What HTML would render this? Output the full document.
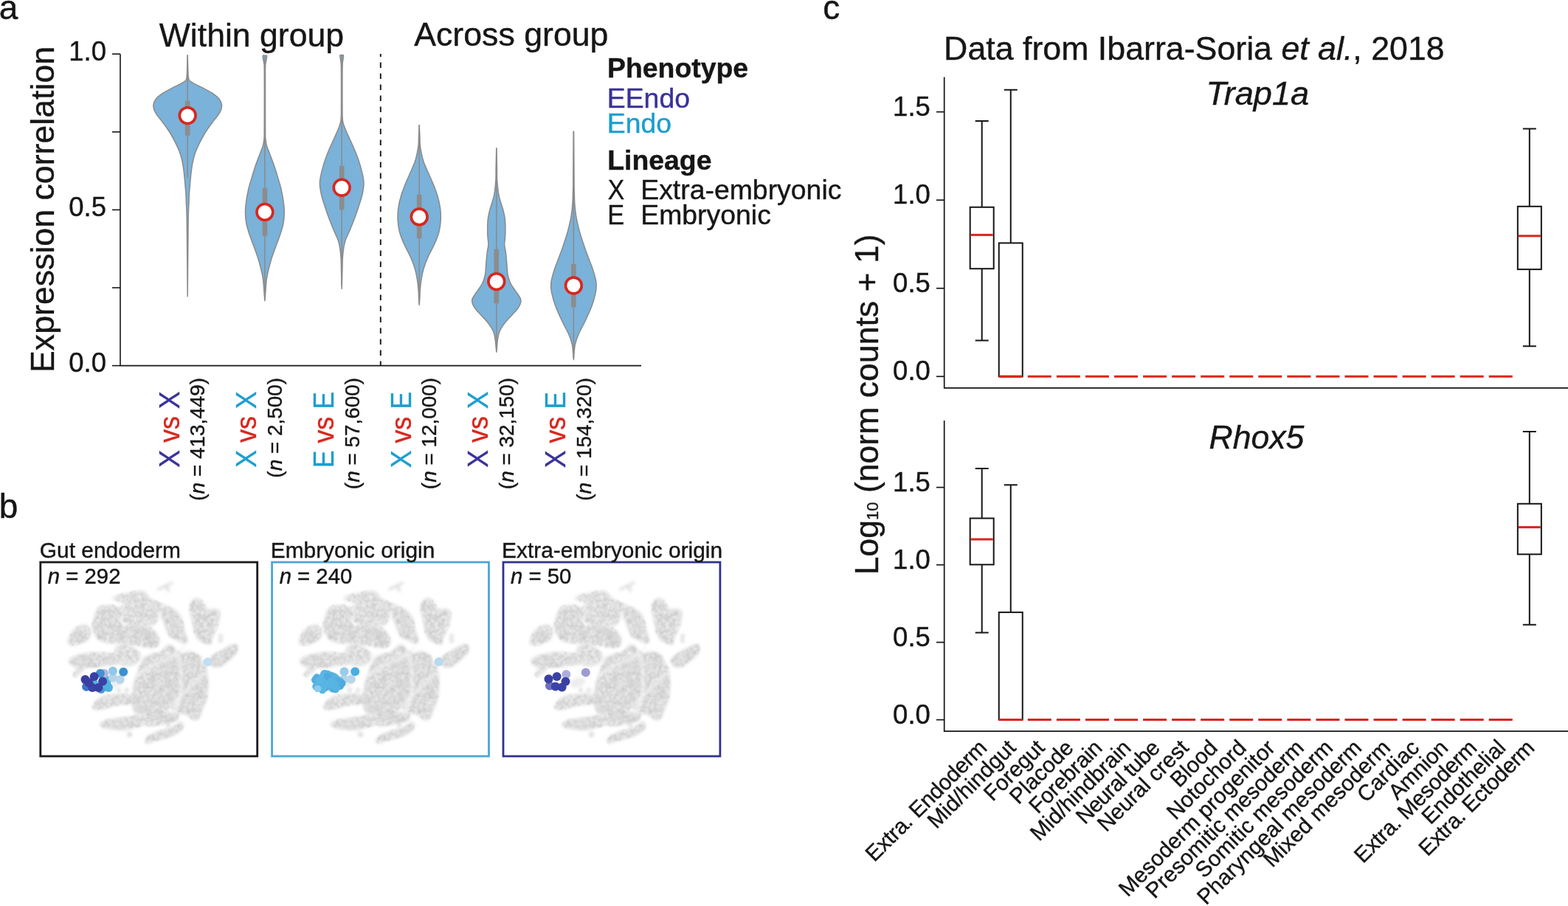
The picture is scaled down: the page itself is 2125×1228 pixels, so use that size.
<!DOCTYPE html><html><head><meta charset="utf-8"><title>Figure</title>
<style>html,body{margin:0;padding:0;background:#fff;overflow:hidden;}svg{display:block;}text{font-family:"Liberation Sans", Arial, Helvetica, sans-serif;}</style></head><body>
<svg width="2125" height="1228" viewBox="0 0 2125 1228">
<rect width="2125" height="1228" fill="#fff"/>
<text x="-1.17" y="25.6" font-size="46" fill="#161616" stroke="#161616" stroke-width="0.4">a</text>
<text x="215.78" y="62.5" font-size="44.6" fill="#161616" stroke="#161616" stroke-width="0.4">Within group</text>
<text x="561.18" y="62.4" font-size="44.7" fill="#161616" stroke="#161616" stroke-width="0.4">Across group</text>
<g stroke="#161616" stroke-width="1.6" fill="none">
<path d="M163,73.2 V495.6 H869"/>
<path d="M152,495.6 H163"/>
<path d="M152,390 H163"/>
<path d="M152,284.4 H163"/>
<path d="M152,178.8 H163"/>
<path d="M152,73.2 H163"/>
</g>
<text x="93.32" y="504" font-size="36.5" fill="#161616" stroke="#161616" stroke-width="0.4">0.0</text>
<text x="93.32" y="292.8" font-size="36.5" fill="#161616" stroke="#161616" stroke-width="0.4">0.5</text>
<text x="93.32" y="81.6" font-size="36.5" fill="#161616" stroke="#161616" stroke-width="0.4">1.0</text>
<text transform="translate(72.8,504.98) rotate(-90)" font-size="44.7" fill="#161616" stroke="#161616" stroke-width="0.4">Expression correlation</text>
<path d="M515.8,73 V495" stroke="#161616" stroke-width="1.9" stroke-dasharray="7.5 7.5" stroke-dashoffset="3.5"/>
<path d="M254.2,74.7C254.3,78.08 254.63,90.12 254.8,95C254.97,99.88 255,101.92 255.2,104C255.4,106.08 255.68,106.55 256,107.5C256.32,108.45 255.68,108.6 257.1,109.7C258.52,110.8 261.32,112.4 264.5,114.1C267.68,115.8 272.05,117.7 276.2,119.9C280.35,122.1 285.85,124.85 289.4,127.3C292.95,129.75 295.67,132.17 297.5,134.6C299.33,137.03 300.08,139.45 300.4,141.9C300.72,144.35 300.27,146.85 299.4,149.3C298.53,151.75 296.87,154.17 295.2,156.6C293.53,159.03 291.47,161.22 289.4,163.9C287.33,166.58 285,169.52 282.8,172.7C280.6,175.88 278.33,179.33 276.2,183C274.07,186.67 271.9,190.78 270,194.7C268.1,198.62 266.27,202.33 264.8,206.5C263.33,210.67 262.17,215.07 261.2,219.7C260.23,224.33 259.6,229.42 259,234.3C258.4,239.18 258.03,244.1 257.6,249C257.17,253.9 256.67,259.35 256.4,263.7C256.13,268.05 256.18,270.72 256,275.1C255.82,279.48 255.48,282.52 255.3,290C255.12,297.48 255.08,301.38 254.9,320C254.72,338.62 254.32,388.08 254.2,401.7L254.2,401.7C254.08,388.08 253.68,338.62 253.5,320C253.32,301.38 253.28,297.48 253.1,290C252.92,282.52 252.58,279.48 252.4,275.1C252.22,270.72 252.27,268.05 252,263.7C251.73,259.35 251.23,253.9 250.8,249C250.37,244.1 250,239.18 249.4,234.3C248.8,229.42 248.17,224.33 247.2,219.7C246.23,215.07 245.07,210.67 243.6,206.5C242.13,202.33 240.3,198.62 238.4,194.7C236.5,190.78 234.33,186.67 232.2,183C230.07,179.33 227.8,175.88 225.6,172.7C223.4,169.52 221.07,166.58 219,163.9C216.93,161.22 214.87,159.03 213.2,156.6C211.53,154.17 209.87,151.75 209,149.3C208.13,146.85 207.68,144.35 208,141.9C208.32,139.45 209.07,137.03 210.9,134.6C212.73,132.17 215.45,129.75 219,127.3C222.55,124.85 228.05,122.1 232.2,119.9C236.35,117.7 240.72,115.8 243.9,114.1C247.08,112.4 249.88,110.8 251.3,109.7C252.72,108.6 252.08,108.45 252.4,107.5C252.72,106.55 253,106.08 253.2,104C253.4,101.92 253.43,99.88 253.6,95C253.77,90.12 254.1,78.08 254.2,74.7Z" fill="#7ab2da" stroke="#8a8a8a" stroke-width="1.5" stroke-linejoin="round"/>
<path d="M254.2,74.7 V240.9" stroke="#8c8c8c" stroke-width="1.6"/>
<rect x="250.9" y="136.8" width="6.6" height="46.9" fill="#8c8c8c"/>
<circle cx="254.2" cy="156.6" r="10.9" fill="#fff" stroke="#d9261c" stroke-width="3.6"/>
<path d="M358.9,75.2C359.33,75.23 361.1,74.77 361.5,75.4C361.9,76.03 361.52,77.4 361.3,79C361.08,80.6 360.48,83 360.2,85C359.92,87 359.72,85.17 359.6,91C359.48,96.83 359.5,105.17 359.5,120C359.5,134.83 359.5,168.33 359.6,180C359.7,191.67 359.8,187.1 360.1,190C360.4,192.9 360.47,194.22 361.4,197.4C362.33,200.58 364,204.53 365.7,209.1C367.4,213.67 369.8,219.58 371.6,224.8C373.4,230.02 374.93,235.18 376.5,240.4C378.07,245.62 379.77,250.88 381,256.1C382.23,261.32 383.18,266.48 383.9,271.7C384.62,276.92 385.3,282.18 385.3,287.4C385.3,292.62 384.88,297.78 383.9,303C382.92,308.22 381.12,313.47 379.4,318.7C377.68,323.93 375.48,329.18 373.6,334.4C371.72,339.62 369.73,344.78 368.1,350C366.47,355.22 364.92,361.13 363.8,365.7C362.68,370.27 361.98,373.5 361.4,377.4C360.82,381.3 360.58,385.67 360.3,389.1C360.02,392.53 359.93,394.9 359.7,398C359.47,401.1 359.03,406.08 358.9,407.7L358.9,407.7C358.77,406.08 358.33,401.1 358.1,398C357.87,394.9 357.78,392.53 357.5,389.1C357.22,385.67 356.98,381.3 356.4,377.4C355.82,373.5 355.12,370.27 354,365.7C352.88,361.13 351.33,355.22 349.7,350C348.07,344.78 346.08,339.62 344.2,334.4C342.32,329.18 340.12,323.93 338.4,318.7C336.68,313.47 334.88,308.22 333.9,303C332.92,297.78 332.5,292.62 332.5,287.4C332.5,282.18 333.18,276.92 333.9,271.7C334.62,266.48 335.57,261.32 336.8,256.1C338.03,250.88 339.73,245.62 341.3,240.4C342.87,235.18 344.4,230.02 346.2,224.8C348,219.58 350.4,213.67 352.1,209.1C353.8,204.53 355.47,200.58 356.4,197.4C357.33,194.22 357.4,192.9 357.7,190C358,187.1 358.1,191.67 358.2,180C358.3,168.33 358.3,134.83 358.3,120C358.3,105.17 358.32,96.83 358.2,91C358.08,85.17 357.88,87 357.6,85C357.32,83 356.72,80.6 356.5,79C356.28,77.4 355.9,76.03 356.3,75.4C356.7,74.77 358.47,75.23 358.9,75.2Z" fill="#7ab2da" stroke="#8a8a8a" stroke-width="1.5" stroke-linejoin="round"/>
<path d="M358.9,75.2 V400" stroke="#8c8c8c" stroke-width="1.6"/>
<rect x="355.6" y="255.1" width="6.6" height="64.6" fill="#8c8c8c"/>
<circle cx="358.9" cy="287.4" r="10.9" fill="#fff" stroke="#d9261c" stroke-width="3.6"/>
<path d="M463.2,74.7C463.57,74.73 465.07,74.18 465.4,74.9C465.73,75.62 465.4,77.15 465.2,79C465,80.85 464.42,82.5 464.2,86C463.98,89.5 463.95,89.33 463.9,100C463.85,110.67 463.82,139.5 463.9,150C463.98,160.5 463.97,159.47 464.4,163C464.83,166.53 465.35,167.93 466.5,171.2C467.65,174.47 469.27,178 471.3,182.6C473.33,187.2 476.38,193.38 478.7,198.8C481.02,204.22 483.3,209.67 485.2,215.1C487.1,220.53 488.8,225.97 490.1,231.4C491.4,236.83 492.87,242.28 493,247.7C493.13,253.12 492.07,258.48 490.9,263.9C489.73,269.32 487.77,274.77 486,280.2C484.23,285.63 482.33,291.07 480.3,296.5C478.27,301.93 475.83,307.92 473.8,312.8C471.77,317.68 469.47,321.73 468.1,325.8C466.73,329.87 466.23,333.17 465.6,337.2C464.97,341.23 464.58,345.37 464.3,350C464.02,354.63 464.08,358.08 463.9,365C463.72,371.92 463.32,387.08 463.2,391.5L463.2,391.5C463.08,387.08 462.68,371.92 462.5,365C462.32,358.08 462.38,354.63 462.1,350C461.82,345.37 461.43,341.23 460.8,337.2C460.17,333.17 459.67,329.87 458.3,325.8C456.93,321.73 454.63,317.68 452.6,312.8C450.57,307.92 448.13,301.93 446.1,296.5C444.07,291.07 442.17,285.63 440.4,280.2C438.63,274.77 436.67,269.32 435.5,263.9C434.33,258.48 433.27,253.12 433.4,247.7C433.53,242.28 435,236.83 436.3,231.4C437.6,225.97 439.3,220.53 441.2,215.1C443.1,209.67 445.38,204.22 447.7,198.8C450.02,193.38 453.07,187.2 455.1,182.6C457.13,178 458.75,174.47 459.9,171.2C461.05,167.93 461.57,166.53 462,163C462.43,159.47 462.42,160.5 462.5,150C462.58,139.5 462.55,110.67 462.5,100C462.45,89.33 462.42,89.5 462.2,86C461.98,82.5 461.4,80.85 461.2,79C461,77.15 460.67,75.62 461,74.9C461.33,74.18 462.83,74.73 463.2,74.7Z" fill="#7ab2da" stroke="#8a8a8a" stroke-width="1.5" stroke-linejoin="round"/>
<path d="M463.2,74.7 V388" stroke="#8c8c8c" stroke-width="1.6"/>
<rect x="459.9" y="224.9" width="6.6" height="59.4" fill="#8c8c8c"/>
<circle cx="463.2" cy="254.2" r="10.9" fill="#fff" stroke="#d9261c" stroke-width="3.6"/>
<path d="M568.2,169.4C568.32,172 568.72,180.53 568.9,185C569.08,189.47 568.97,192.6 569.3,196.2C569.63,199.8 570.12,202.8 570.9,206.6C571.68,210.4 572.62,214.85 574,219C575.38,223.15 577.12,226.65 579.2,231.5C581.28,236.35 584.25,242.55 586.5,248.1C588.75,253.65 591.03,259.25 592.7,264.8C594.37,270.35 595.73,275.87 596.5,281.4C597.27,286.93 597.58,292.45 597.3,298C597.02,303.55 596.25,309.15 594.8,314.7C593.35,320.25 591.03,325.77 588.6,331.3C586.17,336.83 582.63,342.37 580.2,347.9C577.77,353.43 575.55,359.3 574,364.5C572.45,369.7 571.68,374.25 570.9,379.1C570.12,383.95 569.63,389.62 569.3,393.6C568.97,397.58 569.08,399.7 568.9,403C568.72,406.3 568.32,411.67 568.2,413.4L568.2,413.4C568.08,411.67 567.68,406.3 567.5,403C567.32,399.7 567.43,397.58 567.1,393.6C566.77,389.62 566.28,383.95 565.5,379.1C564.72,374.25 563.95,369.7 562.4,364.5C560.85,359.3 558.63,353.43 556.2,347.9C553.77,342.37 550.23,336.83 547.8,331.3C545.37,325.77 543.05,320.25 541.6,314.7C540.15,309.15 539.38,303.55 539.1,298C538.82,292.45 539.13,286.93 539.9,281.4C540.67,275.87 542.03,270.35 543.7,264.8C545.37,259.25 547.65,253.65 549.9,248.1C552.15,242.55 555.12,236.35 557.2,231.5C559.28,226.65 561.02,223.15 562.4,219C563.78,214.85 564.72,210.4 565.5,206.6C566.28,202.8 566.77,199.8 567.1,196.2C567.43,192.6 567.32,189.47 567.5,185C567.68,180.53 568.08,172 568.2,169.4Z" fill="#7ab2da" stroke="#8a8a8a" stroke-width="1.5" stroke-linejoin="round"/>
<path d="M568.2,169.4 V412" stroke="#8c8c8c" stroke-width="1.6"/>
<rect x="564.9" y="263.7" width="6.6" height="59.3" fill="#8c8c8c"/>
<circle cx="568.2" cy="293.9" r="10.9" fill="#fff" stroke="#d9261c" stroke-width="3.6"/>
<path d="M672.8,200.8C672.9,204.83 673.27,218.1 673.4,225C673.53,231.9 673.45,237.7 673.6,242.2C673.75,246.7 674,248.85 674.3,252C674.6,255.15 674.98,258.43 675.4,261.1C675.82,263.77 676.22,265.63 676.8,268C677.38,270.37 678.18,272.97 678.9,275.3C679.62,277.63 680.42,279.63 681.1,282C681.78,284.37 682.48,287.17 683,289.5C683.52,291.83 683.9,293.63 684.2,296C684.5,298.37 684.7,300.07 684.8,303.7C684.9,307.33 684.92,314.08 684.8,317.8C684.68,321.52 684.28,323.63 684.1,326C683.92,328.37 683.5,329.42 683.7,332C683.9,334.58 684.8,337.57 685.3,341.5C685.8,345.43 686.3,350.88 686.7,355.6C687.1,360.32 687.27,366.23 687.7,369.8C688.13,373.37 688.6,374.63 689.3,377C690,379.37 690.73,381.67 691.9,384C693.07,386.33 694.72,388.63 696.3,391C697.88,393.37 699.85,395.82 701.4,398.2C702.95,400.58 704.9,403.33 705.6,405.3C706.3,407.27 705.9,408.43 705.6,410C705.3,411.57 704.68,413.03 703.8,414.7C702.92,416.37 701.88,418.03 700.3,420C698.72,421.97 697.07,423.45 694.3,426.5C691.53,429.55 686.65,434.37 683.7,438.3C680.75,442.23 678.18,446.15 676.6,450.1C675.02,454.05 674.72,458.68 674.2,462C673.68,465.32 673.73,467.45 673.5,470C673.27,472.55 672.92,476.08 672.8,477.3L672.8,477.3C672.68,476.08 672.33,472.55 672.1,470C671.87,467.45 671.92,465.32 671.4,462C670.88,458.68 670.58,454.05 669,450.1C667.42,446.15 664.85,442.23 661.9,438.3C658.95,434.37 654.07,429.55 651.3,426.5C648.53,423.45 646.88,421.97 645.3,420C643.72,418.03 642.68,416.37 641.8,414.7C640.92,413.03 640.3,411.57 640,410C639.7,408.43 639.3,407.27 640,405.3C640.7,403.33 642.65,400.58 644.2,398.2C645.75,395.82 647.72,393.37 649.3,391C650.88,388.63 652.53,386.33 653.7,384C654.87,381.67 655.6,379.37 656.3,377C657,374.63 657.47,373.37 657.9,369.8C658.33,366.23 658.5,360.32 658.9,355.6C659.3,350.88 659.8,345.43 660.3,341.5C660.8,337.57 661.7,334.58 661.9,332C662.1,329.42 661.68,328.37 661.5,326C661.32,323.63 660.92,321.52 660.8,317.8C660.68,314.08 660.7,307.33 660.8,303.7C660.9,300.07 661.1,298.37 661.4,296C661.7,293.63 662.08,291.83 662.6,289.5C663.12,287.17 663.82,284.37 664.5,282C665.18,279.63 665.98,277.63 666.7,275.3C667.42,272.97 668.22,270.37 668.8,268C669.38,265.63 669.78,263.77 670.2,261.1C670.62,258.43 671,255.15 671.3,252C671.6,248.85 671.85,246.7 672,242.2C672.15,237.7 672.07,231.9 672.2,225C672.33,218.1 672.7,204.83 672.8,200.8Z" fill="#7ab2da" stroke="#8a8a8a" stroke-width="1.5" stroke-linejoin="round"/>
<path d="M672.8,200.8 V476" stroke="#8c8c8c" stroke-width="1.6"/>
<rect x="669.5" y="337.9" width="6.6" height="73.3" fill="#8c8c8c"/>
<circle cx="672.8" cy="381.6" r="10.9" fill="#fff" stroke="#d9261c" stroke-width="3.6"/>
<path d="M777.4,177.9C777.47,184.92 777.7,208.08 777.8,220C777.9,231.92 777.9,241.9 778,249.4C778.1,256.9 778.27,260.58 778.4,265C778.53,269.42 778.55,272.23 778.8,275.9C779.05,279.57 779.47,283.48 779.9,287C780.33,290.52 780.77,293.67 781.4,297C782.03,300.33 782.82,303.47 783.7,307C784.58,310.53 785.02,312.8 786.7,318.2C788.38,323.6 791.28,332.33 793.8,339.4C796.32,346.47 799.9,355.33 801.8,360.6C803.7,365.87 804.2,367.47 805.2,371C806.2,374.53 807.33,378.63 807.8,381.8C808.27,384.97 808.13,387.37 808,390C807.87,392.63 807.92,393.68 807,397.6C806.08,401.52 804.78,407.32 802.5,413.5C800.22,419.68 796.38,428.08 793.3,434.7C790.22,441.32 786.3,447.9 784,453.2C781.7,458.5 780.47,462.53 779.5,466.5C778.53,470.47 778.55,473.48 778.2,477C777.85,480.52 777.53,485.83 777.4,487.6L777.4,487.6C777.27,485.83 776.95,480.52 776.6,477C776.25,473.48 776.27,470.47 775.3,466.5C774.33,462.53 773.1,458.5 770.8,453.2C768.5,447.9 764.58,441.32 761.5,434.7C758.42,428.08 754.58,419.68 752.3,413.5C750.02,407.32 748.72,401.52 747.8,397.6C746.88,393.68 746.93,392.63 746.8,390C746.67,387.37 746.53,384.97 747,381.8C747.47,378.63 748.6,374.53 749.6,371C750.6,367.47 751.1,365.87 753,360.6C754.9,355.33 758.48,346.47 761,339.4C763.52,332.33 766.42,323.6 768.1,318.2C769.78,312.8 770.22,310.53 771.1,307C771.98,303.47 772.77,300.33 773.4,297C774.03,293.67 774.47,290.52 774.9,287C775.33,283.48 775.75,279.57 776,275.9C776.25,272.23 776.27,269.42 776.4,265C776.53,260.58 776.7,256.9 776.8,249.4C776.9,241.9 776.9,231.92 777,220C777.1,208.08 777.33,184.92 777.4,177.9Z" fill="#7ab2da" stroke="#8a8a8a" stroke-width="1.5" stroke-linejoin="round"/>
<path d="M777.4,177.9 V486" stroke="#8c8c8c" stroke-width="1.6"/>
<rect x="774.1" y="357.9" width="6.6" height="58.3" fill="#8c8c8c"/>
<circle cx="777.4" cy="387" r="10.9" fill="#fff" stroke="#d9261c" stroke-width="3.6"/>
<text transform="translate(242.5,530.3) rotate(-90) scale(0.917,1)" font-size="39.0" text-anchor="end"><tspan fill="#38329a" stroke="#38329a" stroke-width="0.4">X</tspan> <tspan fill="#d9261c" stroke="#d9261c" stroke-width="0.4">vs</tspan> <tspan fill="#38329a" stroke="#38329a" stroke-width="0.4">X</tspan></text>
<text transform="translate(277.2,511.96) rotate(-90)" font-size="27.9" text-anchor="end" fill="#161616" stroke="#161616" stroke-width="0.4">(<tspan font-style="italic">n</tspan> = 413,449)</text>
<text transform="translate(347.1,530.3) rotate(-90) scale(0.917,1)" font-size="39.0" text-anchor="end"><tspan fill="#1c9ecf" stroke="#1c9ecf" stroke-width="0.4">X</tspan> <tspan fill="#d9261c" stroke="#d9261c" stroke-width="0.4">vs</tspan> <tspan fill="#1c9ecf" stroke="#1c9ecf" stroke-width="0.4">X</tspan></text>
<text transform="translate(381.8,511.96) rotate(-90)" font-size="27.9" text-anchor="end" fill="#161616" stroke="#161616" stroke-width="0.4">(<tspan font-style="italic">n</tspan> = 2,500)</text>
<text transform="translate(451.9,531.02) rotate(-90) scale(0.917,1)" font-size="39.0" text-anchor="end"><tspan fill="#1c9ecf" stroke="#1c9ecf" stroke-width="0.4">E</tspan> <tspan fill="#d9261c" stroke="#d9261c" stroke-width="0.4">vs</tspan> <tspan fill="#1c9ecf" stroke="#1c9ecf" stroke-width="0.4">E</tspan></text>
<text transform="translate(486.6,511.96) rotate(-90)" font-size="27.9" text-anchor="end" fill="#161616" stroke="#161616" stroke-width="0.4">(<tspan font-style="italic">n</tspan> = 57,600)</text>
<text transform="translate(556.5,531.02) rotate(-90) scale(0.917,1)" font-size="39.0" text-anchor="end"><tspan fill="#1c9ecf" stroke="#1c9ecf" stroke-width="0.4">X</tspan> <tspan fill="#d9261c" stroke="#d9261c" stroke-width="0.4">vs</tspan> <tspan fill="#1c9ecf" stroke="#1c9ecf" stroke-width="0.4">E</tspan></text>
<text transform="translate(591.2,511.96) rotate(-90)" font-size="27.9" text-anchor="end" fill="#161616" stroke="#161616" stroke-width="0.4">(<tspan font-style="italic">n</tspan> = 12,000)</text>
<text transform="translate(661.4,530.3) rotate(-90) scale(0.917,1)" font-size="39.0" text-anchor="end"><tspan fill="#38329a" stroke="#38329a" stroke-width="0.4">X</tspan> <tspan fill="#d9261c" stroke="#d9261c" stroke-width="0.4">vs</tspan> <tspan fill="#1c9ecf" stroke="#1c9ecf" stroke-width="0.4">X</tspan></text>
<text transform="translate(696.1,511.96) rotate(-90)" font-size="27.9" text-anchor="end" fill="#161616" stroke="#161616" stroke-width="0.4">(<tspan font-style="italic">n</tspan> = 32,150)</text>
<text transform="translate(765.9,531.02) rotate(-90) scale(0.917,1)" font-size="39.0" text-anchor="end"><tspan fill="#38329a" stroke="#38329a" stroke-width="0.4">X</tspan> <tspan fill="#d9261c" stroke="#d9261c" stroke-width="0.4">vs</tspan> <tspan fill="#1c9ecf" stroke="#1c9ecf" stroke-width="0.4">E</tspan></text>
<text transform="translate(800.6,511.96) rotate(-90)" font-size="27.9" text-anchor="end" fill="#161616" stroke="#161616" stroke-width="0.4">(<tspan font-style="italic">n</tspan> = 154,320)</text>
<text x="822.97" y="104.8" font-size="37.4" font-weight="bold" fill="#161616" stroke="#161616" stroke-width="0.4">Phenotype</text>
<text x="822.71" y="145.7" font-size="37.4" fill="#38329a" stroke="#38329a" stroke-width="0.4">EEndo</text>
<text x="822.71" y="180" font-size="37.4" fill="#1c9ecf" stroke="#1c9ecf" stroke-width="0.4">Endo</text>
<text x="823.17" y="229.5" font-size="37.4" font-weight="bold" fill="#161616" stroke="#161616" stroke-width="0.4">Lineage</text>
<text x="823.67" y="269.9" font-size="37.4" fill="#161616" transform="translate(824.6,0) scale(0.9,1) translate(-824.6,0)" stroke="#161616" stroke-width="0.4">X</text>
<text x="868.21" y="269.9" font-size="37.4" fill="#161616" stroke="#161616" stroke-width="0.4">Extra-embryonic</text>
<text x="822.91" y="303.7" font-size="37.4" fill="#161616" transform="translate(825.9,0) scale(0.92,1) translate(-825.9,0)" stroke="#161616" stroke-width="0.4">E</text>
<text x="868.21" y="303.7" font-size="37.4" fill="#161616" stroke="#161616" stroke-width="0.4">Embryonic</text>
<text x="-1.19" y="701.5" font-size="46" fill="#161616" stroke="#161616" stroke-width="0.4">b</text>
<defs><filter id="bl" x="-10%" y="-10%" width="120%" height="120%"><feGaussianBlur stdDeviation="2.2"/></filter>
<filter id="bl2" x="-5%" y="-5%" width="110%" height="110%"><feGaussianBlur stdDeviation="0.8"/></filter>
</defs>
<g transform="translate(-626.1,0)"><g filter="url(#bl)"><path d="M788.1,825.5C789.3,822.6 792.2,817.7 797.9,816.9C803.6,816.1 816.2,819.2 822.4,820.6C828.5,822 831.5,822.8 834.6,825.5C837.6,828.1 840.7,832.8 840.7,836.5C840.7,840.2 837.6,845.9 834.6,847.5C831.5,849.1 827.5,846.5 822.4,846.3C817.3,846.1 808.9,846.9 804,846.3C799.1,845.7 795.2,844.7 793,842.6C790.7,840.6 791.4,836.9 790.5,834C789.7,831.2 786.9,828.3 788.1,825.5Z" fill="#e0e0e0"/><path d="M718.4,868.3C718.8,865.9 720.2,861.4 722,858.5C723.9,855.7 726.9,853 729.4,851.2C731.8,849.3 734.1,847.9 736.7,847.5C739.4,847.1 743.2,847.3 745.3,848.7C747.3,850.2 748.7,853.2 748.9,856.1C749.1,858.9 748.3,863.4 746.5,865.9C744.7,868.3 741.2,869.3 737.9,870.8C734.7,872.2 730,874 726.9,874.4C723.9,874.8 721,874.2 719.6,873.2C718.1,872.2 717.9,870.8 718.4,868.3Z" fill="#d9d9d9"/><path d="M751.4,847.5C751.4,844 752.8,840 753.8,836.5C754.9,833 755.9,829.2 757.5,826.7C759.1,824.3 760.2,822.8 763.6,821.8C767.1,820.8 774.2,820 778.3,820.6C782.4,821.2 786.1,823.2 788.1,825.5C790.1,827.7 790.5,831.2 790.5,834C790.5,836.9 787.7,840.2 788.1,842.6C788.5,845.1 790.3,847.9 793,848.7C795.6,849.5 800.1,847.9 804,847.5C807.9,847.1 812.2,845.9 816.2,846.3C820.3,846.7 824.8,847.9 828.5,850C832.1,852 836,855.5 838.3,858.5C840.5,861.6 841.7,865.5 841.9,868.3C842.1,871.2 841.5,874 839.5,875.6C837.4,877.3 833.4,878.1 829.7,878.1C826,878.1 821.5,876.5 817.5,875.6C813.4,874.8 809.3,874 805.2,873.2C801.1,872.4 797.1,871 793,870.8C788.9,870.5 784.8,872 780.8,872C776.7,872 772.2,871.8 768.5,870.8C764.8,869.7 761.2,868.1 758.7,865.9C756.3,863.6 755.1,860.4 753.8,857.3C752.6,854.2 751.4,851 751.4,847.5Z" fill="#d9d9d9"/><path d="M778.3,810.8C778.7,809.4 784.2,807.1 788.1,805.9C792,804.7 797.5,804.3 801.6,803.5C805.6,802.6 809.1,801.2 812.6,801C816,800.8 819.5,800.6 822.4,802.2C825.2,803.9 827,808.6 829.7,810.8C832.3,813 834.8,814.1 838.3,815.7C841.7,817.3 846.6,819 850.5,820.6C854.4,822.2 858.4,823.4 861.5,825.5C864.6,827.5 869.3,831.8 868.8,832.8C868.4,833.8 862.7,832.2 859.1,831.6C855.4,831 850.9,830.2 846.8,829.2C842.7,828.1 838.7,826.9 834.6,825.5C830.5,824.1 826.4,821.8 822.4,820.6C818.3,819.4 814.2,818.8 810.1,818.1C806,817.5 802,817.5 797.9,816.9C793.8,816.3 788.9,815.5 785.6,814.5C782.4,813.5 777.9,812.2 778.3,810.8Z" fill="#e0e0e0"/><path d="M846.8,824.3C849.3,823 855.2,825.1 859.1,826.7C862.9,828.3 867.6,831.2 870.1,834C872.5,836.9 872.7,840.2 873.7,843.8C874.8,847.5 875.2,852.4 876.2,856.1C877.2,859.7 879.5,863.2 879.9,865.9C880.3,868.5 880.1,871.2 878.6,872C877.2,872.8 873.9,871.8 871.3,870.8C868.6,869.7 865.2,867.1 862.7,865.9C860.3,864.6 858.4,865.5 856.6,863.4C854.8,861.4 853.1,856.9 851.7,853.6C850.3,850.4 849.3,847.1 848,843.8C846.8,840.6 844.6,837.3 844.4,834C844.2,830.8 844.4,825.5 846.8,824.3Z" fill="#d9d9d9"/><path d="M883.5,827.9C883.1,823.4 883.3,819.8 884.8,816.9C886.2,814.1 889.6,811.2 892.1,810.8C894.5,810.4 897,812 899.4,814.5C901.9,816.9 903.7,823.6 906.8,825.5C909.8,827.3 914.9,824.9 917.8,825.5C920.6,826.1 923.1,826.5 923.9,829.2C924.7,831.8 923.5,837.3 922.7,841.4C921.9,845.5 920.4,850 919,853.6C917.6,857.3 915.5,860.1 914.1,863.4C912.7,866.7 912.5,872 910.4,873.2C908.4,874.4 904.5,871.8 901.9,870.8C899.2,869.7 896.6,869.5 894.5,867.1C892.5,864.6 890.9,859.9 889.6,856.1C888.4,852.2 888.2,848.5 887.2,843.8C886.2,839.1 883.9,832.4 883.5,827.9Z" fill="#d9d9d9"/><path d="M909.2,895.2C909.4,892.6 912.3,890.3 915.3,887.9C918.4,885.4 923.1,883 927.6,880.5C932.1,878.1 938.8,874 942.3,873.2C945.7,872.4 947.8,873.6 948.4,875.6C949,877.7 948,882.2 945.9,885.4C943.9,888.7 939.8,892.2 936.1,895.2C932.5,898.3 927.6,902.4 923.9,903.8C920.2,905.2 916.6,905.2 914.1,903.8C911.7,902.4 909,897.9 909.2,895.2Z" fill="#d9d9d9"/><path d="M719.6,895.2C720.2,893 724.3,890.7 728.1,889.1C732,887.5 737.7,886.3 742.8,885.4C747.9,884.6 753.6,884.2 758.7,884.2C763.8,884.2 768.5,885 773.4,885.4C778.3,885.8 784.4,885.6 788.1,886.7C791.8,887.7 795,889.5 795.4,891.6C795.8,893.6 793.8,897.3 790.5,898.9C787.3,900.5 781.2,900.5 775.9,901.3C770.6,902.2 764.6,903.2 758.7,903.8C752.8,904.4 746.1,905.2 740.4,905C734.7,904.8 727.9,904.2 724.5,902.6C721,900.9 719,897.5 719.6,895.2Z" fill="#d9d9d9"/><path d="M817.5,900.1C818.5,898.3 818.7,893.8 821.1,891.6C823.6,889.3 828.3,888.1 832.1,886.7C836,885.2 841.1,884.8 844.4,883C847.6,881.2 849.3,877.1 851.7,875.6C854.2,874.2 856.6,873.2 859.1,874.4C861.5,875.6 864,881.2 866.4,883C868.8,884.8 870.9,885.4 873.7,885.4C876.6,885.4 879.9,882.6 883.5,883C887.2,883.4 892.7,885 895.8,887.9C898.8,890.7 900.7,898.1 901.9,900.1C903.1,902.1 902.3,898 903.1,900C903.9,902 906,907.1 906.8,912.2C907.6,917.3 908.2,924.5 908,930.6C907.8,936.7 906.8,943.8 905.6,948.9C904.3,954 902.3,957.1 900.7,961.2C899,965.3 897.8,971 895.8,973.4C893.7,975.9 891.5,976.7 888.4,975.9C885.4,975 881.3,970.1 877.4,968.5C873.5,966.9 868.6,967.7 865.2,966.1C861.7,964.4 859.7,958.3 856.6,958.7C853.6,959.1 850.5,966.1 846.8,968.5C843.2,971 838.7,973.4 834.6,973.4C830.5,973.4 826.4,969.7 822.4,968.5C818.3,967.3 813,968.1 810.1,966.1C807.3,964 806.2,959.5 805.2,956.3C804.2,953 803.8,950.2 804,946.5C804.2,942.8 805.8,937.9 806.4,934.3C807.1,930.6 806.7,928.1 807.7,924.5C808.7,920.8 811.3,915.9 812.6,912.2C813.8,908.6 814.2,904.5 815,902.4C815.8,900.4 816.4,901.9 817.5,900.1Z" fill="#d9d9d9"/><path d="M751.4,957.5C752.2,955.3 755.9,950.2 758.7,947.7C761.6,945.3 764.4,943.8 768.5,942.8C772.6,941.8 778.3,942 783.2,941.6C788.1,941.2 794.2,939.6 797.9,940.4C801.6,941.2 804.6,944.3 805.2,946.5C805.8,948.7 804.4,952.4 801.6,953.8C798.7,955.3 792.8,954.2 788.1,955.1C783.4,955.9 777.9,957.6 773.4,958.7C768.9,959.9 764.4,961.4 761.2,961.8C757.9,962.2 755.5,961.9 753.8,961.2C752.2,960.5 750.6,959.7 751.4,957.5Z" fill="#d9d9d9"/><path d="M761.2,980.8C762,979 766.5,977.1 771,975.9C775.5,974.6 782.6,974.2 788.1,973.4C793.6,972.6 799.1,971.8 804,971C808.9,970.1 814.2,968.1 817.5,968.5C820.7,968.9 823,971.2 823.6,973.4C824.2,975.7 823.4,979.9 821.1,982C818.9,984 814.2,984.4 810.1,985.6C806,986.9 801.6,988.8 796.7,989.3C791.8,989.8 785.9,989.2 780.8,988.7C775.7,988.2 769.3,987.6 766.1,986.3C762.8,984.9 760.4,982.5 761.2,980.8Z" fill="#d9d9d9"/><path d="M822.4,1004C822.8,1002.2 825.4,998.8 828.5,996.7C831.5,994.5 836.6,992.6 840.7,991.2C844.8,989.7 849.3,989.2 852.9,988.1C856.6,987 859.7,986.1 862.7,984.4C865.8,982.8 869.3,978.3 871.3,978.3C873.3,978.3 875.2,982.3 875,984.4C874.8,986.6 872.7,988.9 870.1,991.2C867.4,993.4 862.9,996.3 859.1,997.9C855.2,999.5 850.9,999.8 846.8,1000.9C842.7,1002.1 838.1,1003.5 834.6,1004.6C831.1,1005.7 828.1,1007.8 826,1007.7C824,1007.6 821.9,1005.8 822.4,1004Z" fill="#d9d9d9"/><path d="M724.5,914.7C724.7,913.1 727.3,909.6 729.4,907.3C731.4,905.1 734.9,901.2 736.7,901.2C738.5,901.2 740.8,905.3 740.4,907.3C740,909.4 736.3,911.8 734.3,913.5C732.2,915.1 729.8,916.9 728.1,917.1C726.5,917.3 724.3,916.3 724.5,914.7Z" fill="#e0e0e0"/><path d="M782.7,878C785.5,874.5 793.8,872.4 799.3,873.8C804.8,875.2 813.8,882.1 815.9,886.3C818,890.4 815.2,895.9 811.8,898.7C808.3,901.5 800,903.6 795.2,902.9C790.3,902.2 784.8,898.7 782.7,894.6C780.6,890.4 779.9,881.4 782.7,878Z" fill="#e0e0e0"/><path d="M815.9,977.6C816.6,975.2 826.3,971.4 832.5,969.3C838.7,967.2 847.4,965.1 853.3,965.1C859.2,965.1 866.1,967.2 867.8,969.3C869.5,971.4 867.5,975.5 863.7,977.6C859.9,979.7 850.9,980.7 845,981.8C839.1,982.8 833.2,984.5 828.4,983.8C823.5,983.1 815.2,980 815.9,977.6Z" fill="#d9d9d9"/><path d="M773.4,924.5C774.8,922.4 779.9,919 783.2,918.4C786.5,917.7 791.8,919.2 793,920.8C794.2,922.4 792.6,926.3 790.5,928.1C788.5,930 783.4,931.4 780.8,931.8C778.1,932.2 775.9,931.8 774.6,930.6C773.4,929.4 772,926.5 773.4,924.5Z" fill="#ececec"/><path d="M840.7,798.6 L851.1,793.9 L859.1,790" fill="none" stroke="#d9d9d9" stroke-width="3" stroke-linecap="round"/><path d="M851.1,794.3 L854.8,801" fill="none" stroke="#d9d9d9" stroke-width="3" stroke-linecap="round"/><path d="M785.6,878.1 L793,874.4 L800.3,883 L812.6,887.9" fill="none" stroke="#d9d9d9" stroke-width="3" stroke-linecap="round"/><circle cx="925.1" cy="862.2" r="2.4" fill="#cfcfcf"/><circle cx="925.1" cy="868.3" r="2.4" fill="#cfcfcf"/><circle cx="910.4" cy="870.8" r="2.4" fill="#cfcfcf"/><circle cx="801.6" cy="835.3" r="3" fill="#cfcfcf"/><circle cx="817.5" cy="836.5" r="3" fill="#cfcfcf"/><circle cx="838.3" cy="829.2" r="2.4" fill="#cfcfcf"/><circle cx="851.7" cy="975.9" r="2.6" fill="#cfcfcf"/><circle cx="862.7" cy="974.6" r="2.6" fill="#cfcfcf"/><circle cx="854.2" cy="983.2" r="2.4" fill="#cfcfcf"/><circle cx="801.6" cy="995.4" r="3" fill="#cfcfcf"/><circle cx="786.9" cy="935.5" r="2.4" fill="#cfcfcf"/><circle cx="797.9" cy="935.5" r="2.4" fill="#cfcfcf"/></g><path d="M728.1,912.9h0M816.1,976.9h0M782.4,826.7h0M787.1,974.5h0M855.4,935.6h0M880.1,889.1h0M856.4,894.7h0M748,902.6h0M828.5,941.1h0M915.5,857.6h0M825.4,832h0M742.3,849.5h0M779.6,886.4h0M768,846.3h0M857.3,852.8h0M808.1,882.8h0M796.8,875.1h0M826.5,901.4h0M735.5,870.4h0M917.2,830.5h0M843.1,966.4h0M801.2,843.5h0M897.5,900.2h0M891.2,832.4h0M841.6,1000.4h0M762.8,850.4h0M774.8,887.2h0M909.8,832.9h0M891.3,917.4h0M823.1,912.3h0M820.5,811h0M794.8,838.1h0M848.5,891.9h0M904.7,854.5h0M914.7,851.9h0M760.4,863.6h0M847.8,836.7h0M914.7,890.1h0M869,884h0M773.9,830.9h0M770.6,859.5h0M749.4,893.1h0M880.2,902.6h0M776.4,955.5h0M864.2,936.4h0M839.1,897.2h0M822.4,854.1h0M822.7,861.4h0M817,855.5h0M847.3,953.3h0M871.1,858h0M828,870.6h0M808.6,831.8h0M732.7,870.2h0M804.2,869.4h0M867.4,984.8h0M777.8,849.7h0M828.3,924.2h0M824.3,916.3h0M871.4,861.8h0M884.6,819.7h0M841.1,923.2h0M878.6,887.4h0M894.8,906.1h0M915,845.8h0M833.9,836.2h0M803.5,868h0M818.1,805.8h0M789.1,855.6h0M806.6,850.2h0M833.4,999.2h0M759.3,960.6h0M834.6,951.1h0M759.8,849.4h0M803.1,985.5h0M859,931.4h0M802.2,826.1h0M847.5,935.6h0M812.4,857.3h0M759.3,955.2h0M815.9,975.5h0M930.7,896.4h0M755.7,843h0M850.6,961.6h0M816.4,939.9h0M864.7,902.7h0M824.6,834.5h0M817.6,815.2h0M842.7,935h0M855,989.2h0M808.6,970.5h0M875.9,863.8h0M798.7,818.4h0M770.9,827.8h0M810.5,853.1h0M871.2,918.7h0M811.5,847.3h0M913.3,833.4h0M826.3,958.2h0M796.2,826.2h0M761.2,865.2h0M780.6,952.5h0M819.1,965.1h0M886.2,913.3h0M915,832.5h0M756.1,903.8h0M798.9,883.3h0M898.2,937.2h0M875.5,958.2h0M769.5,837.1h0M893.3,890.7h0M835.1,934.1h0M879.9,936.1h0M867.4,850h0M823.8,931.7h0M798.9,807.5h0M798,853.3h0M827.3,918.7h0M914,898h0M798.7,982.1h0M804,850.8h0M890.4,856.9h0M874,850h0M904.1,871.2h0M768.5,825.7h0M724.6,897.8h0M762.7,890.7h0M848.5,976.9h0M792.7,864.8h0M722.4,861.1h0M859.1,944.8h0M785.5,887.8h0M763.1,828.4h0M819.7,943.9h0M871.2,933.5h0M860.3,862.9h0M911.9,857.3h0M861.7,944.1h0M757.3,837.3h0M831.6,919.8h0M760.2,834.8h0M859.5,882.4h0M736.4,866.3h0M741,900.9h0M829.4,933.2h0M888.4,916.7h0M812.9,829.3h0M751.9,903h0M762.8,900h0M774.4,839.4h0M795.2,825.8h0M902.6,951.6h0M862.1,904h0M801.8,831h0M790.2,951.5h0M779.9,821.8h0M853.2,959.2h0M742.8,859.6h0M782.1,848.5h0M852.5,938.1h0M863.2,898.2h0M849.2,903.1h0M903,829.9h0M927.8,891.8h0M804.9,894.5h0M821,835.5h0M842.5,974.5h0M815.2,829.4h0M837.9,906.1h0M834.5,916.7h0M853.6,885.4h0M790.7,952.4h0M819.9,931.4h0M807.4,953.1h0M787.3,987.6h0M908.2,848.5h0M806.4,883.7h0M797.8,848.9h0M780.9,847.2h0M876.1,870.1h0M777.4,978.7h0M766.8,894.6h0M874.4,919.9h0M807.5,813.9h0M835.1,860.3h0M787.8,844.8h0M879.9,941h0M772.1,981.3h0M867.2,835h0M759.5,861.7h0M852.5,952.7h0M818.7,945.6h0M904.1,858h0M867,894.6h0M885.7,972.3h0M869.4,914.7h0M724.8,873.7h0M760.4,863.3h0M886.7,942.5h0M822,819.9h0M827.2,874.9h0M737.2,902.6h0M873.2,850.3h0M917.8,847.7h0M834.9,829.6h0M838.7,887.7h0M797,838h0M865,973.5h0M879.1,929h0M830.2,937.4h0M879.7,893.4h0M851.2,882.2h0M832.3,916.9h0M838.3,924.5h0M812,811.2h0M888.7,961.5h0M858.6,841.9h0M847.2,971.7h0M773.7,837.5h0M782.5,946.2h0M807,872.8h0M847.7,884.3h0M830.4,875.8h0M927.7,894.7h0M779,851.7h0M795.3,825.1h0M859.5,851.5h0M873.8,965.3h0M899.1,814.8h0M835.5,917.2h0M944.9,875.4h0M834.7,934.9h0M910.1,896.2h0M766,850.4h0M818.4,845.9h0M899.8,936.4h0M780.6,867.9h0M880.7,926.5h0M854.8,989.2h0M894,816.5h0M817.6,818.1h0M831.8,824.9h0M835.2,819.7h0M834.1,997.1h0M778.2,834h0M809.8,865h0M806.4,885.2h0M804.2,848h0M829.2,843.7h0M840.3,894.6h0M883.8,893.8h0M795,878.8h0M889.5,855.4h0M770.5,978.5h0M869,984h0M802.9,804.7h0M801.8,951.8h0M858.2,896.8h0M919.9,886.3h0M932.6,891.8h0M898.3,919.2h0M880.2,951.4h0M775.6,863.9h0M837.7,887.4h0M812.2,919.3h0M850.3,971.2h0M878.5,943.5h0M791.1,980.1h0M807.9,802.2h0M817.5,944.4h0M834.1,999.6h0M859.4,914h0M722.5,868.3h0M771.8,958.3h0M906.9,860.6h0M830.1,827.8h0M834,912.9h0M836.7,875.7h0M810.9,839.8h0M897.5,828.8h0M795.5,973.3h0M945.1,885.6h0M893.4,944.3h0M796.1,825.9h0M878.2,959h0M768,838.6h0M814.7,928h0M793.9,842h0M777.8,949.3h0M862.6,991.7h0M912.3,850.2h0M880.9,917.6h0M892.2,960h0M856.9,921.9h0M894.6,832.5h0M723.4,860.5h0M790.2,891.4h0M904.7,864.2h0M877.7,960.6h0M813.2,972.7h0M883,965.4h0M794.7,809.5h0M860.8,976.3h0M763.3,844.3h0M744.7,855.5h0M891.1,923.7h0M838,924.5h0M727.8,900.1h0M823.7,870.2h0M810.7,857.2h0M894,908.6h0M759.4,949.8h0M867.5,853h0M911.1,895.1h0M837,841h0M869.9,840.3h0M936.4,879.2h0M869.1,950.5h0M723.4,898.5h0M878.2,952h0M872.4,947.2h0M868.5,958.2h0M775.7,828.8h0M761.8,889.4h0M859.7,909.4h0M820.4,950.4h0M778.5,849.9h0M772.1,851.6h0M859.5,947.9h0M902.4,834.1h0M821.2,955.2h0M856.7,940.5h0M873.1,920.3h0M840.8,819.5h0M909,857.8h0M901.2,844.3h0M919.1,846.7h0M819.6,820.5h0M887.9,815.6h0M829.9,833.2h0M820.1,821h0M825.2,955.9h0M823.3,864.9h0M830.4,834.6h0M873.2,908.2h0M861.2,938.2h0M819.8,825.9h0M810.5,944.4h0M790.4,884.5h0M887.9,825.3h0M873.4,907.8h0M773.9,847h0M841,944h0M895.3,932.3h0M906.4,846.2h0M875.8,963.7h0M765.6,842.3h0M811.5,887.6h0M886.1,891.2h0M901.5,861.2h0M857.2,838.6h0M843.7,954.6h0M840.6,865.4h0M829.7,851.9h0M806.3,952.7h0M907.8,845.9h0M875.9,919.3h0M770.2,851.9h0M843.3,954.4h0M891.1,843.6h0M775.2,829.6h0M908.6,863.1h0M929.3,896.6h0M765.5,865h0M888.1,964.5h0M843,978.3h0M816.4,869.4h0M893.5,823.5h0M772,851.1h0M753.2,958.8h0M803.7,872.6h0M805.2,979.7h0M879.2,938.5h0M909.1,845h0M759.6,896.7h0M760.4,861.4h0M835.1,942.1h0M850.3,969.9h0M860.5,852h0M815.1,907.9h0M888,951.3h0M820.7,814h0M901.6,848.9h0M785.8,830.6h0M755.9,900.5h0M798.5,888.5h0M940.1,883.4h0M857.5,944h0M810.6,835.1h0M829.9,904.1h0M829.2,868.2h0M862.3,967.9h0M802.6,880.3h0M887.1,933.6h0M842.6,944.8h0M850.2,826.3h0M805.8,946.9h0M863.8,864.6h0M735.7,855.9h0M845.2,957.9h0M835,869h0M923.7,892.6h0M880.5,958.8h0M881,916.9h0M827.6,903.5h0M900.5,924.7h0M857.4,976.4h0M811.3,948.4h0M777.6,827.5h0M865.8,938.8h0M891.5,916.3h0M853.6,918.3h0M770.5,976.3h0M733.1,900h0M730.5,868h0M872.2,888.2h0M838,1001.1h0M886.6,889.3h0M818.3,940.5h0M882.1,889.8h0M835.6,902.5h0M913.6,899.2h0M830.7,869.2h0M837.6,924.4h0M830.6,955.8h0M823,873.7h0M893.3,840.6h0M868.8,947.6h0M911.1,845.4h0M894.3,902.3h0M858.8,851.2h0M866.1,836.5h0M878.6,929.4h0M856.5,921.4h0M860.5,907.2h0M763.2,863.5h0M770.1,983.4h0M856.8,878h0M732.7,896.6h0M818.1,906.7h0M792.1,980.9h0M800.2,883.4h0M875.6,941.3h0M824.3,978h0M880.6,943.7h0M828.1,838.5h0M871.3,947.6h0M852.9,843.9h0M776.9,981.1h0M794.1,809.5h0M863.1,984.6h0M809,844.3h0M837.5,905.3h0M799.2,841.1h0M893,939.8h0M836.7,968.1h0M854.7,842.9h0M860.4,932.7h0M807,827.8h0M854.4,836.8h0M852.5,913.3h0M870.8,947.1h0M847.7,956.3h0M731,850.6h0M785,896.5h0M942.8,881.3h0M838,892h0M829,834.2h0M827.5,823.8h0M888.2,955.2h0M835.3,886.3h0M898.8,856.3h0M820.1,962.8h0M850.2,886.6h0M785.4,952.5h0M803.9,822.9h0M814.2,850.4h0M756.7,891.2h0M856.4,860.8h0M807.8,888.5h0M828.8,863.7h0M852,841.6h0M792.3,981.7h0M767.1,850.7h0M855.5,905.9h0M847.4,973.8h0M825.4,962.1h0M743.9,903.5h0M856.6,847.3h0M871.4,906.2h0M856.5,922.7h0M726.4,914.3h0M833.3,1001h0M847,999.2h0M792.4,829.3h0M912.6,845.4h0M884.3,943.1h0M826.7,974.4h0M812.3,893.9h0M763.5,866.6h0M774.1,851.9h0M835.5,964.1h0M781.9,893.1h0M801.4,818.6h0M839.7,923.3h0M797.8,887h0M845.7,888.7h0M850.8,840.5h0M876.9,946.6h0M873.6,844.4h0M894.2,932.6h0M821.4,846.2h0M823.3,952.4h0M735,868.6h0M784.7,954.1h0M902.5,864.3h0M902.8,843h0M859.5,955.3h0M787.7,870.5h0M792.5,865.6h0M801.8,821.3h0M828.9,867.5h0M843.9,978.5h0M834.6,941.4h0M756.9,951.4h0M778.5,820.9h0M865.7,984.4h0M827.6,1000.1h0M789.3,945.6h0M827.9,973.7h0M891.9,928.3h0M858.8,974.2h0M894.9,841.2h0M855.8,823.9h0M833.2,903.1h0M838.1,971.4h0M929,887.4h0M792.1,863.9h0M785.4,955.4h0M874,924.5h0M899.2,921h0M818.1,918.4h0M807.8,888.9h0M826.3,866.2h0M888.8,896h0M892.6,821.8h0M755.4,953.4h0M865.8,935.4h0M850.1,832.6h0M841.3,945h0M799.9,948.7h0M880.4,914.5h0M887.7,890.3h0M772.1,859.1h0M774,981.5h0M870.7,945h0M874.3,907.3h0M789.8,824.4h0M810.6,822.9h0M847.9,916.5h0M825.2,973.7h0M798.3,947.6h0M910.2,862.1h0M812.6,917.6h0M905.7,944.7h0M832.3,982h0M775.3,893.5h0M849.7,892.8h0M796.4,822.8h0M882.3,952.1h0M826,857.9h0M826.5,930.6h0M832.1,833.7h0M857.4,976.6h0M774.2,975.6h0M819.8,835.7h0M857.8,889.4h0M898.6,926.8h0M791.1,864.5h0M909.1,835.6h0M899.6,899h0M881.4,929.1h0M873,985.6h0M726.3,862.4h0M841.5,934.2h0M841,887.7h0M885,826.1h0M867.7,863.8h0M897.7,844.8h0M901.8,869h0M892.8,930.5h0M808.7,854.2h0M805.5,840.1h0M775,848.6h0M813.6,874.2h0M894.6,903.4h0M835.3,918.5h0M804.5,810.1h0M902.3,832.8h0M752.3,848.2h0M946.6,882h0M765.3,951.1h0M833.9,1001.9h0M827.5,912.1h0M736.3,901.5h0M752.9,892.7h0M835,911.6h0M833.3,970.1h0M802.2,882.9h0M765.7,854.6h0M829.5,851.7h0M747.7,900.7h0M855.6,896.2h0M932.2,894.2h0M798.7,952.7h0M839,913.7h0M855,893.1h0M866,983.7h0M839.3,820.1h0M901.3,904.9h0M820.4,945.2h0M880.2,923.8h0M764.3,851.4h0M848.6,997h0M826.1,1001.1h0M854,835h0M747.3,897h0M844.8,993.5h0M887.5,896.2h0M815.1,952.2h0M786.4,813.9h0M837.8,951.2h0M871.9,939.1h0M843.2,933.7h0M825,1005.6h0M841.4,900.3h0M746.5,852.3h0M797.8,953.7h0M780.2,942.3h0M873.1,889.4h0M768.5,849.1h0M874.2,892h0M773.1,841.2h0M863.9,931.3h0M779.2,977.8h0M871.9,917.1h0M914.5,839.7h0M887.1,904.3h0M828.2,1001.9h0M860.8,916.5h0M875,909.9h0M918.8,899.7h0M764.8,949.4h0M900.9,927h0M836.9,913.7h0M813,946.8h0M900.3,914.5h0M838.5,954.9h0M785.5,985.7h0M814.9,844.2h0M875.5,903.5h0M936.2,892.8h0M840,937.5h0M861.8,835.3h0M885.9,973.3h0M814.2,857.2h0M896.1,963.3h0M799.4,813.6h0M853.3,977h0M846.4,952.2h0M774.9,840.4h0M893.7,942.5h0M834.7,906.7h0M853.3,941.6h0M761.4,897.8h0M773.7,976.3h0M942.9,876.8h0M855.2,946.9h0M850.8,824.6h0M787.5,887.7h0M836.6,981.9h0M857.1,990.9h0M778.7,835.6h0M785.9,809.6h0M792.6,815h0M876.5,942.9h0M855.8,922.5h0M739.9,852h0M813.9,872.1h0M795.1,834h0M776,948.2h0M897.3,834.5h0M805.3,972.2h0M909.6,869h0M836.8,963h0M889.7,945.4h0M846.8,886.1h0M808.5,843.7h0M824.1,981h0M862.3,938.7h0M855.2,926.4h0M891.6,941.7h0M866.3,912.5h0M795.6,840.9h0M811.2,815.3h0M861,851.4h0M878.2,891.9h0M826.9,822.4h0M887.8,893.7h0M841.5,919h0M742.8,896h0M805.1,824.7h0M888.8,923h0M834.9,980.6h0M942.7,884.3h0M787.5,981.6h0M764.6,821.8h0M893.8,921.5h0M910.8,869.3h0M895.8,894.3h0M887.8,842.4h0M881.3,965.8h0M938,890.6h0M889.4,948h0M848.6,910.1h0M831,979.5h0M753.5,901.7h0M897.5,932h0M916.2,893.1h0M766.2,832.6h0M738,863.2h0M815.1,936.5h0M894.2,969.8h0M827.3,983.1h0M878.3,943h0M889.7,960.7h0M838.6,875.1h0M785.2,944.1h0M800.7,887.4h0M834.8,843.2h0M821.8,935.9h0M847.2,994.6h0M787.6,850.3h0M890.9,824.5h0M750.1,885.1h0M874,904.3h0M796.1,890.3h0M907.4,836.3h0M903.3,820.4h0M767.6,861.7h0M824.3,839.3h0M896,852.8h0M833.4,874.5h0M848.6,965.1h0M827.5,969.2h0M845.9,923.4h0M913.1,893.6h0M845.1,895.2h0M810.2,831.7h0M818.5,818.2h0M907,926h0M892,939.1h0M882,962.6h0M893.5,889.2h0M835.9,1001.8h0M898.4,946h0M803.1,949.9h0M751.6,895.4h0M847.3,930.5h0M823.8,859.2h0M759.3,864.9h0M739.6,868.8h0M888.6,886.5h0M840.2,826.9h0M852.4,931.4h0M900.7,856.2h0M840.9,981h0M858.3,884.5h0M811.5,952.4h0M817.1,927h0M814.1,950.9h0M826.7,968.3h0M784.3,836.1h0M774.1,952.9h0M766.7,959.6h0M855.1,854.6h0M826.4,858.7h0M876.8,932.8h0M765.8,856.9h0M866.1,851.7h0M872,945.8h0M814.3,983.3h0M848.2,881h0M801.8,944.6h0M934.4,885.3h0M827.1,892.1h0M733.4,860.1h0M782.4,841.9h0M834,898.7h0M811.3,963.6h0M841.1,954h0M885,948.6h0M826.7,952.3h0M770.2,891.8h0M748.9,903.4h0M768.5,954.5h0M897.8,864.6h0M737.5,890h0M807.5,827.5h0M902.3,910.4h0M924.8,884.8h0M818.5,964.3h0M833.5,922.8h0M852,917.9h0M851.4,999.4h0M895.3,834.2h0M757.8,848.7h0M774.7,900.3h0M872.6,915h0M823.4,840.1h0M917.8,887.8h0M787.8,848.8h0M843.4,916h0M928.1,887.4h0M818.6,830.3h0M839.5,1002.9h0M845.2,965h0M797.9,882.2h0M883,919.8h0M853.4,996.9h0M822,831.8h0M755.7,852.9h0M864.7,913.8h0M752,844.8h0M806.2,952.5h0M848.3,832.4h0M841.6,915.8h0M838.1,872.2h0M813.9,921.1h0M802.6,844.3h0M865.1,991.7h0M856.8,882.9h0M835.7,974.9h0M754.6,886.5h0M818.1,851.3h0M874.7,951.2h0M827.9,943.5h0M857.2,928.1h0M821.4,852.1h0M871.5,963.2h0M931.8,880.7h0M814,842.8h0M909.3,857.5h0M774,837.6h0M896.5,946.1h0M840.1,823.1h0M904.7,837.9h0M895.4,941.7h0M852.8,911.1h0M794.7,877.8h0M881.6,906.1h0M808.6,806.6h0M763.7,898.6h0M890.3,895.9h0M766.3,828.6h0M865.4,972.5h0M878.1,867.4h0M890.4,901.6h0M827.6,859.8h0M834.7,942.4h0M809.8,870.4h0M806.4,897.1h0M766.8,861.6h0M834.9,892h0M779,858.6h0M806.3,941.5h0M757.1,892.8h0M776.4,953.1h0M787.5,893.6h0M856.5,927.8h0M893.6,944.7h0M890.2,889.4h0M889.4,848.6h0M761.7,824.8h0M838.8,835.2h0M843.6,993.9h0M817.6,833.1h0M835.2,818.7h0M754.4,856.3h0M822.3,923.2h0M745.2,900.8h0M791.3,807h0M894.6,972.6h0M737.7,903.9h0M896.5,934.6h0M898.9,823.7h0M761.9,959h0M932.2,885.6h0M804.7,803.5h0M769.9,980.3h0M901.4,838.2h0M792.2,942.2h0M904.9,862.7h0M859.3,935h0M774,954.1h0M810.1,805.7h0M858.8,911.9h0M765.1,839.9h0M792.3,828h0M832.3,905.4h0M798.3,823.9h0M932.7,887.5h0M816,976.7h0M760.6,900.1h0M886.2,929.2h0M857.7,933.8h0M777.9,849.8h0M902.4,840h0M888.8,844.7h0M821.7,876h0M843.2,895.8h0M811.6,971.9h0M859.8,854.8h0M811.9,984.5h0M785.7,886.9h0M844.8,898h0M820.3,810.7h0M769.5,826.5h0M766.4,886.8h0M776.6,887.1h0M786.6,883.5h0M790.2,806.8h0M778.5,834.4h0M863.6,889.7h0M888.4,915.8h0M857.7,827h0M835.4,832.9h0M906.2,835.7h0M872.9,943.5h0M772.6,943.1h0M798.1,976.1h0M832,876.9h0M908.4,834.3h0M819,828h0M728,916.6h0M922.7,831.7h0M816.9,839.5h0M861.3,989.2h0M854.6,885.4h0M881.5,892h0M833.1,859.7h0M744,900.9h0M825.2,896.2h0M828.5,861.7h0M831.7,998.6h0M845.6,970.3h0M764.9,888.9h0M789,945.4h0M896.7,937.7h0M853.5,931h0M900.1,826.2h0M840.8,946.2h0M789,857.3h0M895.3,859.5h0M854.3,853.5h0M752.9,897.5h0M804.2,836h0M839.5,870.7h0M828.5,930.5h0M893.8,934h0M861.3,917.5h0M796.1,952.9h0M867.2,900.5h0M885.6,897.7h0M885.9,887.1h0M887.6,964.2h0M833.4,911.1h0M834.4,856.8h0M780.6,944.9h0M791.5,973.1h0M870,931.6h0M849.7,935.4h0M764.7,836h0M805.2,983h0M857,902h0M816.3,920.3h0M863.3,929.5h0M840.2,959.9h0M860.7,879.5h0M873.8,893.1h0M874.4,938.7h0M801.2,844.6h0M775.7,846.7h0M761.8,958.5h0M761,824.1h0M808.4,960.7h0M791.8,833.4h0M809.7,951.6h0M761,864.3h0M914.3,839h0M886.1,822.2h0M786.3,811.4h0M902.3,916h0M831.3,868.8h0M834.6,904.8h0M761.4,896.6h0M888.9,889.6h0M825.5,1001.3h0M852.4,973h0M888.7,816.5h0M766.9,892h0M816.6,844.9h0M810.2,882.4h0M835.7,830.6h0M901.7,923.3h0M857.5,849h0M831,915.8h0M734.6,905.6h0M897.3,826.4h0M880.9,923.5h0M904.8,847.7h0M859,878.6h0M911.7,840.5h0M759.6,836.5h0M785.1,862h0M822.4,825.7h0M815,924.7h0M806.7,862.3h0M872.1,986.8h0M816.8,936.8h0M914.2,839.5h0M863.8,861.1h0M759.5,831.5h0M788.7,832.2h0M750.5,889.8h0M768.1,843.6h0M768.6,830.1h0M869.5,853.5h0M768.7,825.9h0M743.7,865.2h0M783.8,983.2h0M837.2,982.2h0M891.8,914.5h0M854.3,934.7h0M888.3,834.9h0M828.9,938h0M785.3,861h0M880.9,942.5h0M873.3,956.7h0M884.3,937.6h0M782.9,840.6h0M770.7,847.9h0M828.6,921.8h0M884.3,827.1h0M764.8,894h0M867.4,963.7h0M828.8,814.6h0M817.3,951.4h0M774.2,840h0M884.2,890.8h0M909,844h0M839.8,965.3h0M819.2,914h0M853.3,885.5h0M828.1,863.9h0M813.7,804.7h0M923.2,890.2h0M772.4,844.9h0M824.5,813.7h0M876.9,888.8h0M844.9,902.9h0M722.7,897.2h0M765.6,898.5h0M805.6,941.3h0M865,925.6h0M848.3,941.9h0M769.1,867.2h0M845.7,932.4h0M813.5,884.9h0M811.5,922.9h0M792.8,981.3h0M885.3,948.2h0M846.7,949.3h0M793.9,863.9h0M766.4,959.2h0M741.5,895.1h0M853.6,842h0M840.4,893h0M813.1,952.1h0M836.3,815.3h0M826.2,932.5h0M887,886.3h0M897.7,858.4h0M730.1,856.7h0M732,872h0M755.2,848.8h0M863.3,861.7h0M868.2,884.3h0M844.8,990.6h0M819.6,957.5h0M835.2,836.3h0M814.6,814.4h0M783.9,824.6h0M810.3,832.7h0M809.9,964h0M819.4,812.9h0M790.1,846.1h0M831.4,814.1h0M897.3,846.6h0M780.6,829h0M830.4,914h0M883.1,892.5h0M825.3,828.3h0M860.6,857.7h0M831.2,969.5h0M805.1,951.4h0M880.8,962.8h0M825.2,912.2h0M747,858.4h0M786.1,864.9h0M860.7,897.6h0M925.6,902h0M858.3,905.4h0M738.6,893.3h0M765.8,853.3h0M769.4,843.1h0M745.4,855.5h0M792.8,856.4h0M791.6,895h0M779.7,850.3h0M859.7,952.3h0M892.2,963.3h0M816.6,904.2h0M831.9,975.6h0M859.6,851.7h0M889.4,921.3h0M905.4,943.5h0M734,889.3h0M793.8,870.8h0M898.5,906.6h0M889.8,829.5h0M782.6,855.1h0M904.7,935.4h0M730.9,896.7h0M824.7,832.1h0M814.9,912.1h0M855.7,957.6h0M821.3,962.5h0M843.5,825.6h0M857.8,834.8h0M790.4,849.3h0M859.8,952.8h0M739.5,888.4h0M766.8,985h0M827.8,977.7h0M860.4,959.1h0M867.1,885.2h0M790.1,865.2h0M858.3,829h0M823.9,818h0M728.5,860.4h0M853.8,976.5h0M821.3,836.2h0M777.4,836.2h0M818.1,833.4h0M832.7,932.8h0M802.6,891.8h0M860.7,853.5h0M852.7,829h0M819.6,921h0M810.5,820.9h0M846.5,971.4h0M897.3,960.3h0M724.8,863.3h0M807.6,807.5h0M904.9,930.9h0M828.6,856.3h0M817,824.6h0M829.9,872.2h0M835,920.2h0M904.4,904.6h0M846,946.8h0M931.6,885.1h0M839.8,962.1h0M755.9,902.4h0M818.7,823.2h0M821.3,975.3h0M855.9,911h0M790.9,950h0M830.3,964.5h0M864.1,846h0M792.8,809.6h0M817.1,938.8h0M759.8,902h0M831.9,953.1h0M908.9,866.6h0M892.1,969.6h0M940.6,885.9h0M772.4,840.7h0M863.9,911.4h0M795.2,863.2h0M855.5,894.2h0M829.8,871.2h0M849.4,912h0M791.2,805.7h0M869.1,963.1h0M797.2,842.2h0M842.9,913.2h0M896.6,862.5h0M904.8,942.9h0M851.3,931.8h0M813.9,984.2h0M803.4,841.6h0M839.2,901.1h0M809.8,982.7h0M887.1,821.6h0M901.3,866.5h0M866.1,893.5h0M878.7,886.7h0M843.7,818.8h0M778,870.9h0M868.4,861.8h0M873.1,855.5h0M873.4,938.3h0M794.9,951.2h0M845.8,933.1h0M867.5,969.3h0M830.5,869.9h0M774.4,978.2h0M934.9,891.8h0M865.6,862.2h0M894.9,856.9h0M812.5,807.2h0M793.2,866.7h0M823.7,915.2h0M895.2,842h0M906.4,922.6h0M872.9,922.3h0M837.9,919.9h0M851.6,918.2h0M807.5,834.9h0M865.9,920.7h0M786.9,889.4h0M807.9,853.5h0M794.6,855.5h0M881.5,896.8h0M848.5,903.6h0M871,988.1h0M818,819h0M824.9,864.3h0M817.5,858.4h0M785.5,830.8h0M844.3,935.3h0M812,973.2h0M835.6,980.9h0M755.2,849h0M901.8,917.3h0M823.9,845.9h0M794.8,985.3h0M851.1,903.8h0M823.9,980.4h0M821.7,928.3h0M838.4,898.6h0M803,974.2h0M863.8,897.1h0M896.3,890.5h0M809.2,945h0M848,951.3h0M888.5,818.2h0M793.4,887.3h0M875.9,937.7h0M846.4,887.9h0M898.2,950.3h0M827.5,914h0M828.4,997.7h0M786.1,982.8h0M877.1,927h0M786.8,857.7h0M781.3,837.3h0M802.3,816.3h0M814.2,825.6h0M820.8,911.4h0M812.4,921.1h0M748.7,899h0M893.8,905.4h0M872.2,842.8h0M817.7,932.2h0M759,829.7h0M797.9,868.4h0M832.9,929.6h0M845.8,884.2h0M766.4,885.1h0M801,890.5h0M846.6,963.6h0M881.1,965h0M834.6,871.2h0M904.8,838.2h0M832.1,873.5h0M885.2,931.4h0M906.6,861.1h0M825,968.3h0M845.5,962.9h0M850.4,924.3h0M843.1,959.8h0M900.6,921.6h0M785.4,887.9h0M828,898.4h0M785.9,846.2h0M897.6,944.4h0M825.5,900.8h0M742.6,863.5h0M826.8,828h0M900.3,924.4h0M754.1,855.8h0M916.4,890.5h0M869,898.5h0M833.1,946.1h0M855.7,857.6h0M790.3,859.9h0M822.7,872.1h0M946.3,878.7h0M843.3,937.2h0M794.7,984.5h0M857.8,971.5h0M826.7,927.4h0M840.2,817.5h0M812.4,853h0M787.7,807.6h0M871.3,904.2h0M865,956.4h0M916.3,830.5h0M741.7,863h0M824.9,862.7h0M739.6,864h0M838.5,816h0M834.1,952.7h0M939.8,884.8h0M840.4,981.3h0M864.1,917.4h0M767.2,859h0M920.8,846.9h0M774.6,844.9h0M849.3,921.3h0M869.8,918h0M839.4,974.2h0M736.5,860.2h0M824,835.2h0M818.4,903.3h0M765.9,832.5h0M809.1,814.7h0M904.5,905.9h0M884.5,895.9h0M755.6,841.2h0M798.1,811.5h0M740.3,900.8h0M762.6,842.7h0M723,868.1h0M810.1,864.1h0M927.8,896.1h0M914.2,841.5h0M898.9,819.4h0M815.1,824.1h0M753.1,886.1h0M842.9,955.2h0M867.6,937h0M880.2,894.4h0M788.4,889.4h0M781.7,954.3h0M848.1,893.3h0M807.4,861.3h0M894.6,942.5h0M823,865.1h0" stroke="#c9c9c9" stroke-width="2.4" stroke-linecap="round" fill="none" filter="url(#bl2)"/><path d="M791,828.2h0M892.4,858.3h0M739.5,887h0M877.1,963.2h0M883.8,925.8h0M824.1,979.8h0M885.4,937.4h0M822.3,915.9h0M882.6,908.4h0M801.7,831.7h0M895,844.9h0M774.8,947.4h0M759.2,840h0M829.9,938.7h0M907.3,868.2h0M911.6,827.2h0M824.5,923.3h0M835.4,912h0M839.6,917.2h0M772.1,855.9h0M836.9,918.6h0M938.1,892.5h0M836.4,907.7h0M750.4,889.9h0M816.3,810.9h0M823.4,869.6h0M899.9,858.8h0M836.7,946.3h0M795.7,978.1h0M805.4,899.4h0M786.1,846.2h0M842.3,960.1h0M807.4,866.7h0M866.8,956.4h0M836.1,978.7h0M800.2,818.1h0M849.6,933.1h0M835.7,912.7h0M829.8,945.4h0M895.8,862h0M777.2,942.8h0M824.7,975.4h0M855.4,826.2h0M796,864.5h0M803.1,881.4h0M772.3,853.5h0M893.1,894.2h0M834.3,843.4h0M769.8,851.8h0M813.2,886.1h0M840.6,945.1h0M890.4,937.4h0M905.6,846.2h0M825.2,1006h0M768.7,849.4h0M794.5,887.5h0M900.1,859.9h0M814.3,941.4h0M812.7,973.6h0M864.2,852.7h0M828.8,1005.5h0M768.5,886.7h0M878.5,959.6h0M851.7,877.1h0M828.7,975.2h0M788,839.7h0M746.5,857.3h0M832.6,972.1h0M941.5,880.3h0M740.8,849.4h0M859.9,916h0M786.6,887.4h0M893.4,966.1h0M913.7,837.6h0M726.4,872.2h0M820.6,833.9h0M864,890.1h0M857.3,839.9h0M828.7,824.6h0M869.6,986.7h0M871.4,892.6h0M893.4,849.7h0M862,906.5h0M848.4,890.9h0M769,958.7h0M896.5,866.9h0M883.2,941.4h0M827.4,979.7h0M924.4,891.2h0M868.5,948.3h0M800.9,974.9h0M835.9,982.3h0M832.7,903.1h0M918,852.3h0M780.9,842.2h0M834.6,819.2h0M884.3,968.1h0M761.5,852.9h0M825.2,911.9h0M791.7,829.2h0M819.7,965.2h0M741.5,896.6h0M771.9,866.8h0M892.2,817.4h0M811.2,958h0M817.5,921.3h0M815.3,845.3h0M845.3,952.8h0M840.4,885.3h0M814.6,887.5h0M763,823.4h0M847.1,822.5h0M817.1,935.2h0M906,825.9h0M759.3,947.4h0M895.5,891.5h0M832.8,904.6h0M920.2,898h0M803.7,887.1h0M862.4,945.2h0M837.7,901.6h0M828.6,910.6h0M856.6,934.7h0M862.2,939.8h0M864.2,932.9h0M876.8,895.7h0M802.2,976h0M817.7,936.2h0M813.1,817.4h0M889.8,848.3h0M903.5,952h0M892.4,813.5h0M887.3,896.3h0M881.2,927.4h0M775.8,888h0M853,855.2h0M909.3,839.1h0M761.6,851h0M903,846.2h0M840.5,899.8h0M851.1,883.5h0M906.8,829.4h0M927.7,895.8h0M851.1,935.9h0M822.1,830.1h0M887.4,937.3h0M769.6,826.5h0M821.8,816.3h0M823.1,869.8h0M756.5,890.8h0M886.9,973.5h0M840,893.1h0M833.7,907.9h0M854.1,910h0M740.8,903.6h0M807.2,887.5h0M793.8,890.8h0M772.3,887.9h0M727.3,890.3h0M870.4,853.5h0M781.9,862.2h0M777.1,897.6h0M846.6,979.7h0M887.6,896.4h0M770.6,843.7h0M807,891.8h0M798.1,943.6h0M839.4,957.5h0M899.9,899.6h0M856.5,904.5h0M853,886.9h0M806.1,865.8h0M851.2,904.4h0M903.4,913.5h0M839.4,908.8h0M803.6,883.2h0M853.5,988.6h0M831.7,891.8h0M906.9,862.5h0M871.7,911.9h0M799.6,836h0M820.8,979h0M802,849.2h0M813.1,940h0M869.6,834.5h0M897.4,814h0M808.4,959.5h0M884.6,889.2h0M797.9,860.9h0M793.4,974.4h0M900.1,832.2h0M859.7,896.5h0M780.2,838.4h0M871.1,933.1h0M784.1,835.9h0M791.7,835.6h0M851.7,933.2h0M819.9,837h0M816.4,857.3h0M819.7,941.5h0M783.9,892.5h0M790.9,896.3h0M855.2,886.6h0M847,819.7h0M808,832.7h0M886.9,888.7h0M865.3,986.9h0M844.6,946.7h0M795.6,828.2h0M800.2,897.9h0M778.2,855.1h0M850.2,964.6h0M903.6,934.3h0M800.7,856.9h0M900.8,957.7h0M794.3,866.1h0M785.4,862.9h0M809.9,839.1h0M759.2,956.5h0M763.1,866.9h0M815.8,913.5h0M848.7,939.6h0M774.5,951.5h0M904,863h0M754.4,957.3h0M904.5,848.4h0M851.1,885.2h0M852.4,829.5h0M873.3,914.7h0M837.5,925.3h0M841.6,929.8h0M863.1,853.3h0M828.3,953.7h0M841,911h0M769.7,832.9h0M825.1,935.9h0M815.8,969.3h0M812,937.6h0M798.1,879.8h0M792.4,810.6h0M837.9,976.4h0M848.5,964.2h0M814.5,923.5h0M786.1,985.7h0M826.1,902.6h0M782.9,951.3h0M858,895h0M859.1,834.6h0M874.7,851.7h0M783.4,846.2h0M870.2,844.1h0M733.4,897.2h0M782.7,871.5h0M744.9,854.7h0M921.4,845h0M847.9,968.4h0M838.3,816.4h0M798.2,877.4h0M827,831.1h0M770,986.7h0M854.6,846.5h0M764.9,867.8h0M829.9,904.4h0M869.1,838.8h0M797.3,830.7h0M857.6,890.8h0M906.9,850.4h0M756,854.7h0M800.6,844.3h0M840.5,943.8h0M834.5,875h0M791.3,825.1h0M808.1,959.4h0M796.8,825.8h0M776.7,839.9h0M822.6,979.2h0M899.3,898.4h0M867.5,852.1h0M847.1,960.8h0M795.4,881.4h0M797.4,835.9h0M842.9,909.7h0M835.5,982.4h0M854.5,883.8h0M778.5,980.9h0M919.6,828.3h0M898.5,905.1h0M886,949.8h0M821.4,917.1h0M816,808.9h0M823.5,945.2h0M727.7,866.1h0M760,895.4h0M899.3,817.8h0M887.5,836.1h0M849,975.7h0M865,925.8h0M824.5,821.9h0M798.1,815.7h0M811.8,929.4h0M922.5,889.8h0M842.7,938h0M944.5,884.7h0M754.1,891.4h0M882.7,959.1h0M870.8,925h0M785.8,885h0M917.2,844.8h0M890.7,825.4h0M800.3,898.2h0M765.6,958.7h0M769.9,832.5h0M827.6,957.9h0M755.4,844.9h0M897.2,923.3h0M829.3,907.6h0M865.3,842.6h0M824.1,844.8h0M803.5,830.7h0M774.5,894.9h0M840.6,922.9h0M811.9,806.3h0M782.4,858.6h0M927.6,887.4h0M856.6,971.2h0M852.6,834.9h0M879.5,951h0M870.5,934.6h0M776.3,951.4h0M757.8,950.7h0M869.9,947.1h0M889.1,911.4h0M736.2,895.3h0M742.2,897.5h0M785,810.1h0M722.8,858.4h0M739.2,852.1h0M828.2,1005.4h0M782.2,897.4h0M756.9,887.1h0M861.6,992.9h0M791.8,981.7h0M937.4,885.3h0M892,961.1h0M823.9,869.6h0M787.9,987.3h0M857.7,890.1h0M817.3,815.3h0M799.2,843.9h0M910.4,843.2h0M805.1,951.2h0M893.1,836.1h0M837.7,1000.2h0M795.1,952.7h0M769.3,851.2h0M856.4,953.6h0M745.5,896.2h0M750.3,885.2h0M875.7,956.7h0M843,999.5h0M779,868.1h0M893.4,953.4h0M758.2,959.6h0M806.4,815.5h0M898.4,926.3h0M862.3,942.9h0M773.3,846.2h0M853.9,894.3h0M877.3,920.4h0M899.4,852.7h0M832.2,855.5h0M899.2,827.8h0M853.3,994.6h0M927.8,892.2h0M774.2,955.7h0M734.4,903.6h0M852.9,972.9h0M828.2,821.1h0M826.1,898.2h0M906.5,850h0M902.8,933.8h0M825.8,976h0M741,857.5h0M861.2,861.1h0M848.3,840.3h0M877.3,945.5h0M760.7,834.4h0M838.9,866.2h0M910.2,830.2h0M918.7,894.6h0M895.6,952.7h0M793.7,853.6h0M727.6,914.5h0M877.5,904h0M830.9,823h0M884.4,922.2h0M790.5,806.8h0M720.6,872.8h0M836,887.1h0M885.9,966.8h0M906.1,939h0M841.2,942.4h0M816.8,837.3h0M803.7,821.3h0M900.3,868.2h0M719.1,866.6h0M885.5,908.5h0M833.4,876.8h0M799.4,868.8h0M802.3,820.2h0M811.5,846.2h0M863.3,832.8h0M743.5,901.3h0M743.7,862.9h0M846.5,930.7h0M820,977.6h0M909,856.8h0M884.8,897.1h0M824,838.3h0M917.8,849.5h0M898.4,958.9h0M773.5,977.8h0M904.3,859.3h0M913.8,891.1h0M844.4,891.7h0M905.3,862.4h0M932.8,884.7h0M849.9,896.5h0M866.8,934h0M870.7,939.5h0M794.2,823.2h0M818.8,845.2h0M839.4,825.1h0M895.5,816.5h0M812.1,926.5h0M883.4,924.3h0M837.2,905.9h0M803.5,885.7h0M758.5,896.8h0M736.1,899.6h0M884,957.9h0M810.6,920.3h0M919.8,847.9h0M889.3,844.2h0M887.8,973.1h0M809.8,837.1h0M853.3,966.4h0M793.3,950.4h0M871.4,940.8h0M912.2,849.6h0M867.9,833.2h0M805.9,852.6h0M804.7,860.1h0M845.8,999.2h0M825,916.5h0M829.5,934.5h0M766.6,950h0M806.4,871.1h0M785.9,949.2h0M903.3,934.4h0M788.4,945.4h0M778.9,850.4h0M906.1,912h0M783.2,857.1h0M822.4,919.7h0M804,822.2h0M875,862.7h0M928.1,885.9h0M917.2,842h0M892.7,814.6h0M813.7,921.8h0M820.4,913.3h0M785.5,809.7h0M850.4,836.9h0M878,912.1h0M785.4,846.1h0M900.2,921.1h0M906,916.1h0M876.4,963.1h0M820.8,956.2h0M854.4,833.1h0M897.5,948h0M821.5,862.1h0M866.6,888.5h0M943.4,879.6h0M832.3,812.4h0M879.3,888.5h0M814.8,807.5h0M769.8,896.2h0M852.5,990.8h0M814.5,802.6h0M884.4,955.6h0M848.7,926h0M890.9,959h0M904.9,908.5h0M808.8,893.8h0M770.3,851.1h0M876.4,899.2h0M815.2,849.9h0M791.2,891.7h0M864.6,993.2h0M793.1,881.9h0M935.8,888.6h0M777.9,824.7h0M775,841.6h0M842.1,975.9h0M817.4,848.3h0M756.7,890.9h0M771.9,831.2h0M753.5,848.2h0M829.1,916.8h0M783.6,982.2h0M901.3,912.9h0M795.8,828.8h0M842.2,916.9h0M902.6,829.4h0M893,902.1h0M881.2,894.1h0M794.4,952.1h0M878.4,918.4h0M786.3,833.7h0M845.7,956.3h0M855.4,847.1h0M892.6,942.3h0M812.2,918h0M853.7,827.2h0M743,851.2h0M866.8,894.6h0M756.5,897h0M894.6,849.5h0M896.2,933.7h0M924,886h0M772.4,865.6h0M797.2,809.9h0M834,949.4h0M896.1,949.6h0M787.3,981.6h0M853.3,884.8h0M864.8,845h0M724.8,861.5h0M854.3,935.3h0M824.3,840.2h0M878.4,933.3h0M805.4,817h0M869.3,910.4h0M898.1,841.1h0M729.2,872.1h0M903.2,847.9h0M845.1,979.7h0M902.4,913.5h0M819.9,845.9h0M816.7,950.5h0M910,853.1h0M870.5,925.8h0M870.7,857.4h0M802.2,855.6h0M913.5,898.8h0M737,853h0M890.9,907h0M770,825.1h0M822.5,851.5h0M824.1,908.9h0M756.5,856.5h0M900.5,899h0M764,823.5h0M775.5,853.1h0M861.7,930h0M736.7,850.2h0M818.6,922h0M869.6,834.9h0M790.3,899.1h0M915.2,897.8h0M782.2,851.3h0M773.4,979.1h0M870,921h0M837.3,899.7h0M859.2,938.5h0M731.9,897h0M795.4,826.7h0M874.1,937.2h0M749.5,901.5h0M726.7,854.7h0M865.2,901.1h0M787.5,982.3h0M872.8,928.1h0M776.8,978.5h0M800.4,811.9h0M881.4,902.8h0M799.5,946h0M801,855.8h0M807.2,888.6h0M801,899h0M894.7,829.6h0M889.2,915.5h0M794.6,866.6h0M905.4,858.9h0M791.9,812h0M799.7,880.4h0M818.2,864.8h0M824.1,917.6h0M756,835.3h0M854.6,850.3h0M878.9,889.3h0M881.8,907.1h0M816.2,827.1h0M778.7,821.8h0M730,902.1h0M849.3,887.5h0M781.1,836.1h0M811.5,811.5h0M882.5,930.9h0M826.2,816.4h0M766.3,824.5h0M879.4,885.3h0M761.4,828.7h0M896.2,930.5h0M828.6,911.7h0M900.5,830.5h0M920.9,832.7h0M868,847.5h0M811.5,953.7h0M745,861.2h0M829.2,899.9h0M839.7,903.9h0M786.1,951.5h0M919.2,849.6h0M881.7,897.4h0M775.3,980.8h0M884.3,946.5h0M741.9,866.5h0M908.7,864.4h0M859.5,967.9h0M829.6,854.1h0M809.2,895.3h0M773.4,899h0M872.7,861h0M829.1,841.6h0M867.7,947h0M904.8,908.3h0M833.1,961.2h0M889.9,841h0M837.4,946.4h0M838.9,967.5h0M790,826.8h0M812.8,849.3h0M780.8,888.1h0M907.4,857.9h0M779.8,841.5h0M885.8,829.1h0M872.4,908.4h0M838.9,958.8h0M806.8,831.9h0M875.8,961.2h0M898.2,824.5h0M831.7,964h0M814.7,942h0M764.9,887.1h0M738.6,860.9h0M728.7,916.3h0M887.9,838.9h0M905.2,937.6h0M840.8,928.4h0M779.9,833.2h0M800.5,987.6h0M815,914.3h0M865.9,947.9h0M767.1,842.8h0M795,981h0M832.8,894.7h0M758.1,900h0M744.7,853.6h0M781.4,809.5h0M898.5,898.9h0M773.6,837.1h0M858.7,909h0M817.9,979.5h0M861.8,959.1h0M775.6,987.8h0M818,873.6h0M873.9,906.8h0M844.8,920h0M771.6,869.2h0M851.2,946.4h0M874.2,901.4h0M767.5,947.3h0M781,943.4h0M818,875h0M862.6,989.4h0M801.5,867.4h0M787.7,954.5h0M815.5,971.5h0M898.8,950h0M900.3,900.1h0M828.9,901.6h0M797.8,890.3h0M859.3,918.9h0M932.6,879.9h0M807.6,954.9h0M795.5,885.6h0M870.6,860.9h0M853.8,835.6h0M791.3,852.8h0M847.9,922.6h0M813,921.2h0M736.7,853.9h0M731.9,872.4h0M869.4,923.5h0M811.4,944.4h0M808.6,838h0M838.5,971.2h0M856.7,894.1h0M895.1,957.8h0M793.3,831h0M899.1,901.3h0M922.3,891h0M761,825.9h0M918.5,889.4h0M942.6,877.8h0M922,886.4h0M816.6,928.6h0M881.9,937.4h0M870.3,862.3h0M796.7,880.2h0M821.7,912.9h0M828.6,816.8h0M870.9,838.8h0M829.2,978.9h0M770.9,868.5h0M723.3,900.2h0M898.2,906.3h0M811.7,917.1h0M894.5,967.1h0M755.2,896.5h0M825.3,911.4h0M901.2,949.2h0M771.1,946.7h0M802.6,895.8h0M769.3,889.4h0M846.3,885.1h0M791,946.8h0M795.8,947.1h0M869.9,867.4h0M890.9,951.7h0M813.5,809.4h0M727.2,873.7h0M826.6,875.4h0M938.4,875.6h0M847.8,999.8h0M872.1,861.9h0M877.8,890.7h0M790.4,899.1h0M911.8,855.6h0M861,888.6h0M836.4,945.3h0M886,831.6h0M891.1,957.2h0M889,915.4h0M885.9,941.5h0M838,895.1h0M804.1,825.8h0M763,857.5h0M771.6,976.1h0M895.1,915.4h0M844.7,992.1h0M784.2,893.7h0M872.1,868.7h0M815.4,977.8h0M891.7,921.1h0M897.2,908h0M903.7,851h0M771,862.6h0M810.8,962.8h0M871.8,847h0M847,997.9h0M763.6,956.1h0M804.6,947.4h0M863,884.7h0M801.6,859.9h0M745.1,885.6h0M888,843.4h0M814.3,825.7h0M776.6,830.9h0M818.2,828.6h0M733.5,852.7h0M745.1,888h0M771.8,954.2h0M765.2,897.3h0M858.3,932.5h0M888.3,969.8h0M851.5,824.9h0M903.1,844.2h0M858.6,943.8h0M785.1,837.4h0M765.8,888.8h0M845.9,886h0M734,909.1h0M892.6,944.7h0M846.9,974.1h0M899,894.4h0M817.6,969.8h0M818.2,944.7h0M862.5,956.9h0M818.5,869.4h0M842.3,923.8h0M830.6,903.3h0M731.3,856h0M724.3,863.4h0M784.7,898.4h0M832.4,940.3h0M767,901.1h0M883.8,897.1h0M886.3,937.8h0M895.8,962h0M859,849.9h0M838.8,873h0M762.8,841.3h0M806.5,894.6h0M806.3,883.7h0M829.1,833.1h0M796.1,941.5h0M841.1,949.5h0M824.9,823.9h0M838.9,894.1h0M906.1,844.7h0M792.4,977.7h0M884.5,914.7h0M765.9,848.9h0M874.1,857.9h0M870.2,966.4h0M896.8,866h0M836.5,959.9h0M776.8,830.9h0M865.1,956.2h0M768.3,854.2h0M893.5,827.7h0M914.8,859.2h0M855,849.3h0M813.7,826.2h0M773,901.3h0M899.9,917.4h0M894.2,927h0M794,896.9h0M835.4,979.9h0M831.1,939.1h0M864.9,963.4h0M776.2,951.4h0M792.9,832.7h0M810.3,938.9h0M762.7,892.1h0M813.8,825.8h0M891.5,919.8h0M889.1,927.3h0M848.1,837.3h0M855.4,855.5h0M805.2,839.2h0M896.9,853.8h0M894,936.6h0M789.3,856.7h0M901,841.3h0M822.9,967.1h0M815.5,954.1h0M878.5,952.8h0M860.2,852.3h0M763.1,892.2h0M876.4,966.3h0M917.1,854.2h0M918.5,837.3h0M796.3,949.2h0M739.3,887.2h0M822.6,979.9h0M847.6,908.2h0M835.4,978.3h0M809.9,949h0M868.6,946.3h0M838.3,838.2h0M785.9,882.2h0M923.8,891.1h0M808.7,851.6h0M869.2,953.9h0M797.4,860.5h0M723.5,900.9h0M792.9,824h0M848.5,921.2h0M813.9,870.7h0M784.3,830.9h0M762,835.1h0M863.9,838.9h0M883.3,904.4h0M828,981.4h0M772,844.7h0M798.1,901h0M838.2,1000.5h0M836.8,996.8h0M820.7,946.7h0M819.9,909.4h0M801.9,943.8h0M826.7,851.4h0M796,812.5h0M779.9,942.5h0M745.9,856.5h0M924.8,893.3h0M721.9,895h0M734.5,892.3h0M895,951.8h0M831.1,914.4h0M872.4,942.1h0M835.2,840h0M827.4,917.9h0M793.3,834h0M800.5,886.4h0M773.9,954h0M757.3,848.4h0M856.9,883.9h0M823.9,843.9h0M834.4,935.2h0M825.8,849.3h0M886.8,921.1h0M852.8,937.4h0M869.4,861.1h0M825,820.6h0M845.8,822.5h0M800.9,878.4h0M770,869.9h0M809.9,979.8h0M849.5,907h0M872.4,927.3h0M904,942.2h0M793.4,837.2h0M878.2,892.9h0M729,914.1h0M729.8,861.4h0M917.7,841.1h0M765.9,851.9h0M827.3,923.9h0M739,853.8h0M848.8,956.4h0M804.7,858.9h0M872.4,911.9h0M840.3,933.5h0M823.4,947.3h0M766.5,845h0M854,847.5h0M784.8,864.8h0M836.9,829.8h0M781.5,826.9h0M891.6,907.6h0M793.1,898.2h0M835,963.2h0M830.6,867.6h0M839.9,892.2h0M816.7,922.9h0M760.5,947.7h0M804.5,822h0M884.7,914.3h0M922.5,829.6h0M843.5,926.3h0M827.8,842.8h0M890.5,831.9h0M895.9,866.2h0M768.5,959.9h0M785.4,878.8h0M790.9,951.8h0M816.3,838.5h0M868,842h0M895.2,920.1h0M815.8,973h0M843.6,823.3h0M826.9,829.8h0M778.7,825.9h0M839.6,889.8h0M849.7,941.6h0M826.1,910.4h0M817.9,953.2h0M776.6,894.2h0M846.6,914.6h0M857.8,857.6h0M812.8,926.6h0M857.8,853.7h0M854.6,897.2h0M757,841.3h0M846.6,991.6h0M871,888.9h0M880.6,897.5h0M811.1,802.4h0M841.8,955.5h0M766.3,944.6h0M919.5,837.1h0M861.5,916.5h0M805.7,847.4h0M845.8,926.4h0M784.8,980.5h0M822.6,826.2h0M739.1,903.7h0M832.1,955.6h0M883.6,892.9h0M886.7,923.8h0M774.4,949.7h0M867.1,961.8h0M746.5,851.2h0M804.6,975h0M820.3,940.4h0M792.2,837.9h0M835.3,973.5h0M773.5,861.9h0M796.2,986h0M890.1,919.9h0M837.8,820.2h0M792.2,973.1h0M803.9,831.7h0M814.6,915.5h0M862.3,970.7h0M802.1,885.9h0M870.9,899.2h0M783.9,892h0M821.4,841.7h0M838.8,924.9h0M840.9,902.8h0M855.8,907.5h0M881.2,970.3h0M864.9,984.4h0M908.9,862.9h0M889.4,965.8h0M781.4,871.5h0M789.6,942.6h0M907.1,834h0M765.3,979.8h0M826.8,954.6h0M784.2,883.8h0M786.3,981.2h0M849.4,881.6h0M930,894h0M838.8,924.6h0M768.2,950.3h0M811.3,852.7h0M828.8,842.9h0M780.1,839.3h0M855.3,837h0M858.7,843.4h0M765.5,890.6h0M870.4,893.3h0M809.9,827h0M827.9,934.6h0M761.4,836.9h0M838.6,921.5h0M864.5,973.8h0M807.3,804.2h0M772.7,863.2h0M940.3,880h0M822.8,838.6h0M873.6,965.7h0M824.3,953.2h0M904,935.8h0M870.3,919h0M914.9,835.9h0M888.8,910h0M771.3,887.4h0M775,975.5h0M797.9,866.9h0M848.4,938h0M844.2,895.5h0M890.8,823.3h0M838.2,931h0M830,928.9h0M900.2,907.2h0M790.1,808.1h0M834.4,981.6h0M834.3,834.1h0M911.7,860.8h0M792.2,826.8h0M829.4,853.8h0M858.6,916.3h0M863.4,898.6h0M811.9,980.4h0M814.8,969.9h0M834.2,861h0M888.7,921h0M797.8,820.4h0M795.7,828.5h0M819.7,934.4h0M823.5,948.3h0M881,949.4h0M841.8,884.1h0M810.5,970.3h0M797.3,981.1h0M906.5,914.3h0M904.8,851.9h0M922.4,831.5h0M840.2,934.9h0M763.4,897.9h0M845.4,893.8h0M762.3,892.6h0M730.7,889.6h0M787.8,974.5h0M878.3,937.2h0M818.2,825h0M775.3,856.2h0M899.8,929.1h0M732.6,897h0M857.7,918.8h0M762.5,885h0M845.9,949h0M896.8,813.3h0M771.3,836h0M902.5,823h0M853.6,917.9h0M817.5,852.5h0M828.6,908.7h0M813,838.9h0M887.3,841.7h0M848.5,994h0M890.8,898.4h0M846.6,960.9h0M856.9,901.5h0M912.7,836.8h0M867.7,954.4h0M876.9,891.2h0M767.3,836.2h0M771,824.2h0M872.3,947.6h0M856.6,886.6h0M863,856.6h0M819.9,949.5h0M845.8,962h0M804.1,836.9h0M809.7,841h0M808.2,976.5h0M899.4,842.9h0M767.8,958.8h0M881.3,928.8h0M802.1,976.3h0M922,833.3h0M828.7,1002.7h0M852.2,957.2h0M837.2,892.8h0M854.6,886.5h0M771,944.2h0M867.3,917.3h0M914.8,852.3h0M786.1,975.6h0M824.2,897h0M763.5,902.3h0M909.5,840.7h0M898.1,953.4h0M816,905.6h0M834.7,819.5h0M778.5,845.2h0M806.8,856.8h0M818.2,981.2h0M856.6,987.2h0M836.1,933h0M818.4,932.3h0M766,949.9h0M847.5,820.9h0M794.7,853.6h0M834.6,896.1h0M772.6,845.5h0M785.2,953.1h0M894.6,845.4h0M801.7,830.9h0M915.1,845.3h0M743.5,857h0M828.5,844.1h0M825,822.9h0M839.6,959.4h0M757.7,832.6h0M851.2,968h0M852.8,884.2h0M831.5,980.4h0M764.7,823.8h0M853.5,827h0M806.1,941h0M787.7,806.5h0M777.2,823.9h0M918.1,844.4h0M899.7,818h0M773.8,945.7h0M767.4,901.6h0M809.1,840.7h0M788.9,812.3h0M794.4,820.8h0M780.6,866.8h0M786.7,810.4h0M890.4,947.4h0M828.8,928.7h0M807.4,832.7h0M832.1,999.9h0M893.5,971.6h0M747.8,885.9h0M758.6,885.1h0M837.5,822.5h0M878.7,955.5h0M759.3,841.6h0M762,886.8h0M762.4,901.2h0M767.3,861.7h0M896.4,829.2h0M817,845.9h0M825.6,859h0M820.1,955.2h0M893.1,818.4h0M819.1,870.9h0M797.6,987.7h0M872.3,981.4h0M753.4,896.1h0M784,886.5h0M847.6,941.8h0M720,864.5h0M813.5,860.7h0M900.1,829.8h0M761.4,824.4h0M730.7,871.7h0M871.3,934h0M723.5,893.2h0M848.8,879.3h0M834,813.3h0M849.8,962.5h0M789.4,836.6h0M751.1,890.9h0M904.7,906.7h0M865.2,948.1h0M753.1,893.6h0M764.5,899h0M782.6,947.9h0M781.9,955.1h0M731.4,895.7h0M863.6,909.8h0M856.1,852.6h0M767.6,949.6h0M806,820h0M827.4,940.6h0M776.9,984.9h0M743.8,852h0M744,862.9h0M812.4,832.2h0M801.5,804.9h0M788.1,894.9h0M919.5,849.6h0M735.2,865.5h0M917.1,837.4h0M807.6,842.6h0M832.5,969.2h0M810,964.2h0M836.6,995h0M880.1,910.4h0M793.9,893.8h0M725.7,868.8h0M886.2,889.4h0M811.3,972.2h0M807.1,821.6h0M786,879.2h0M907,831.6h0M836.3,956.5h0M830.9,831h0M870.9,852h0M821,848.3h0M772.6,852.8h0M829.4,943.4h0M770.4,983h0M881.9,946.1h0M916.3,850.9h0M823.8,921.2h0M901.4,924.5h0M850.3,886.7h0M808.3,977.7h0M890.3,904.7h0M759.6,843.5h0M858.9,844.3h0M872.6,847.7h0M901.6,859.1h0M873.3,986.2h0M848.9,911.2h0M846,889.7h0M806.4,944.7h0M902.4,831.2h0M833.2,937.4h0M891.4,830.7h0M888.5,832.1h0M914.4,835.8h0M778.8,944.2h0M892.2,968.4h0M819.5,962.7h0M777.2,946h0M789,946.8h0M925,896.6h0M845.7,919.2h0M835.9,968.1h0M915.8,845.9h0M770.9,841.9h0M817.4,817h0M817.8,872.2h0" stroke="#f2f2f2" stroke-width="2.2" stroke-linecap="round" fill="none" filter="url(#bl2)"/><g filter="url(#bl)"><path d="M856.6,957.5 L868.8,946.5 L881.1,934.3 L895.8,919.6 L901.9,913.5" fill="none" stroke="#f4f4f4" stroke-width="3.2" stroke-linecap="round"/><path d="M810.7,915.3 L828.4,903.9 L849.1,894.6 L865.7,886.3 L875.1,876.9" fill="none" stroke="#f4f4f4" stroke-width="3.2" stroke-linecap="round"/><path d="M865.7,886.3 L870.9,904.9 L872.4,927.8 L868.4,950.6 L862,967.2" fill="none" stroke="#f4f4f4" stroke-width="3.2" stroke-linecap="round"/></g></g>
<rect x="54.8" y="762" width="293.9" height="263" fill="none" stroke="#1a1a1a" stroke-width="2.8"/>
<text x="53.8" y="755.9" font-size="29.9" fill="#161616" stroke="#161616" stroke-width="0.4">Gut endoderm</text>
<text x="64.86" y="791.2" font-size="29.3" fill="#161616" stroke="#161616" stroke-width="0.4"><tspan font-style="italic">n</tspan> = 292</text>
<g transform="translate(-313.05,0)"><g filter="url(#bl)"><path d="M788.1,825.5C789.3,822.6 792.2,817.7 797.9,816.9C803.6,816.1 816.2,819.2 822.4,820.6C828.5,822 831.5,822.8 834.6,825.5C837.6,828.1 840.7,832.8 840.7,836.5C840.7,840.2 837.6,845.9 834.6,847.5C831.5,849.1 827.5,846.5 822.4,846.3C817.3,846.1 808.9,846.9 804,846.3C799.1,845.7 795.2,844.7 793,842.6C790.7,840.6 791.4,836.9 790.5,834C789.7,831.2 786.9,828.3 788.1,825.5Z" fill="#e0e0e0"/><path d="M718.4,868.3C718.8,865.9 720.2,861.4 722,858.5C723.9,855.7 726.9,853 729.4,851.2C731.8,849.3 734.1,847.9 736.7,847.5C739.4,847.1 743.2,847.3 745.3,848.7C747.3,850.2 748.7,853.2 748.9,856.1C749.1,858.9 748.3,863.4 746.5,865.9C744.7,868.3 741.2,869.3 737.9,870.8C734.7,872.2 730,874 726.9,874.4C723.9,874.8 721,874.2 719.6,873.2C718.1,872.2 717.9,870.8 718.4,868.3Z" fill="#d9d9d9"/><path d="M751.4,847.5C751.4,844 752.8,840 753.8,836.5C754.9,833 755.9,829.2 757.5,826.7C759.1,824.3 760.2,822.8 763.6,821.8C767.1,820.8 774.2,820 778.3,820.6C782.4,821.2 786.1,823.2 788.1,825.5C790.1,827.7 790.5,831.2 790.5,834C790.5,836.9 787.7,840.2 788.1,842.6C788.5,845.1 790.3,847.9 793,848.7C795.6,849.5 800.1,847.9 804,847.5C807.9,847.1 812.2,845.9 816.2,846.3C820.3,846.7 824.8,847.9 828.5,850C832.1,852 836,855.5 838.3,858.5C840.5,861.6 841.7,865.5 841.9,868.3C842.1,871.2 841.5,874 839.5,875.6C837.4,877.3 833.4,878.1 829.7,878.1C826,878.1 821.5,876.5 817.5,875.6C813.4,874.8 809.3,874 805.2,873.2C801.1,872.4 797.1,871 793,870.8C788.9,870.5 784.8,872 780.8,872C776.7,872 772.2,871.8 768.5,870.8C764.8,869.7 761.2,868.1 758.7,865.9C756.3,863.6 755.1,860.4 753.8,857.3C752.6,854.2 751.4,851 751.4,847.5Z" fill="#d9d9d9"/><path d="M778.3,810.8C778.7,809.4 784.2,807.1 788.1,805.9C792,804.7 797.5,804.3 801.6,803.5C805.6,802.6 809.1,801.2 812.6,801C816,800.8 819.5,800.6 822.4,802.2C825.2,803.9 827,808.6 829.7,810.8C832.3,813 834.8,814.1 838.3,815.7C841.7,817.3 846.6,819 850.5,820.6C854.4,822.2 858.4,823.4 861.5,825.5C864.6,827.5 869.3,831.8 868.8,832.8C868.4,833.8 862.7,832.2 859.1,831.6C855.4,831 850.9,830.2 846.8,829.2C842.7,828.1 838.7,826.9 834.6,825.5C830.5,824.1 826.4,821.8 822.4,820.6C818.3,819.4 814.2,818.8 810.1,818.1C806,817.5 802,817.5 797.9,816.9C793.8,816.3 788.9,815.5 785.6,814.5C782.4,813.5 777.9,812.2 778.3,810.8Z" fill="#e0e0e0"/><path d="M846.8,824.3C849.3,823 855.2,825.1 859.1,826.7C862.9,828.3 867.6,831.2 870.1,834C872.5,836.9 872.7,840.2 873.7,843.8C874.8,847.5 875.2,852.4 876.2,856.1C877.2,859.7 879.5,863.2 879.9,865.9C880.3,868.5 880.1,871.2 878.6,872C877.2,872.8 873.9,871.8 871.3,870.8C868.6,869.7 865.2,867.1 862.7,865.9C860.3,864.6 858.4,865.5 856.6,863.4C854.8,861.4 853.1,856.9 851.7,853.6C850.3,850.4 849.3,847.1 848,843.8C846.8,840.6 844.6,837.3 844.4,834C844.2,830.8 844.4,825.5 846.8,824.3Z" fill="#d9d9d9"/><path d="M883.5,827.9C883.1,823.4 883.3,819.8 884.8,816.9C886.2,814.1 889.6,811.2 892.1,810.8C894.5,810.4 897,812 899.4,814.5C901.9,816.9 903.7,823.6 906.8,825.5C909.8,827.3 914.9,824.9 917.8,825.5C920.6,826.1 923.1,826.5 923.9,829.2C924.7,831.8 923.5,837.3 922.7,841.4C921.9,845.5 920.4,850 919,853.6C917.6,857.3 915.5,860.1 914.1,863.4C912.7,866.7 912.5,872 910.4,873.2C908.4,874.4 904.5,871.8 901.9,870.8C899.2,869.7 896.6,869.5 894.5,867.1C892.5,864.6 890.9,859.9 889.6,856.1C888.4,852.2 888.2,848.5 887.2,843.8C886.2,839.1 883.9,832.4 883.5,827.9Z" fill="#d9d9d9"/><path d="M909.2,895.2C909.4,892.6 912.3,890.3 915.3,887.9C918.4,885.4 923.1,883 927.6,880.5C932.1,878.1 938.8,874 942.3,873.2C945.7,872.4 947.8,873.6 948.4,875.6C949,877.7 948,882.2 945.9,885.4C943.9,888.7 939.8,892.2 936.1,895.2C932.5,898.3 927.6,902.4 923.9,903.8C920.2,905.2 916.6,905.2 914.1,903.8C911.7,902.4 909,897.9 909.2,895.2Z" fill="#d9d9d9"/><path d="M719.6,895.2C720.2,893 724.3,890.7 728.1,889.1C732,887.5 737.7,886.3 742.8,885.4C747.9,884.6 753.6,884.2 758.7,884.2C763.8,884.2 768.5,885 773.4,885.4C778.3,885.8 784.4,885.6 788.1,886.7C791.8,887.7 795,889.5 795.4,891.6C795.8,893.6 793.8,897.3 790.5,898.9C787.3,900.5 781.2,900.5 775.9,901.3C770.6,902.2 764.6,903.2 758.7,903.8C752.8,904.4 746.1,905.2 740.4,905C734.7,904.8 727.9,904.2 724.5,902.6C721,900.9 719,897.5 719.6,895.2Z" fill="#d9d9d9"/><path d="M817.5,900.1C818.5,898.3 818.7,893.8 821.1,891.6C823.6,889.3 828.3,888.1 832.1,886.7C836,885.2 841.1,884.8 844.4,883C847.6,881.2 849.3,877.1 851.7,875.6C854.2,874.2 856.6,873.2 859.1,874.4C861.5,875.6 864,881.2 866.4,883C868.8,884.8 870.9,885.4 873.7,885.4C876.6,885.4 879.9,882.6 883.5,883C887.2,883.4 892.7,885 895.8,887.9C898.8,890.7 900.7,898.1 901.9,900.1C903.1,902.1 902.3,898 903.1,900C903.9,902 906,907.1 906.8,912.2C907.6,917.3 908.2,924.5 908,930.6C907.8,936.7 906.8,943.8 905.6,948.9C904.3,954 902.3,957.1 900.7,961.2C899,965.3 897.8,971 895.8,973.4C893.7,975.9 891.5,976.7 888.4,975.9C885.4,975 881.3,970.1 877.4,968.5C873.5,966.9 868.6,967.7 865.2,966.1C861.7,964.4 859.7,958.3 856.6,958.7C853.6,959.1 850.5,966.1 846.8,968.5C843.2,971 838.7,973.4 834.6,973.4C830.5,973.4 826.4,969.7 822.4,968.5C818.3,967.3 813,968.1 810.1,966.1C807.3,964 806.2,959.5 805.2,956.3C804.2,953 803.8,950.2 804,946.5C804.2,942.8 805.8,937.9 806.4,934.3C807.1,930.6 806.7,928.1 807.7,924.5C808.7,920.8 811.3,915.9 812.6,912.2C813.8,908.6 814.2,904.5 815,902.4C815.8,900.4 816.4,901.9 817.5,900.1Z" fill="#d9d9d9"/><path d="M751.4,957.5C752.2,955.3 755.9,950.2 758.7,947.7C761.6,945.3 764.4,943.8 768.5,942.8C772.6,941.8 778.3,942 783.2,941.6C788.1,941.2 794.2,939.6 797.9,940.4C801.6,941.2 804.6,944.3 805.2,946.5C805.8,948.7 804.4,952.4 801.6,953.8C798.7,955.3 792.8,954.2 788.1,955.1C783.4,955.9 777.9,957.6 773.4,958.7C768.9,959.9 764.4,961.4 761.2,961.8C757.9,962.2 755.5,961.9 753.8,961.2C752.2,960.5 750.6,959.7 751.4,957.5Z" fill="#d9d9d9"/><path d="M761.2,980.8C762,979 766.5,977.1 771,975.9C775.5,974.6 782.6,974.2 788.1,973.4C793.6,972.6 799.1,971.8 804,971C808.9,970.1 814.2,968.1 817.5,968.5C820.7,968.9 823,971.2 823.6,973.4C824.2,975.7 823.4,979.9 821.1,982C818.9,984 814.2,984.4 810.1,985.6C806,986.9 801.6,988.8 796.7,989.3C791.8,989.8 785.9,989.2 780.8,988.7C775.7,988.2 769.3,987.6 766.1,986.3C762.8,984.9 760.4,982.5 761.2,980.8Z" fill="#d9d9d9"/><path d="M822.4,1004C822.8,1002.2 825.4,998.8 828.5,996.7C831.5,994.5 836.6,992.6 840.7,991.2C844.8,989.7 849.3,989.2 852.9,988.1C856.6,987 859.7,986.1 862.7,984.4C865.8,982.8 869.3,978.3 871.3,978.3C873.3,978.3 875.2,982.3 875,984.4C874.8,986.6 872.7,988.9 870.1,991.2C867.4,993.4 862.9,996.3 859.1,997.9C855.2,999.5 850.9,999.8 846.8,1000.9C842.7,1002.1 838.1,1003.5 834.6,1004.6C831.1,1005.7 828.1,1007.8 826,1007.7C824,1007.6 821.9,1005.8 822.4,1004Z" fill="#d9d9d9"/><path d="M724.5,914.7C724.7,913.1 727.3,909.6 729.4,907.3C731.4,905.1 734.9,901.2 736.7,901.2C738.5,901.2 740.8,905.3 740.4,907.3C740,909.4 736.3,911.8 734.3,913.5C732.2,915.1 729.8,916.9 728.1,917.1C726.5,917.3 724.3,916.3 724.5,914.7Z" fill="#e0e0e0"/><path d="M782.7,878C785.5,874.5 793.8,872.4 799.3,873.8C804.8,875.2 813.8,882.1 815.9,886.3C818,890.4 815.2,895.9 811.8,898.7C808.3,901.5 800,903.6 795.2,902.9C790.3,902.2 784.8,898.7 782.7,894.6C780.6,890.4 779.9,881.4 782.7,878Z" fill="#e0e0e0"/><path d="M815.9,977.6C816.6,975.2 826.3,971.4 832.5,969.3C838.7,967.2 847.4,965.1 853.3,965.1C859.2,965.1 866.1,967.2 867.8,969.3C869.5,971.4 867.5,975.5 863.7,977.6C859.9,979.7 850.9,980.7 845,981.8C839.1,982.8 833.2,984.5 828.4,983.8C823.5,983.1 815.2,980 815.9,977.6Z" fill="#d9d9d9"/><path d="M773.4,924.5C774.8,922.4 779.9,919 783.2,918.4C786.5,917.7 791.8,919.2 793,920.8C794.2,922.4 792.6,926.3 790.5,928.1C788.5,930 783.4,931.4 780.8,931.8C778.1,932.2 775.9,931.8 774.6,930.6C773.4,929.4 772,926.5 773.4,924.5Z" fill="#ececec"/><path d="M840.7,798.6 L851.1,793.9 L859.1,790" fill="none" stroke="#d9d9d9" stroke-width="3" stroke-linecap="round"/><path d="M851.1,794.3 L854.8,801" fill="none" stroke="#d9d9d9" stroke-width="3" stroke-linecap="round"/><path d="M785.6,878.1 L793,874.4 L800.3,883 L812.6,887.9" fill="none" stroke="#d9d9d9" stroke-width="3" stroke-linecap="round"/><circle cx="925.1" cy="862.2" r="2.4" fill="#cfcfcf"/><circle cx="925.1" cy="868.3" r="2.4" fill="#cfcfcf"/><circle cx="910.4" cy="870.8" r="2.4" fill="#cfcfcf"/><circle cx="801.6" cy="835.3" r="3" fill="#cfcfcf"/><circle cx="817.5" cy="836.5" r="3" fill="#cfcfcf"/><circle cx="838.3" cy="829.2" r="2.4" fill="#cfcfcf"/><circle cx="851.7" cy="975.9" r="2.6" fill="#cfcfcf"/><circle cx="862.7" cy="974.6" r="2.6" fill="#cfcfcf"/><circle cx="854.2" cy="983.2" r="2.4" fill="#cfcfcf"/><circle cx="801.6" cy="995.4" r="3" fill="#cfcfcf"/><circle cx="786.9" cy="935.5" r="2.4" fill="#cfcfcf"/><circle cx="797.9" cy="935.5" r="2.4" fill="#cfcfcf"/></g><path d="M728.1,912.9h0M816.1,976.9h0M782.4,826.7h0M787.1,974.5h0M855.4,935.6h0M880.1,889.1h0M856.4,894.7h0M748,902.6h0M828.5,941.1h0M915.5,857.6h0M825.4,832h0M742.3,849.5h0M779.6,886.4h0M768,846.3h0M857.3,852.8h0M808.1,882.8h0M796.8,875.1h0M826.5,901.4h0M735.5,870.4h0M917.2,830.5h0M843.1,966.4h0M801.2,843.5h0M897.5,900.2h0M891.2,832.4h0M841.6,1000.4h0M762.8,850.4h0M774.8,887.2h0M909.8,832.9h0M891.3,917.4h0M823.1,912.3h0M820.5,811h0M794.8,838.1h0M848.5,891.9h0M904.7,854.5h0M914.7,851.9h0M760.4,863.6h0M847.8,836.7h0M914.7,890.1h0M869,884h0M773.9,830.9h0M770.6,859.5h0M749.4,893.1h0M880.2,902.6h0M776.4,955.5h0M864.2,936.4h0M839.1,897.2h0M822.4,854.1h0M822.7,861.4h0M817,855.5h0M847.3,953.3h0M871.1,858h0M828,870.6h0M808.6,831.8h0M732.7,870.2h0M804.2,869.4h0M867.4,984.8h0M777.8,849.7h0M828.3,924.2h0M824.3,916.3h0M871.4,861.8h0M884.6,819.7h0M841.1,923.2h0M878.6,887.4h0M894.8,906.1h0M915,845.8h0M833.9,836.2h0M803.5,868h0M818.1,805.8h0M789.1,855.6h0M806.6,850.2h0M833.4,999.2h0M759.3,960.6h0M834.6,951.1h0M759.8,849.4h0M803.1,985.5h0M859,931.4h0M802.2,826.1h0M847.5,935.6h0M812.4,857.3h0M759.3,955.2h0M815.9,975.5h0M930.7,896.4h0M755.7,843h0M850.6,961.6h0M816.4,939.9h0M864.7,902.7h0M824.6,834.5h0M817.6,815.2h0M842.7,935h0M855,989.2h0M808.6,970.5h0M875.9,863.8h0M798.7,818.4h0M770.9,827.8h0M810.5,853.1h0M871.2,918.7h0M811.5,847.3h0M913.3,833.4h0M826.3,958.2h0M796.2,826.2h0M761.2,865.2h0M780.6,952.5h0M819.1,965.1h0M886.2,913.3h0M915,832.5h0M756.1,903.8h0M798.9,883.3h0M898.2,937.2h0M875.5,958.2h0M769.5,837.1h0M893.3,890.7h0M835.1,934.1h0M879.9,936.1h0M867.4,850h0M823.8,931.7h0M798.9,807.5h0M798,853.3h0M827.3,918.7h0M914,898h0M798.7,982.1h0M804,850.8h0M890.4,856.9h0M874,850h0M904.1,871.2h0M768.5,825.7h0M724.6,897.8h0M762.7,890.7h0M848.5,976.9h0M792.7,864.8h0M722.4,861.1h0M859.1,944.8h0M785.5,887.8h0M763.1,828.4h0M819.7,943.9h0M871.2,933.5h0M860.3,862.9h0M911.9,857.3h0M861.7,944.1h0M757.3,837.3h0M831.6,919.8h0M760.2,834.8h0M859.5,882.4h0M736.4,866.3h0M741,900.9h0M829.4,933.2h0M888.4,916.7h0M812.9,829.3h0M751.9,903h0M762.8,900h0M774.4,839.4h0M795.2,825.8h0M902.6,951.6h0M862.1,904h0M801.8,831h0M790.2,951.5h0M779.9,821.8h0M853.2,959.2h0M742.8,859.6h0M782.1,848.5h0M852.5,938.1h0M863.2,898.2h0M849.2,903.1h0M903,829.9h0M927.8,891.8h0M804.9,894.5h0M821,835.5h0M842.5,974.5h0M815.2,829.4h0M837.9,906.1h0M834.5,916.7h0M853.6,885.4h0M790.7,952.4h0M819.9,931.4h0M807.4,953.1h0M787.3,987.6h0M908.2,848.5h0M806.4,883.7h0M797.8,848.9h0M780.9,847.2h0M876.1,870.1h0M777.4,978.7h0M766.8,894.6h0M874.4,919.9h0M807.5,813.9h0M835.1,860.3h0M787.8,844.8h0M879.9,941h0M772.1,981.3h0M867.2,835h0M759.5,861.7h0M852.5,952.7h0M818.7,945.6h0M904.1,858h0M867,894.6h0M885.7,972.3h0M869.4,914.7h0M724.8,873.7h0M760.4,863.3h0M886.7,942.5h0M822,819.9h0M827.2,874.9h0M737.2,902.6h0M873.2,850.3h0M917.8,847.7h0M834.9,829.6h0M838.7,887.7h0M797,838h0M865,973.5h0M879.1,929h0M830.2,937.4h0M879.7,893.4h0M851.2,882.2h0M832.3,916.9h0M838.3,924.5h0M812,811.2h0M888.7,961.5h0M858.6,841.9h0M847.2,971.7h0M773.7,837.5h0M782.5,946.2h0M807,872.8h0M847.7,884.3h0M830.4,875.8h0M927.7,894.7h0M779,851.7h0M795.3,825.1h0M859.5,851.5h0M873.8,965.3h0M899.1,814.8h0M835.5,917.2h0M944.9,875.4h0M834.7,934.9h0M910.1,896.2h0M766,850.4h0M818.4,845.9h0M899.8,936.4h0M780.6,867.9h0M880.7,926.5h0M854.8,989.2h0M894,816.5h0M817.6,818.1h0M831.8,824.9h0M835.2,819.7h0M834.1,997.1h0M778.2,834h0M809.8,865h0M806.4,885.2h0M804.2,848h0M829.2,843.7h0M840.3,894.6h0M883.8,893.8h0M795,878.8h0M889.5,855.4h0M770.5,978.5h0M869,984h0M802.9,804.7h0M801.8,951.8h0M858.2,896.8h0M919.9,886.3h0M932.6,891.8h0M898.3,919.2h0M880.2,951.4h0M775.6,863.9h0M837.7,887.4h0M812.2,919.3h0M850.3,971.2h0M878.5,943.5h0M791.1,980.1h0M807.9,802.2h0M817.5,944.4h0M834.1,999.6h0M859.4,914h0M722.5,868.3h0M771.8,958.3h0M906.9,860.6h0M830.1,827.8h0M834,912.9h0M836.7,875.7h0M810.9,839.8h0M897.5,828.8h0M795.5,973.3h0M945.1,885.6h0M893.4,944.3h0M796.1,825.9h0M878.2,959h0M768,838.6h0M814.7,928h0M793.9,842h0M777.8,949.3h0M862.6,991.7h0M912.3,850.2h0M880.9,917.6h0M892.2,960h0M856.9,921.9h0M894.6,832.5h0M723.4,860.5h0M790.2,891.4h0M904.7,864.2h0M877.7,960.6h0M813.2,972.7h0M883,965.4h0M794.7,809.5h0M860.8,976.3h0M763.3,844.3h0M744.7,855.5h0M891.1,923.7h0M838,924.5h0M727.8,900.1h0M823.7,870.2h0M810.7,857.2h0M894,908.6h0M759.4,949.8h0M867.5,853h0M911.1,895.1h0M837,841h0M869.9,840.3h0M936.4,879.2h0M869.1,950.5h0M723.4,898.5h0M878.2,952h0M872.4,947.2h0M868.5,958.2h0M775.7,828.8h0M761.8,889.4h0M859.7,909.4h0M820.4,950.4h0M778.5,849.9h0M772.1,851.6h0M859.5,947.9h0M902.4,834.1h0M821.2,955.2h0M856.7,940.5h0M873.1,920.3h0M840.8,819.5h0M909,857.8h0M901.2,844.3h0M919.1,846.7h0M819.6,820.5h0M887.9,815.6h0M829.9,833.2h0M820.1,821h0M825.2,955.9h0M823.3,864.9h0M830.4,834.6h0M873.2,908.2h0M861.2,938.2h0M819.8,825.9h0M810.5,944.4h0M790.4,884.5h0M887.9,825.3h0M873.4,907.8h0M773.9,847h0M841,944h0M895.3,932.3h0M906.4,846.2h0M875.8,963.7h0M765.6,842.3h0M811.5,887.6h0M886.1,891.2h0M901.5,861.2h0M857.2,838.6h0M843.7,954.6h0M840.6,865.4h0M829.7,851.9h0M806.3,952.7h0M907.8,845.9h0M875.9,919.3h0M770.2,851.9h0M843.3,954.4h0M891.1,843.6h0M775.2,829.6h0M908.6,863.1h0M929.3,896.6h0M765.5,865h0M888.1,964.5h0M843,978.3h0M816.4,869.4h0M893.5,823.5h0M772,851.1h0M753.2,958.8h0M803.7,872.6h0M805.2,979.7h0M879.2,938.5h0M909.1,845h0M759.6,896.7h0M760.4,861.4h0M835.1,942.1h0M850.3,969.9h0M860.5,852h0M815.1,907.9h0M888,951.3h0M820.7,814h0M901.6,848.9h0M785.8,830.6h0M755.9,900.5h0M798.5,888.5h0M940.1,883.4h0M857.5,944h0M810.6,835.1h0M829.9,904.1h0M829.2,868.2h0M862.3,967.9h0M802.6,880.3h0M887.1,933.6h0M842.6,944.8h0M850.2,826.3h0M805.8,946.9h0M863.8,864.6h0M735.7,855.9h0M845.2,957.9h0M835,869h0M923.7,892.6h0M880.5,958.8h0M881,916.9h0M827.6,903.5h0M900.5,924.7h0M857.4,976.4h0M811.3,948.4h0M777.6,827.5h0M865.8,938.8h0M891.5,916.3h0M853.6,918.3h0M770.5,976.3h0M733.1,900h0M730.5,868h0M872.2,888.2h0M838,1001.1h0M886.6,889.3h0M818.3,940.5h0M882.1,889.8h0M835.6,902.5h0M913.6,899.2h0M830.7,869.2h0M837.6,924.4h0M830.6,955.8h0M823,873.7h0M893.3,840.6h0M868.8,947.6h0M911.1,845.4h0M894.3,902.3h0M858.8,851.2h0M866.1,836.5h0M878.6,929.4h0M856.5,921.4h0M860.5,907.2h0M763.2,863.5h0M770.1,983.4h0M856.8,878h0M732.7,896.6h0M818.1,906.7h0M792.1,980.9h0M800.2,883.4h0M875.6,941.3h0M824.3,978h0M880.6,943.7h0M828.1,838.5h0M871.3,947.6h0M852.9,843.9h0M776.9,981.1h0M794.1,809.5h0M863.1,984.6h0M809,844.3h0M837.5,905.3h0M799.2,841.1h0M893,939.8h0M836.7,968.1h0M854.7,842.9h0M860.4,932.7h0M807,827.8h0M854.4,836.8h0M852.5,913.3h0M870.8,947.1h0M847.7,956.3h0M731,850.6h0M785,896.5h0M942.8,881.3h0M838,892h0M829,834.2h0M827.5,823.8h0M888.2,955.2h0M835.3,886.3h0M898.8,856.3h0M820.1,962.8h0M850.2,886.6h0M785.4,952.5h0M803.9,822.9h0M814.2,850.4h0M756.7,891.2h0M856.4,860.8h0M807.8,888.5h0M828.8,863.7h0M852,841.6h0M792.3,981.7h0M767.1,850.7h0M855.5,905.9h0M847.4,973.8h0M825.4,962.1h0M743.9,903.5h0M856.6,847.3h0M871.4,906.2h0M856.5,922.7h0M726.4,914.3h0M833.3,1001h0M847,999.2h0M792.4,829.3h0M912.6,845.4h0M884.3,943.1h0M826.7,974.4h0M812.3,893.9h0M763.5,866.6h0M774.1,851.9h0M835.5,964.1h0M781.9,893.1h0M801.4,818.6h0M839.7,923.3h0M797.8,887h0M845.7,888.7h0M850.8,840.5h0M876.9,946.6h0M873.6,844.4h0M894.2,932.6h0M821.4,846.2h0M823.3,952.4h0M735,868.6h0M784.7,954.1h0M902.5,864.3h0M902.8,843h0M859.5,955.3h0M787.7,870.5h0M792.5,865.6h0M801.8,821.3h0M828.9,867.5h0M843.9,978.5h0M834.6,941.4h0M756.9,951.4h0M778.5,820.9h0M865.7,984.4h0M827.6,1000.1h0M789.3,945.6h0M827.9,973.7h0M891.9,928.3h0M858.8,974.2h0M894.9,841.2h0M855.8,823.9h0M833.2,903.1h0M838.1,971.4h0M929,887.4h0M792.1,863.9h0M785.4,955.4h0M874,924.5h0M899.2,921h0M818.1,918.4h0M807.8,888.9h0M826.3,866.2h0M888.8,896h0M892.6,821.8h0M755.4,953.4h0M865.8,935.4h0M850.1,832.6h0M841.3,945h0M799.9,948.7h0M880.4,914.5h0M887.7,890.3h0M772.1,859.1h0M774,981.5h0M870.7,945h0M874.3,907.3h0M789.8,824.4h0M810.6,822.9h0M847.9,916.5h0M825.2,973.7h0M798.3,947.6h0M910.2,862.1h0M812.6,917.6h0M905.7,944.7h0M832.3,982h0M775.3,893.5h0M849.7,892.8h0M796.4,822.8h0M882.3,952.1h0M826,857.9h0M826.5,930.6h0M832.1,833.7h0M857.4,976.6h0M774.2,975.6h0M819.8,835.7h0M857.8,889.4h0M898.6,926.8h0M791.1,864.5h0M909.1,835.6h0M899.6,899h0M881.4,929.1h0M873,985.6h0M726.3,862.4h0M841.5,934.2h0M841,887.7h0M885,826.1h0M867.7,863.8h0M897.7,844.8h0M901.8,869h0M892.8,930.5h0M808.7,854.2h0M805.5,840.1h0M775,848.6h0M813.6,874.2h0M894.6,903.4h0M835.3,918.5h0M804.5,810.1h0M902.3,832.8h0M752.3,848.2h0M946.6,882h0M765.3,951.1h0M833.9,1001.9h0M827.5,912.1h0M736.3,901.5h0M752.9,892.7h0M835,911.6h0M833.3,970.1h0M802.2,882.9h0M765.7,854.6h0M829.5,851.7h0M747.7,900.7h0M855.6,896.2h0M932.2,894.2h0M798.7,952.7h0M839,913.7h0M855,893.1h0M866,983.7h0M839.3,820.1h0M901.3,904.9h0M820.4,945.2h0M880.2,923.8h0M764.3,851.4h0M848.6,997h0M826.1,1001.1h0M854,835h0M747.3,897h0M844.8,993.5h0M887.5,896.2h0M815.1,952.2h0M786.4,813.9h0M837.8,951.2h0M871.9,939.1h0M843.2,933.7h0M825,1005.6h0M841.4,900.3h0M746.5,852.3h0M797.8,953.7h0M780.2,942.3h0M873.1,889.4h0M768.5,849.1h0M874.2,892h0M773.1,841.2h0M863.9,931.3h0M779.2,977.8h0M871.9,917.1h0M914.5,839.7h0M887.1,904.3h0M828.2,1001.9h0M860.8,916.5h0M875,909.9h0M918.8,899.7h0M764.8,949.4h0M900.9,927h0M836.9,913.7h0M813,946.8h0M900.3,914.5h0M838.5,954.9h0M785.5,985.7h0M814.9,844.2h0M875.5,903.5h0M936.2,892.8h0M840,937.5h0M861.8,835.3h0M885.9,973.3h0M814.2,857.2h0M896.1,963.3h0M799.4,813.6h0M853.3,977h0M846.4,952.2h0M774.9,840.4h0M893.7,942.5h0M834.7,906.7h0M853.3,941.6h0M761.4,897.8h0M773.7,976.3h0M942.9,876.8h0M855.2,946.9h0M850.8,824.6h0M787.5,887.7h0M836.6,981.9h0M857.1,990.9h0M778.7,835.6h0M785.9,809.6h0M792.6,815h0M876.5,942.9h0M855.8,922.5h0M739.9,852h0M813.9,872.1h0M795.1,834h0M776,948.2h0M897.3,834.5h0M805.3,972.2h0M909.6,869h0M836.8,963h0M889.7,945.4h0M846.8,886.1h0M808.5,843.7h0M824.1,981h0M862.3,938.7h0M855.2,926.4h0M891.6,941.7h0M866.3,912.5h0M795.6,840.9h0M811.2,815.3h0M861,851.4h0M878.2,891.9h0M826.9,822.4h0M887.8,893.7h0M841.5,919h0M742.8,896h0M805.1,824.7h0M888.8,923h0M834.9,980.6h0M942.7,884.3h0M787.5,981.6h0M764.6,821.8h0M893.8,921.5h0M910.8,869.3h0M895.8,894.3h0M887.8,842.4h0M881.3,965.8h0M938,890.6h0M889.4,948h0M848.6,910.1h0M831,979.5h0M753.5,901.7h0M897.5,932h0M916.2,893.1h0M766.2,832.6h0M738,863.2h0M815.1,936.5h0M894.2,969.8h0M827.3,983.1h0M878.3,943h0M889.7,960.7h0M838.6,875.1h0M785.2,944.1h0M800.7,887.4h0M834.8,843.2h0M821.8,935.9h0M847.2,994.6h0M787.6,850.3h0M890.9,824.5h0M750.1,885.1h0M874,904.3h0M796.1,890.3h0M907.4,836.3h0M903.3,820.4h0M767.6,861.7h0M824.3,839.3h0M896,852.8h0M833.4,874.5h0M848.6,965.1h0M827.5,969.2h0M845.9,923.4h0M913.1,893.6h0M845.1,895.2h0M810.2,831.7h0M818.5,818.2h0M907,926h0M892,939.1h0M882,962.6h0M893.5,889.2h0M835.9,1001.8h0M898.4,946h0M803.1,949.9h0M751.6,895.4h0M847.3,930.5h0M823.8,859.2h0M759.3,864.9h0M739.6,868.8h0M888.6,886.5h0M840.2,826.9h0M852.4,931.4h0M900.7,856.2h0M840.9,981h0M858.3,884.5h0M811.5,952.4h0M817.1,927h0M814.1,950.9h0M826.7,968.3h0M784.3,836.1h0M774.1,952.9h0M766.7,959.6h0M855.1,854.6h0M826.4,858.7h0M876.8,932.8h0M765.8,856.9h0M866.1,851.7h0M872,945.8h0M814.3,983.3h0M848.2,881h0M801.8,944.6h0M934.4,885.3h0M827.1,892.1h0M733.4,860.1h0M782.4,841.9h0M834,898.7h0M811.3,963.6h0M841.1,954h0M885,948.6h0M826.7,952.3h0M770.2,891.8h0M748.9,903.4h0M768.5,954.5h0M897.8,864.6h0M737.5,890h0M807.5,827.5h0M902.3,910.4h0M924.8,884.8h0M818.5,964.3h0M833.5,922.8h0M852,917.9h0M851.4,999.4h0M895.3,834.2h0M757.8,848.7h0M774.7,900.3h0M872.6,915h0M823.4,840.1h0M917.8,887.8h0M787.8,848.8h0M843.4,916h0M928.1,887.4h0M818.6,830.3h0M839.5,1002.9h0M845.2,965h0M797.9,882.2h0M883,919.8h0M853.4,996.9h0M822,831.8h0M755.7,852.9h0M864.7,913.8h0M752,844.8h0M806.2,952.5h0M848.3,832.4h0M841.6,915.8h0M838.1,872.2h0M813.9,921.1h0M802.6,844.3h0M865.1,991.7h0M856.8,882.9h0M835.7,974.9h0M754.6,886.5h0M818.1,851.3h0M874.7,951.2h0M827.9,943.5h0M857.2,928.1h0M821.4,852.1h0M871.5,963.2h0M931.8,880.7h0M814,842.8h0M909.3,857.5h0M774,837.6h0M896.5,946.1h0M840.1,823.1h0M904.7,837.9h0M895.4,941.7h0M852.8,911.1h0M794.7,877.8h0M881.6,906.1h0M808.6,806.6h0M763.7,898.6h0M890.3,895.9h0M766.3,828.6h0M865.4,972.5h0M878.1,867.4h0M890.4,901.6h0M827.6,859.8h0M834.7,942.4h0M809.8,870.4h0M806.4,897.1h0M766.8,861.6h0M834.9,892h0M779,858.6h0M806.3,941.5h0M757.1,892.8h0M776.4,953.1h0M787.5,893.6h0M856.5,927.8h0M893.6,944.7h0M890.2,889.4h0M889.4,848.6h0M761.7,824.8h0M838.8,835.2h0M843.6,993.9h0M817.6,833.1h0M835.2,818.7h0M754.4,856.3h0M822.3,923.2h0M745.2,900.8h0M791.3,807h0M894.6,972.6h0M737.7,903.9h0M896.5,934.6h0M898.9,823.7h0M761.9,959h0M932.2,885.6h0M804.7,803.5h0M769.9,980.3h0M901.4,838.2h0M792.2,942.2h0M904.9,862.7h0M859.3,935h0M774,954.1h0M810.1,805.7h0M858.8,911.9h0M765.1,839.9h0M792.3,828h0M832.3,905.4h0M798.3,823.9h0M932.7,887.5h0M816,976.7h0M760.6,900.1h0M886.2,929.2h0M857.7,933.8h0M777.9,849.8h0M902.4,840h0M888.8,844.7h0M821.7,876h0M843.2,895.8h0M811.6,971.9h0M859.8,854.8h0M811.9,984.5h0M785.7,886.9h0M844.8,898h0M820.3,810.7h0M769.5,826.5h0M766.4,886.8h0M776.6,887.1h0M786.6,883.5h0M790.2,806.8h0M778.5,834.4h0M863.6,889.7h0M888.4,915.8h0M857.7,827h0M835.4,832.9h0M906.2,835.7h0M872.9,943.5h0M772.6,943.1h0M798.1,976.1h0M832,876.9h0M908.4,834.3h0M819,828h0M728,916.6h0M922.7,831.7h0M816.9,839.5h0M861.3,989.2h0M854.6,885.4h0M881.5,892h0M833.1,859.7h0M744,900.9h0M825.2,896.2h0M828.5,861.7h0M831.7,998.6h0M845.6,970.3h0M764.9,888.9h0M789,945.4h0M896.7,937.7h0M853.5,931h0M900.1,826.2h0M840.8,946.2h0M789,857.3h0M895.3,859.5h0M854.3,853.5h0M752.9,897.5h0M804.2,836h0M839.5,870.7h0M828.5,930.5h0M893.8,934h0M861.3,917.5h0M796.1,952.9h0M867.2,900.5h0M885.6,897.7h0M885.9,887.1h0M887.6,964.2h0M833.4,911.1h0M834.4,856.8h0M780.6,944.9h0M791.5,973.1h0M870,931.6h0M849.7,935.4h0M764.7,836h0M805.2,983h0M857,902h0M816.3,920.3h0M863.3,929.5h0M840.2,959.9h0M860.7,879.5h0M873.8,893.1h0M874.4,938.7h0M801.2,844.6h0M775.7,846.7h0M761.8,958.5h0M761,824.1h0M808.4,960.7h0M791.8,833.4h0M809.7,951.6h0M761,864.3h0M914.3,839h0M886.1,822.2h0M786.3,811.4h0M902.3,916h0M831.3,868.8h0M834.6,904.8h0M761.4,896.6h0M888.9,889.6h0M825.5,1001.3h0M852.4,973h0M888.7,816.5h0M766.9,892h0M816.6,844.9h0M810.2,882.4h0M835.7,830.6h0M901.7,923.3h0M857.5,849h0M831,915.8h0M734.6,905.6h0M897.3,826.4h0M880.9,923.5h0M904.8,847.7h0M859,878.6h0M911.7,840.5h0M759.6,836.5h0M785.1,862h0M822.4,825.7h0M815,924.7h0M806.7,862.3h0M872.1,986.8h0M816.8,936.8h0M914.2,839.5h0M863.8,861.1h0M759.5,831.5h0M788.7,832.2h0M750.5,889.8h0M768.1,843.6h0M768.6,830.1h0M869.5,853.5h0M768.7,825.9h0M743.7,865.2h0M783.8,983.2h0M837.2,982.2h0M891.8,914.5h0M854.3,934.7h0M888.3,834.9h0M828.9,938h0M785.3,861h0M880.9,942.5h0M873.3,956.7h0M884.3,937.6h0M782.9,840.6h0M770.7,847.9h0M828.6,921.8h0M884.3,827.1h0M764.8,894h0M867.4,963.7h0M828.8,814.6h0M817.3,951.4h0M774.2,840h0M884.2,890.8h0M909,844h0M839.8,965.3h0M819.2,914h0M853.3,885.5h0M828.1,863.9h0M813.7,804.7h0M923.2,890.2h0M772.4,844.9h0M824.5,813.7h0M876.9,888.8h0M844.9,902.9h0M722.7,897.2h0M765.6,898.5h0M805.6,941.3h0M865,925.6h0M848.3,941.9h0M769.1,867.2h0M845.7,932.4h0M813.5,884.9h0M811.5,922.9h0M792.8,981.3h0M885.3,948.2h0M846.7,949.3h0M793.9,863.9h0M766.4,959.2h0M741.5,895.1h0M853.6,842h0M840.4,893h0M813.1,952.1h0M836.3,815.3h0M826.2,932.5h0M887,886.3h0M897.7,858.4h0M730.1,856.7h0M732,872h0M755.2,848.8h0M863.3,861.7h0M868.2,884.3h0M844.8,990.6h0M819.6,957.5h0M835.2,836.3h0M814.6,814.4h0M783.9,824.6h0M810.3,832.7h0M809.9,964h0M819.4,812.9h0M790.1,846.1h0M831.4,814.1h0M897.3,846.6h0M780.6,829h0M830.4,914h0M883.1,892.5h0M825.3,828.3h0M860.6,857.7h0M831.2,969.5h0M805.1,951.4h0M880.8,962.8h0M825.2,912.2h0M747,858.4h0M786.1,864.9h0M860.7,897.6h0M925.6,902h0M858.3,905.4h0M738.6,893.3h0M765.8,853.3h0M769.4,843.1h0M745.4,855.5h0M792.8,856.4h0M791.6,895h0M779.7,850.3h0M859.7,952.3h0M892.2,963.3h0M816.6,904.2h0M831.9,975.6h0M859.6,851.7h0M889.4,921.3h0M905.4,943.5h0M734,889.3h0M793.8,870.8h0M898.5,906.6h0M889.8,829.5h0M782.6,855.1h0M904.7,935.4h0M730.9,896.7h0M824.7,832.1h0M814.9,912.1h0M855.7,957.6h0M821.3,962.5h0M843.5,825.6h0M857.8,834.8h0M790.4,849.3h0M859.8,952.8h0M739.5,888.4h0M766.8,985h0M827.8,977.7h0M860.4,959.1h0M867.1,885.2h0M790.1,865.2h0M858.3,829h0M823.9,818h0M728.5,860.4h0M853.8,976.5h0M821.3,836.2h0M777.4,836.2h0M818.1,833.4h0M832.7,932.8h0M802.6,891.8h0M860.7,853.5h0M852.7,829h0M819.6,921h0M810.5,820.9h0M846.5,971.4h0M897.3,960.3h0M724.8,863.3h0M807.6,807.5h0M904.9,930.9h0M828.6,856.3h0M817,824.6h0M829.9,872.2h0M835,920.2h0M904.4,904.6h0M846,946.8h0M931.6,885.1h0M839.8,962.1h0M755.9,902.4h0M818.7,823.2h0M821.3,975.3h0M855.9,911h0M790.9,950h0M830.3,964.5h0M864.1,846h0M792.8,809.6h0M817.1,938.8h0M759.8,902h0M831.9,953.1h0M908.9,866.6h0M892.1,969.6h0M940.6,885.9h0M772.4,840.7h0M863.9,911.4h0M795.2,863.2h0M855.5,894.2h0M829.8,871.2h0M849.4,912h0M791.2,805.7h0M869.1,963.1h0M797.2,842.2h0M842.9,913.2h0M896.6,862.5h0M904.8,942.9h0M851.3,931.8h0M813.9,984.2h0M803.4,841.6h0M839.2,901.1h0M809.8,982.7h0M887.1,821.6h0M901.3,866.5h0M866.1,893.5h0M878.7,886.7h0M843.7,818.8h0M778,870.9h0M868.4,861.8h0M873.1,855.5h0M873.4,938.3h0M794.9,951.2h0M845.8,933.1h0M867.5,969.3h0M830.5,869.9h0M774.4,978.2h0M934.9,891.8h0M865.6,862.2h0M894.9,856.9h0M812.5,807.2h0M793.2,866.7h0M823.7,915.2h0M895.2,842h0M906.4,922.6h0M872.9,922.3h0M837.9,919.9h0M851.6,918.2h0M807.5,834.9h0M865.9,920.7h0M786.9,889.4h0M807.9,853.5h0M794.6,855.5h0M881.5,896.8h0M848.5,903.6h0M871,988.1h0M818,819h0M824.9,864.3h0M817.5,858.4h0M785.5,830.8h0M844.3,935.3h0M812,973.2h0M835.6,980.9h0M755.2,849h0M901.8,917.3h0M823.9,845.9h0M794.8,985.3h0M851.1,903.8h0M823.9,980.4h0M821.7,928.3h0M838.4,898.6h0M803,974.2h0M863.8,897.1h0M896.3,890.5h0M809.2,945h0M848,951.3h0M888.5,818.2h0M793.4,887.3h0M875.9,937.7h0M846.4,887.9h0M898.2,950.3h0M827.5,914h0M828.4,997.7h0M786.1,982.8h0M877.1,927h0M786.8,857.7h0M781.3,837.3h0M802.3,816.3h0M814.2,825.6h0M820.8,911.4h0M812.4,921.1h0M748.7,899h0M893.8,905.4h0M872.2,842.8h0M817.7,932.2h0M759,829.7h0M797.9,868.4h0M832.9,929.6h0M845.8,884.2h0M766.4,885.1h0M801,890.5h0M846.6,963.6h0M881.1,965h0M834.6,871.2h0M904.8,838.2h0M832.1,873.5h0M885.2,931.4h0M906.6,861.1h0M825,968.3h0M845.5,962.9h0M850.4,924.3h0M843.1,959.8h0M900.6,921.6h0M785.4,887.9h0M828,898.4h0M785.9,846.2h0M897.6,944.4h0M825.5,900.8h0M742.6,863.5h0M826.8,828h0M900.3,924.4h0M754.1,855.8h0M916.4,890.5h0M869,898.5h0M833.1,946.1h0M855.7,857.6h0M790.3,859.9h0M822.7,872.1h0M946.3,878.7h0M843.3,937.2h0M794.7,984.5h0M857.8,971.5h0M826.7,927.4h0M840.2,817.5h0M812.4,853h0M787.7,807.6h0M871.3,904.2h0M865,956.4h0M916.3,830.5h0M741.7,863h0M824.9,862.7h0M739.6,864h0M838.5,816h0M834.1,952.7h0M939.8,884.8h0M840.4,981.3h0M864.1,917.4h0M767.2,859h0M920.8,846.9h0M774.6,844.9h0M849.3,921.3h0M869.8,918h0M839.4,974.2h0M736.5,860.2h0M824,835.2h0M818.4,903.3h0M765.9,832.5h0M809.1,814.7h0M904.5,905.9h0M884.5,895.9h0M755.6,841.2h0M798.1,811.5h0M740.3,900.8h0M762.6,842.7h0M723,868.1h0M810.1,864.1h0M927.8,896.1h0M914.2,841.5h0M898.9,819.4h0M815.1,824.1h0M753.1,886.1h0M842.9,955.2h0M867.6,937h0M880.2,894.4h0M788.4,889.4h0M781.7,954.3h0M848.1,893.3h0M807.4,861.3h0M894.6,942.5h0M823,865.1h0" stroke="#c9c9c9" stroke-width="2.4" stroke-linecap="round" fill="none" filter="url(#bl2)"/><path d="M791,828.2h0M892.4,858.3h0M739.5,887h0M877.1,963.2h0M883.8,925.8h0M824.1,979.8h0M885.4,937.4h0M822.3,915.9h0M882.6,908.4h0M801.7,831.7h0M895,844.9h0M774.8,947.4h0M759.2,840h0M829.9,938.7h0M907.3,868.2h0M911.6,827.2h0M824.5,923.3h0M835.4,912h0M839.6,917.2h0M772.1,855.9h0M836.9,918.6h0M938.1,892.5h0M836.4,907.7h0M750.4,889.9h0M816.3,810.9h0M823.4,869.6h0M899.9,858.8h0M836.7,946.3h0M795.7,978.1h0M805.4,899.4h0M786.1,846.2h0M842.3,960.1h0M807.4,866.7h0M866.8,956.4h0M836.1,978.7h0M800.2,818.1h0M849.6,933.1h0M835.7,912.7h0M829.8,945.4h0M895.8,862h0M777.2,942.8h0M824.7,975.4h0M855.4,826.2h0M796,864.5h0M803.1,881.4h0M772.3,853.5h0M893.1,894.2h0M834.3,843.4h0M769.8,851.8h0M813.2,886.1h0M840.6,945.1h0M890.4,937.4h0M905.6,846.2h0M825.2,1006h0M768.7,849.4h0M794.5,887.5h0M900.1,859.9h0M814.3,941.4h0M812.7,973.6h0M864.2,852.7h0M828.8,1005.5h0M768.5,886.7h0M878.5,959.6h0M851.7,877.1h0M828.7,975.2h0M788,839.7h0M746.5,857.3h0M832.6,972.1h0M941.5,880.3h0M740.8,849.4h0M859.9,916h0M786.6,887.4h0M893.4,966.1h0M913.7,837.6h0M726.4,872.2h0M820.6,833.9h0M864,890.1h0M857.3,839.9h0M828.7,824.6h0M869.6,986.7h0M871.4,892.6h0M893.4,849.7h0M862,906.5h0M848.4,890.9h0M769,958.7h0M896.5,866.9h0M883.2,941.4h0M827.4,979.7h0M924.4,891.2h0M868.5,948.3h0M800.9,974.9h0M835.9,982.3h0M832.7,903.1h0M918,852.3h0M780.9,842.2h0M834.6,819.2h0M884.3,968.1h0M761.5,852.9h0M825.2,911.9h0M791.7,829.2h0M819.7,965.2h0M741.5,896.6h0M771.9,866.8h0M892.2,817.4h0M811.2,958h0M817.5,921.3h0M815.3,845.3h0M845.3,952.8h0M840.4,885.3h0M814.6,887.5h0M763,823.4h0M847.1,822.5h0M817.1,935.2h0M906,825.9h0M759.3,947.4h0M895.5,891.5h0M832.8,904.6h0M920.2,898h0M803.7,887.1h0M862.4,945.2h0M837.7,901.6h0M828.6,910.6h0M856.6,934.7h0M862.2,939.8h0M864.2,932.9h0M876.8,895.7h0M802.2,976h0M817.7,936.2h0M813.1,817.4h0M889.8,848.3h0M903.5,952h0M892.4,813.5h0M887.3,896.3h0M881.2,927.4h0M775.8,888h0M853,855.2h0M909.3,839.1h0M761.6,851h0M903,846.2h0M840.5,899.8h0M851.1,883.5h0M906.8,829.4h0M927.7,895.8h0M851.1,935.9h0M822.1,830.1h0M887.4,937.3h0M769.6,826.5h0M821.8,816.3h0M823.1,869.8h0M756.5,890.8h0M886.9,973.5h0M840,893.1h0M833.7,907.9h0M854.1,910h0M740.8,903.6h0M807.2,887.5h0M793.8,890.8h0M772.3,887.9h0M727.3,890.3h0M870.4,853.5h0M781.9,862.2h0M777.1,897.6h0M846.6,979.7h0M887.6,896.4h0M770.6,843.7h0M807,891.8h0M798.1,943.6h0M839.4,957.5h0M899.9,899.6h0M856.5,904.5h0M853,886.9h0M806.1,865.8h0M851.2,904.4h0M903.4,913.5h0M839.4,908.8h0M803.6,883.2h0M853.5,988.6h0M831.7,891.8h0M906.9,862.5h0M871.7,911.9h0M799.6,836h0M820.8,979h0M802,849.2h0M813.1,940h0M869.6,834.5h0M897.4,814h0M808.4,959.5h0M884.6,889.2h0M797.9,860.9h0M793.4,974.4h0M900.1,832.2h0M859.7,896.5h0M780.2,838.4h0M871.1,933.1h0M784.1,835.9h0M791.7,835.6h0M851.7,933.2h0M819.9,837h0M816.4,857.3h0M819.7,941.5h0M783.9,892.5h0M790.9,896.3h0M855.2,886.6h0M847,819.7h0M808,832.7h0M886.9,888.7h0M865.3,986.9h0M844.6,946.7h0M795.6,828.2h0M800.2,897.9h0M778.2,855.1h0M850.2,964.6h0M903.6,934.3h0M800.7,856.9h0M900.8,957.7h0M794.3,866.1h0M785.4,862.9h0M809.9,839.1h0M759.2,956.5h0M763.1,866.9h0M815.8,913.5h0M848.7,939.6h0M774.5,951.5h0M904,863h0M754.4,957.3h0M904.5,848.4h0M851.1,885.2h0M852.4,829.5h0M873.3,914.7h0M837.5,925.3h0M841.6,929.8h0M863.1,853.3h0M828.3,953.7h0M841,911h0M769.7,832.9h0M825.1,935.9h0M815.8,969.3h0M812,937.6h0M798.1,879.8h0M792.4,810.6h0M837.9,976.4h0M848.5,964.2h0M814.5,923.5h0M786.1,985.7h0M826.1,902.6h0M782.9,951.3h0M858,895h0M859.1,834.6h0M874.7,851.7h0M783.4,846.2h0M870.2,844.1h0M733.4,897.2h0M782.7,871.5h0M744.9,854.7h0M921.4,845h0M847.9,968.4h0M838.3,816.4h0M798.2,877.4h0M827,831.1h0M770,986.7h0M854.6,846.5h0M764.9,867.8h0M829.9,904.4h0M869.1,838.8h0M797.3,830.7h0M857.6,890.8h0M906.9,850.4h0M756,854.7h0M800.6,844.3h0M840.5,943.8h0M834.5,875h0M791.3,825.1h0M808.1,959.4h0M796.8,825.8h0M776.7,839.9h0M822.6,979.2h0M899.3,898.4h0M867.5,852.1h0M847.1,960.8h0M795.4,881.4h0M797.4,835.9h0M842.9,909.7h0M835.5,982.4h0M854.5,883.8h0M778.5,980.9h0M919.6,828.3h0M898.5,905.1h0M886,949.8h0M821.4,917.1h0M816,808.9h0M823.5,945.2h0M727.7,866.1h0M760,895.4h0M899.3,817.8h0M887.5,836.1h0M849,975.7h0M865,925.8h0M824.5,821.9h0M798.1,815.7h0M811.8,929.4h0M922.5,889.8h0M842.7,938h0M944.5,884.7h0M754.1,891.4h0M882.7,959.1h0M870.8,925h0M785.8,885h0M917.2,844.8h0M890.7,825.4h0M800.3,898.2h0M765.6,958.7h0M769.9,832.5h0M827.6,957.9h0M755.4,844.9h0M897.2,923.3h0M829.3,907.6h0M865.3,842.6h0M824.1,844.8h0M803.5,830.7h0M774.5,894.9h0M840.6,922.9h0M811.9,806.3h0M782.4,858.6h0M927.6,887.4h0M856.6,971.2h0M852.6,834.9h0M879.5,951h0M870.5,934.6h0M776.3,951.4h0M757.8,950.7h0M869.9,947.1h0M889.1,911.4h0M736.2,895.3h0M742.2,897.5h0M785,810.1h0M722.8,858.4h0M739.2,852.1h0M828.2,1005.4h0M782.2,897.4h0M756.9,887.1h0M861.6,992.9h0M791.8,981.7h0M937.4,885.3h0M892,961.1h0M823.9,869.6h0M787.9,987.3h0M857.7,890.1h0M817.3,815.3h0M799.2,843.9h0M910.4,843.2h0M805.1,951.2h0M893.1,836.1h0M837.7,1000.2h0M795.1,952.7h0M769.3,851.2h0M856.4,953.6h0M745.5,896.2h0M750.3,885.2h0M875.7,956.7h0M843,999.5h0M779,868.1h0M893.4,953.4h0M758.2,959.6h0M806.4,815.5h0M898.4,926.3h0M862.3,942.9h0M773.3,846.2h0M853.9,894.3h0M877.3,920.4h0M899.4,852.7h0M832.2,855.5h0M899.2,827.8h0M853.3,994.6h0M927.8,892.2h0M774.2,955.7h0M734.4,903.6h0M852.9,972.9h0M828.2,821.1h0M826.1,898.2h0M906.5,850h0M902.8,933.8h0M825.8,976h0M741,857.5h0M861.2,861.1h0M848.3,840.3h0M877.3,945.5h0M760.7,834.4h0M838.9,866.2h0M910.2,830.2h0M918.7,894.6h0M895.6,952.7h0M793.7,853.6h0M727.6,914.5h0M877.5,904h0M830.9,823h0M884.4,922.2h0M790.5,806.8h0M720.6,872.8h0M836,887.1h0M885.9,966.8h0M906.1,939h0M841.2,942.4h0M816.8,837.3h0M803.7,821.3h0M900.3,868.2h0M719.1,866.6h0M885.5,908.5h0M833.4,876.8h0M799.4,868.8h0M802.3,820.2h0M811.5,846.2h0M863.3,832.8h0M743.5,901.3h0M743.7,862.9h0M846.5,930.7h0M820,977.6h0M909,856.8h0M884.8,897.1h0M824,838.3h0M917.8,849.5h0M898.4,958.9h0M773.5,977.8h0M904.3,859.3h0M913.8,891.1h0M844.4,891.7h0M905.3,862.4h0M932.8,884.7h0M849.9,896.5h0M866.8,934h0M870.7,939.5h0M794.2,823.2h0M818.8,845.2h0M839.4,825.1h0M895.5,816.5h0M812.1,926.5h0M883.4,924.3h0M837.2,905.9h0M803.5,885.7h0M758.5,896.8h0M736.1,899.6h0M884,957.9h0M810.6,920.3h0M919.8,847.9h0M889.3,844.2h0M887.8,973.1h0M809.8,837.1h0M853.3,966.4h0M793.3,950.4h0M871.4,940.8h0M912.2,849.6h0M867.9,833.2h0M805.9,852.6h0M804.7,860.1h0M845.8,999.2h0M825,916.5h0M829.5,934.5h0M766.6,950h0M806.4,871.1h0M785.9,949.2h0M903.3,934.4h0M788.4,945.4h0M778.9,850.4h0M906.1,912h0M783.2,857.1h0M822.4,919.7h0M804,822.2h0M875,862.7h0M928.1,885.9h0M917.2,842h0M892.7,814.6h0M813.7,921.8h0M820.4,913.3h0M785.5,809.7h0M850.4,836.9h0M878,912.1h0M785.4,846.1h0M900.2,921.1h0M906,916.1h0M876.4,963.1h0M820.8,956.2h0M854.4,833.1h0M897.5,948h0M821.5,862.1h0M866.6,888.5h0M943.4,879.6h0M832.3,812.4h0M879.3,888.5h0M814.8,807.5h0M769.8,896.2h0M852.5,990.8h0M814.5,802.6h0M884.4,955.6h0M848.7,926h0M890.9,959h0M904.9,908.5h0M808.8,893.8h0M770.3,851.1h0M876.4,899.2h0M815.2,849.9h0M791.2,891.7h0M864.6,993.2h0M793.1,881.9h0M935.8,888.6h0M777.9,824.7h0M775,841.6h0M842.1,975.9h0M817.4,848.3h0M756.7,890.9h0M771.9,831.2h0M753.5,848.2h0M829.1,916.8h0M783.6,982.2h0M901.3,912.9h0M795.8,828.8h0M842.2,916.9h0M902.6,829.4h0M893,902.1h0M881.2,894.1h0M794.4,952.1h0M878.4,918.4h0M786.3,833.7h0M845.7,956.3h0M855.4,847.1h0M892.6,942.3h0M812.2,918h0M853.7,827.2h0M743,851.2h0M866.8,894.6h0M756.5,897h0M894.6,849.5h0M896.2,933.7h0M924,886h0M772.4,865.6h0M797.2,809.9h0M834,949.4h0M896.1,949.6h0M787.3,981.6h0M853.3,884.8h0M864.8,845h0M724.8,861.5h0M854.3,935.3h0M824.3,840.2h0M878.4,933.3h0M805.4,817h0M869.3,910.4h0M898.1,841.1h0M729.2,872.1h0M903.2,847.9h0M845.1,979.7h0M902.4,913.5h0M819.9,845.9h0M816.7,950.5h0M910,853.1h0M870.5,925.8h0M870.7,857.4h0M802.2,855.6h0M913.5,898.8h0M737,853h0M890.9,907h0M770,825.1h0M822.5,851.5h0M824.1,908.9h0M756.5,856.5h0M900.5,899h0M764,823.5h0M775.5,853.1h0M861.7,930h0M736.7,850.2h0M818.6,922h0M869.6,834.9h0M790.3,899.1h0M915.2,897.8h0M782.2,851.3h0M773.4,979.1h0M870,921h0M837.3,899.7h0M859.2,938.5h0M731.9,897h0M795.4,826.7h0M874.1,937.2h0M749.5,901.5h0M726.7,854.7h0M865.2,901.1h0M787.5,982.3h0M872.8,928.1h0M776.8,978.5h0M800.4,811.9h0M881.4,902.8h0M799.5,946h0M801,855.8h0M807.2,888.6h0M801,899h0M894.7,829.6h0M889.2,915.5h0M794.6,866.6h0M905.4,858.9h0M791.9,812h0M799.7,880.4h0M818.2,864.8h0M824.1,917.6h0M756,835.3h0M854.6,850.3h0M878.9,889.3h0M881.8,907.1h0M816.2,827.1h0M778.7,821.8h0M730,902.1h0M849.3,887.5h0M781.1,836.1h0M811.5,811.5h0M882.5,930.9h0M826.2,816.4h0M766.3,824.5h0M879.4,885.3h0M761.4,828.7h0M896.2,930.5h0M828.6,911.7h0M900.5,830.5h0M920.9,832.7h0M868,847.5h0M811.5,953.7h0M745,861.2h0M829.2,899.9h0M839.7,903.9h0M786.1,951.5h0M919.2,849.6h0M881.7,897.4h0M775.3,980.8h0M884.3,946.5h0M741.9,866.5h0M908.7,864.4h0M859.5,967.9h0M829.6,854.1h0M809.2,895.3h0M773.4,899h0M872.7,861h0M829.1,841.6h0M867.7,947h0M904.8,908.3h0M833.1,961.2h0M889.9,841h0M837.4,946.4h0M838.9,967.5h0M790,826.8h0M812.8,849.3h0M780.8,888.1h0M907.4,857.9h0M779.8,841.5h0M885.8,829.1h0M872.4,908.4h0M838.9,958.8h0M806.8,831.9h0M875.8,961.2h0M898.2,824.5h0M831.7,964h0M814.7,942h0M764.9,887.1h0M738.6,860.9h0M728.7,916.3h0M887.9,838.9h0M905.2,937.6h0M840.8,928.4h0M779.9,833.2h0M800.5,987.6h0M815,914.3h0M865.9,947.9h0M767.1,842.8h0M795,981h0M832.8,894.7h0M758.1,900h0M744.7,853.6h0M781.4,809.5h0M898.5,898.9h0M773.6,837.1h0M858.7,909h0M817.9,979.5h0M861.8,959.1h0M775.6,987.8h0M818,873.6h0M873.9,906.8h0M844.8,920h0M771.6,869.2h0M851.2,946.4h0M874.2,901.4h0M767.5,947.3h0M781,943.4h0M818,875h0M862.6,989.4h0M801.5,867.4h0M787.7,954.5h0M815.5,971.5h0M898.8,950h0M900.3,900.1h0M828.9,901.6h0M797.8,890.3h0M859.3,918.9h0M932.6,879.9h0M807.6,954.9h0M795.5,885.6h0M870.6,860.9h0M853.8,835.6h0M791.3,852.8h0M847.9,922.6h0M813,921.2h0M736.7,853.9h0M731.9,872.4h0M869.4,923.5h0M811.4,944.4h0M808.6,838h0M838.5,971.2h0M856.7,894.1h0M895.1,957.8h0M793.3,831h0M899.1,901.3h0M922.3,891h0M761,825.9h0M918.5,889.4h0M942.6,877.8h0M922,886.4h0M816.6,928.6h0M881.9,937.4h0M870.3,862.3h0M796.7,880.2h0M821.7,912.9h0M828.6,816.8h0M870.9,838.8h0M829.2,978.9h0M770.9,868.5h0M723.3,900.2h0M898.2,906.3h0M811.7,917.1h0M894.5,967.1h0M755.2,896.5h0M825.3,911.4h0M901.2,949.2h0M771.1,946.7h0M802.6,895.8h0M769.3,889.4h0M846.3,885.1h0M791,946.8h0M795.8,947.1h0M869.9,867.4h0M890.9,951.7h0M813.5,809.4h0M727.2,873.7h0M826.6,875.4h0M938.4,875.6h0M847.8,999.8h0M872.1,861.9h0M877.8,890.7h0M790.4,899.1h0M911.8,855.6h0M861,888.6h0M836.4,945.3h0M886,831.6h0M891.1,957.2h0M889,915.4h0M885.9,941.5h0M838,895.1h0M804.1,825.8h0M763,857.5h0M771.6,976.1h0M895.1,915.4h0M844.7,992.1h0M784.2,893.7h0M872.1,868.7h0M815.4,977.8h0M891.7,921.1h0M897.2,908h0M903.7,851h0M771,862.6h0M810.8,962.8h0M871.8,847h0M847,997.9h0M763.6,956.1h0M804.6,947.4h0M863,884.7h0M801.6,859.9h0M745.1,885.6h0M888,843.4h0M814.3,825.7h0M776.6,830.9h0M818.2,828.6h0M733.5,852.7h0M745.1,888h0M771.8,954.2h0M765.2,897.3h0M858.3,932.5h0M888.3,969.8h0M851.5,824.9h0M903.1,844.2h0M858.6,943.8h0M785.1,837.4h0M765.8,888.8h0M845.9,886h0M734,909.1h0M892.6,944.7h0M846.9,974.1h0M899,894.4h0M817.6,969.8h0M818.2,944.7h0M862.5,956.9h0M818.5,869.4h0M842.3,923.8h0M830.6,903.3h0M731.3,856h0M724.3,863.4h0M784.7,898.4h0M832.4,940.3h0M767,901.1h0M883.8,897.1h0M886.3,937.8h0M895.8,962h0M859,849.9h0M838.8,873h0M762.8,841.3h0M806.5,894.6h0M806.3,883.7h0M829.1,833.1h0M796.1,941.5h0M841.1,949.5h0M824.9,823.9h0M838.9,894.1h0M906.1,844.7h0M792.4,977.7h0M884.5,914.7h0M765.9,848.9h0M874.1,857.9h0M870.2,966.4h0M896.8,866h0M836.5,959.9h0M776.8,830.9h0M865.1,956.2h0M768.3,854.2h0M893.5,827.7h0M914.8,859.2h0M855,849.3h0M813.7,826.2h0M773,901.3h0M899.9,917.4h0M894.2,927h0M794,896.9h0M835.4,979.9h0M831.1,939.1h0M864.9,963.4h0M776.2,951.4h0M792.9,832.7h0M810.3,938.9h0M762.7,892.1h0M813.8,825.8h0M891.5,919.8h0M889.1,927.3h0M848.1,837.3h0M855.4,855.5h0M805.2,839.2h0M896.9,853.8h0M894,936.6h0M789.3,856.7h0M901,841.3h0M822.9,967.1h0M815.5,954.1h0M878.5,952.8h0M860.2,852.3h0M763.1,892.2h0M876.4,966.3h0M917.1,854.2h0M918.5,837.3h0M796.3,949.2h0M739.3,887.2h0M822.6,979.9h0M847.6,908.2h0M835.4,978.3h0M809.9,949h0M868.6,946.3h0M838.3,838.2h0M785.9,882.2h0M923.8,891.1h0M808.7,851.6h0M869.2,953.9h0M797.4,860.5h0M723.5,900.9h0M792.9,824h0M848.5,921.2h0M813.9,870.7h0M784.3,830.9h0M762,835.1h0M863.9,838.9h0M883.3,904.4h0M828,981.4h0M772,844.7h0M798.1,901h0M838.2,1000.5h0M836.8,996.8h0M820.7,946.7h0M819.9,909.4h0M801.9,943.8h0M826.7,851.4h0M796,812.5h0M779.9,942.5h0M745.9,856.5h0M924.8,893.3h0M721.9,895h0M734.5,892.3h0M895,951.8h0M831.1,914.4h0M872.4,942.1h0M835.2,840h0M827.4,917.9h0M793.3,834h0M800.5,886.4h0M773.9,954h0M757.3,848.4h0M856.9,883.9h0M823.9,843.9h0M834.4,935.2h0M825.8,849.3h0M886.8,921.1h0M852.8,937.4h0M869.4,861.1h0M825,820.6h0M845.8,822.5h0M800.9,878.4h0M770,869.9h0M809.9,979.8h0M849.5,907h0M872.4,927.3h0M904,942.2h0M793.4,837.2h0M878.2,892.9h0M729,914.1h0M729.8,861.4h0M917.7,841.1h0M765.9,851.9h0M827.3,923.9h0M739,853.8h0M848.8,956.4h0M804.7,858.9h0M872.4,911.9h0M840.3,933.5h0M823.4,947.3h0M766.5,845h0M854,847.5h0M784.8,864.8h0M836.9,829.8h0M781.5,826.9h0M891.6,907.6h0M793.1,898.2h0M835,963.2h0M830.6,867.6h0M839.9,892.2h0M816.7,922.9h0M760.5,947.7h0M804.5,822h0M884.7,914.3h0M922.5,829.6h0M843.5,926.3h0M827.8,842.8h0M890.5,831.9h0M895.9,866.2h0M768.5,959.9h0M785.4,878.8h0M790.9,951.8h0M816.3,838.5h0M868,842h0M895.2,920.1h0M815.8,973h0M843.6,823.3h0M826.9,829.8h0M778.7,825.9h0M839.6,889.8h0M849.7,941.6h0M826.1,910.4h0M817.9,953.2h0M776.6,894.2h0M846.6,914.6h0M857.8,857.6h0M812.8,926.6h0M857.8,853.7h0M854.6,897.2h0M757,841.3h0M846.6,991.6h0M871,888.9h0M880.6,897.5h0M811.1,802.4h0M841.8,955.5h0M766.3,944.6h0M919.5,837.1h0M861.5,916.5h0M805.7,847.4h0M845.8,926.4h0M784.8,980.5h0M822.6,826.2h0M739.1,903.7h0M832.1,955.6h0M883.6,892.9h0M886.7,923.8h0M774.4,949.7h0M867.1,961.8h0M746.5,851.2h0M804.6,975h0M820.3,940.4h0M792.2,837.9h0M835.3,973.5h0M773.5,861.9h0M796.2,986h0M890.1,919.9h0M837.8,820.2h0M792.2,973.1h0M803.9,831.7h0M814.6,915.5h0M862.3,970.7h0M802.1,885.9h0M870.9,899.2h0M783.9,892h0M821.4,841.7h0M838.8,924.9h0M840.9,902.8h0M855.8,907.5h0M881.2,970.3h0M864.9,984.4h0M908.9,862.9h0M889.4,965.8h0M781.4,871.5h0M789.6,942.6h0M907.1,834h0M765.3,979.8h0M826.8,954.6h0M784.2,883.8h0M786.3,981.2h0M849.4,881.6h0M930,894h0M838.8,924.6h0M768.2,950.3h0M811.3,852.7h0M828.8,842.9h0M780.1,839.3h0M855.3,837h0M858.7,843.4h0M765.5,890.6h0M870.4,893.3h0M809.9,827h0M827.9,934.6h0M761.4,836.9h0M838.6,921.5h0M864.5,973.8h0M807.3,804.2h0M772.7,863.2h0M940.3,880h0M822.8,838.6h0M873.6,965.7h0M824.3,953.2h0M904,935.8h0M870.3,919h0M914.9,835.9h0M888.8,910h0M771.3,887.4h0M775,975.5h0M797.9,866.9h0M848.4,938h0M844.2,895.5h0M890.8,823.3h0M838.2,931h0M830,928.9h0M900.2,907.2h0M790.1,808.1h0M834.4,981.6h0M834.3,834.1h0M911.7,860.8h0M792.2,826.8h0M829.4,853.8h0M858.6,916.3h0M863.4,898.6h0M811.9,980.4h0M814.8,969.9h0M834.2,861h0M888.7,921h0M797.8,820.4h0M795.7,828.5h0M819.7,934.4h0M823.5,948.3h0M881,949.4h0M841.8,884.1h0M810.5,970.3h0M797.3,981.1h0M906.5,914.3h0M904.8,851.9h0M922.4,831.5h0M840.2,934.9h0M763.4,897.9h0M845.4,893.8h0M762.3,892.6h0M730.7,889.6h0M787.8,974.5h0M878.3,937.2h0M818.2,825h0M775.3,856.2h0M899.8,929.1h0M732.6,897h0M857.7,918.8h0M762.5,885h0M845.9,949h0M896.8,813.3h0M771.3,836h0M902.5,823h0M853.6,917.9h0M817.5,852.5h0M828.6,908.7h0M813,838.9h0M887.3,841.7h0M848.5,994h0M890.8,898.4h0M846.6,960.9h0M856.9,901.5h0M912.7,836.8h0M867.7,954.4h0M876.9,891.2h0M767.3,836.2h0M771,824.2h0M872.3,947.6h0M856.6,886.6h0M863,856.6h0M819.9,949.5h0M845.8,962h0M804.1,836.9h0M809.7,841h0M808.2,976.5h0M899.4,842.9h0M767.8,958.8h0M881.3,928.8h0M802.1,976.3h0M922,833.3h0M828.7,1002.7h0M852.2,957.2h0M837.2,892.8h0M854.6,886.5h0M771,944.2h0M867.3,917.3h0M914.8,852.3h0M786.1,975.6h0M824.2,897h0M763.5,902.3h0M909.5,840.7h0M898.1,953.4h0M816,905.6h0M834.7,819.5h0M778.5,845.2h0M806.8,856.8h0M818.2,981.2h0M856.6,987.2h0M836.1,933h0M818.4,932.3h0M766,949.9h0M847.5,820.9h0M794.7,853.6h0M834.6,896.1h0M772.6,845.5h0M785.2,953.1h0M894.6,845.4h0M801.7,830.9h0M915.1,845.3h0M743.5,857h0M828.5,844.1h0M825,822.9h0M839.6,959.4h0M757.7,832.6h0M851.2,968h0M852.8,884.2h0M831.5,980.4h0M764.7,823.8h0M853.5,827h0M806.1,941h0M787.7,806.5h0M777.2,823.9h0M918.1,844.4h0M899.7,818h0M773.8,945.7h0M767.4,901.6h0M809.1,840.7h0M788.9,812.3h0M794.4,820.8h0M780.6,866.8h0M786.7,810.4h0M890.4,947.4h0M828.8,928.7h0M807.4,832.7h0M832.1,999.9h0M893.5,971.6h0M747.8,885.9h0M758.6,885.1h0M837.5,822.5h0M878.7,955.5h0M759.3,841.6h0M762,886.8h0M762.4,901.2h0M767.3,861.7h0M896.4,829.2h0M817,845.9h0M825.6,859h0M820.1,955.2h0M893.1,818.4h0M819.1,870.9h0M797.6,987.7h0M872.3,981.4h0M753.4,896.1h0M784,886.5h0M847.6,941.8h0M720,864.5h0M813.5,860.7h0M900.1,829.8h0M761.4,824.4h0M730.7,871.7h0M871.3,934h0M723.5,893.2h0M848.8,879.3h0M834,813.3h0M849.8,962.5h0M789.4,836.6h0M751.1,890.9h0M904.7,906.7h0M865.2,948.1h0M753.1,893.6h0M764.5,899h0M782.6,947.9h0M781.9,955.1h0M731.4,895.7h0M863.6,909.8h0M856.1,852.6h0M767.6,949.6h0M806,820h0M827.4,940.6h0M776.9,984.9h0M743.8,852h0M744,862.9h0M812.4,832.2h0M801.5,804.9h0M788.1,894.9h0M919.5,849.6h0M735.2,865.5h0M917.1,837.4h0M807.6,842.6h0M832.5,969.2h0M810,964.2h0M836.6,995h0M880.1,910.4h0M793.9,893.8h0M725.7,868.8h0M886.2,889.4h0M811.3,972.2h0M807.1,821.6h0M786,879.2h0M907,831.6h0M836.3,956.5h0M830.9,831h0M870.9,852h0M821,848.3h0M772.6,852.8h0M829.4,943.4h0M770.4,983h0M881.9,946.1h0M916.3,850.9h0M823.8,921.2h0M901.4,924.5h0M850.3,886.7h0M808.3,977.7h0M890.3,904.7h0M759.6,843.5h0M858.9,844.3h0M872.6,847.7h0M901.6,859.1h0M873.3,986.2h0M848.9,911.2h0M846,889.7h0M806.4,944.7h0M902.4,831.2h0M833.2,937.4h0M891.4,830.7h0M888.5,832.1h0M914.4,835.8h0M778.8,944.2h0M892.2,968.4h0M819.5,962.7h0M777.2,946h0M789,946.8h0M925,896.6h0M845.7,919.2h0M835.9,968.1h0M915.8,845.9h0M770.9,841.9h0M817.4,817h0M817.8,872.2h0" stroke="#f2f2f2" stroke-width="2.2" stroke-linecap="round" fill="none" filter="url(#bl2)"/><g filter="url(#bl)"><path d="M856.6,957.5 L868.8,946.5 L881.1,934.3 L895.8,919.6 L901.9,913.5" fill="none" stroke="#f4f4f4" stroke-width="3.2" stroke-linecap="round"/><path d="M810.7,915.3 L828.4,903.9 L849.1,894.6 L865.7,886.3 L875.1,876.9" fill="none" stroke="#f4f4f4" stroke-width="3.2" stroke-linecap="round"/><path d="M865.7,886.3 L870.9,904.9 L872.4,927.8 L868.4,950.6 L862,967.2" fill="none" stroke="#f4f4f4" stroke-width="3.2" stroke-linecap="round"/></g></g>
<rect x="368.6" y="762" width="293.9" height="263" fill="none" stroke="#4aa6da" stroke-width="2.8"/>
<text x="366.71" y="755.9" font-size="29.9" fill="#161616" stroke="#161616" stroke-width="0.4">Embryonic origin</text>
<text x="378.66" y="791.2" font-size="29.3" fill="#161616" stroke="#161616" stroke-width="0.4"><tspan font-style="italic">n</tspan> = 240</text>
<g transform="translate(0,0)"><g filter="url(#bl)"><path d="M788.1,825.5C789.3,822.6 792.2,817.7 797.9,816.9C803.6,816.1 816.2,819.2 822.4,820.6C828.5,822 831.5,822.8 834.6,825.5C837.6,828.1 840.7,832.8 840.7,836.5C840.7,840.2 837.6,845.9 834.6,847.5C831.5,849.1 827.5,846.5 822.4,846.3C817.3,846.1 808.9,846.9 804,846.3C799.1,845.7 795.2,844.7 793,842.6C790.7,840.6 791.4,836.9 790.5,834C789.7,831.2 786.9,828.3 788.1,825.5Z" fill="#e0e0e0"/><path d="M718.4,868.3C718.8,865.9 720.2,861.4 722,858.5C723.9,855.7 726.9,853 729.4,851.2C731.8,849.3 734.1,847.9 736.7,847.5C739.4,847.1 743.2,847.3 745.3,848.7C747.3,850.2 748.7,853.2 748.9,856.1C749.1,858.9 748.3,863.4 746.5,865.9C744.7,868.3 741.2,869.3 737.9,870.8C734.7,872.2 730,874 726.9,874.4C723.9,874.8 721,874.2 719.6,873.2C718.1,872.2 717.9,870.8 718.4,868.3Z" fill="#d9d9d9"/><path d="M751.4,847.5C751.4,844 752.8,840 753.8,836.5C754.9,833 755.9,829.2 757.5,826.7C759.1,824.3 760.2,822.8 763.6,821.8C767.1,820.8 774.2,820 778.3,820.6C782.4,821.2 786.1,823.2 788.1,825.5C790.1,827.7 790.5,831.2 790.5,834C790.5,836.9 787.7,840.2 788.1,842.6C788.5,845.1 790.3,847.9 793,848.7C795.6,849.5 800.1,847.9 804,847.5C807.9,847.1 812.2,845.9 816.2,846.3C820.3,846.7 824.8,847.9 828.5,850C832.1,852 836,855.5 838.3,858.5C840.5,861.6 841.7,865.5 841.9,868.3C842.1,871.2 841.5,874 839.5,875.6C837.4,877.3 833.4,878.1 829.7,878.1C826,878.1 821.5,876.5 817.5,875.6C813.4,874.8 809.3,874 805.2,873.2C801.1,872.4 797.1,871 793,870.8C788.9,870.5 784.8,872 780.8,872C776.7,872 772.2,871.8 768.5,870.8C764.8,869.7 761.2,868.1 758.7,865.9C756.3,863.6 755.1,860.4 753.8,857.3C752.6,854.2 751.4,851 751.4,847.5Z" fill="#d9d9d9"/><path d="M778.3,810.8C778.7,809.4 784.2,807.1 788.1,805.9C792,804.7 797.5,804.3 801.6,803.5C805.6,802.6 809.1,801.2 812.6,801C816,800.8 819.5,800.6 822.4,802.2C825.2,803.9 827,808.6 829.7,810.8C832.3,813 834.8,814.1 838.3,815.7C841.7,817.3 846.6,819 850.5,820.6C854.4,822.2 858.4,823.4 861.5,825.5C864.6,827.5 869.3,831.8 868.8,832.8C868.4,833.8 862.7,832.2 859.1,831.6C855.4,831 850.9,830.2 846.8,829.2C842.7,828.1 838.7,826.9 834.6,825.5C830.5,824.1 826.4,821.8 822.4,820.6C818.3,819.4 814.2,818.8 810.1,818.1C806,817.5 802,817.5 797.9,816.9C793.8,816.3 788.9,815.5 785.6,814.5C782.4,813.5 777.9,812.2 778.3,810.8Z" fill="#e0e0e0"/><path d="M846.8,824.3C849.3,823 855.2,825.1 859.1,826.7C862.9,828.3 867.6,831.2 870.1,834C872.5,836.9 872.7,840.2 873.7,843.8C874.8,847.5 875.2,852.4 876.2,856.1C877.2,859.7 879.5,863.2 879.9,865.9C880.3,868.5 880.1,871.2 878.6,872C877.2,872.8 873.9,871.8 871.3,870.8C868.6,869.7 865.2,867.1 862.7,865.9C860.3,864.6 858.4,865.5 856.6,863.4C854.8,861.4 853.1,856.9 851.7,853.6C850.3,850.4 849.3,847.1 848,843.8C846.8,840.6 844.6,837.3 844.4,834C844.2,830.8 844.4,825.5 846.8,824.3Z" fill="#d9d9d9"/><path d="M883.5,827.9C883.1,823.4 883.3,819.8 884.8,816.9C886.2,814.1 889.6,811.2 892.1,810.8C894.5,810.4 897,812 899.4,814.5C901.9,816.9 903.7,823.6 906.8,825.5C909.8,827.3 914.9,824.9 917.8,825.5C920.6,826.1 923.1,826.5 923.9,829.2C924.7,831.8 923.5,837.3 922.7,841.4C921.9,845.5 920.4,850 919,853.6C917.6,857.3 915.5,860.1 914.1,863.4C912.7,866.7 912.5,872 910.4,873.2C908.4,874.4 904.5,871.8 901.9,870.8C899.2,869.7 896.6,869.5 894.5,867.1C892.5,864.6 890.9,859.9 889.6,856.1C888.4,852.2 888.2,848.5 887.2,843.8C886.2,839.1 883.9,832.4 883.5,827.9Z" fill="#d9d9d9"/><path d="M909.2,895.2C909.4,892.6 912.3,890.3 915.3,887.9C918.4,885.4 923.1,883 927.6,880.5C932.1,878.1 938.8,874 942.3,873.2C945.7,872.4 947.8,873.6 948.4,875.6C949,877.7 948,882.2 945.9,885.4C943.9,888.7 939.8,892.2 936.1,895.2C932.5,898.3 927.6,902.4 923.9,903.8C920.2,905.2 916.6,905.2 914.1,903.8C911.7,902.4 909,897.9 909.2,895.2Z" fill="#d9d9d9"/><path d="M719.6,895.2C720.2,893 724.3,890.7 728.1,889.1C732,887.5 737.7,886.3 742.8,885.4C747.9,884.6 753.6,884.2 758.7,884.2C763.8,884.2 768.5,885 773.4,885.4C778.3,885.8 784.4,885.6 788.1,886.7C791.8,887.7 795,889.5 795.4,891.6C795.8,893.6 793.8,897.3 790.5,898.9C787.3,900.5 781.2,900.5 775.9,901.3C770.6,902.2 764.6,903.2 758.7,903.8C752.8,904.4 746.1,905.2 740.4,905C734.7,904.8 727.9,904.2 724.5,902.6C721,900.9 719,897.5 719.6,895.2Z" fill="#d9d9d9"/><path d="M817.5,900.1C818.5,898.3 818.7,893.8 821.1,891.6C823.6,889.3 828.3,888.1 832.1,886.7C836,885.2 841.1,884.8 844.4,883C847.6,881.2 849.3,877.1 851.7,875.6C854.2,874.2 856.6,873.2 859.1,874.4C861.5,875.6 864,881.2 866.4,883C868.8,884.8 870.9,885.4 873.7,885.4C876.6,885.4 879.9,882.6 883.5,883C887.2,883.4 892.7,885 895.8,887.9C898.8,890.7 900.7,898.1 901.9,900.1C903.1,902.1 902.3,898 903.1,900C903.9,902 906,907.1 906.8,912.2C907.6,917.3 908.2,924.5 908,930.6C907.8,936.7 906.8,943.8 905.6,948.9C904.3,954 902.3,957.1 900.7,961.2C899,965.3 897.8,971 895.8,973.4C893.7,975.9 891.5,976.7 888.4,975.9C885.4,975 881.3,970.1 877.4,968.5C873.5,966.9 868.6,967.7 865.2,966.1C861.7,964.4 859.7,958.3 856.6,958.7C853.6,959.1 850.5,966.1 846.8,968.5C843.2,971 838.7,973.4 834.6,973.4C830.5,973.4 826.4,969.7 822.4,968.5C818.3,967.3 813,968.1 810.1,966.1C807.3,964 806.2,959.5 805.2,956.3C804.2,953 803.8,950.2 804,946.5C804.2,942.8 805.8,937.9 806.4,934.3C807.1,930.6 806.7,928.1 807.7,924.5C808.7,920.8 811.3,915.9 812.6,912.2C813.8,908.6 814.2,904.5 815,902.4C815.8,900.4 816.4,901.9 817.5,900.1Z" fill="#d9d9d9"/><path d="M751.4,957.5C752.2,955.3 755.9,950.2 758.7,947.7C761.6,945.3 764.4,943.8 768.5,942.8C772.6,941.8 778.3,942 783.2,941.6C788.1,941.2 794.2,939.6 797.9,940.4C801.6,941.2 804.6,944.3 805.2,946.5C805.8,948.7 804.4,952.4 801.6,953.8C798.7,955.3 792.8,954.2 788.1,955.1C783.4,955.9 777.9,957.6 773.4,958.7C768.9,959.9 764.4,961.4 761.2,961.8C757.9,962.2 755.5,961.9 753.8,961.2C752.2,960.5 750.6,959.7 751.4,957.5Z" fill="#d9d9d9"/><path d="M761.2,980.8C762,979 766.5,977.1 771,975.9C775.5,974.6 782.6,974.2 788.1,973.4C793.6,972.6 799.1,971.8 804,971C808.9,970.1 814.2,968.1 817.5,968.5C820.7,968.9 823,971.2 823.6,973.4C824.2,975.7 823.4,979.9 821.1,982C818.9,984 814.2,984.4 810.1,985.6C806,986.9 801.6,988.8 796.7,989.3C791.8,989.8 785.9,989.2 780.8,988.7C775.7,988.2 769.3,987.6 766.1,986.3C762.8,984.9 760.4,982.5 761.2,980.8Z" fill="#d9d9d9"/><path d="M822.4,1004C822.8,1002.2 825.4,998.8 828.5,996.7C831.5,994.5 836.6,992.6 840.7,991.2C844.8,989.7 849.3,989.2 852.9,988.1C856.6,987 859.7,986.1 862.7,984.4C865.8,982.8 869.3,978.3 871.3,978.3C873.3,978.3 875.2,982.3 875,984.4C874.8,986.6 872.7,988.9 870.1,991.2C867.4,993.4 862.9,996.3 859.1,997.9C855.2,999.5 850.9,999.8 846.8,1000.9C842.7,1002.1 838.1,1003.5 834.6,1004.6C831.1,1005.7 828.1,1007.8 826,1007.7C824,1007.6 821.9,1005.8 822.4,1004Z" fill="#d9d9d9"/><path d="M724.5,914.7C724.7,913.1 727.3,909.6 729.4,907.3C731.4,905.1 734.9,901.2 736.7,901.2C738.5,901.2 740.8,905.3 740.4,907.3C740,909.4 736.3,911.8 734.3,913.5C732.2,915.1 729.8,916.9 728.1,917.1C726.5,917.3 724.3,916.3 724.5,914.7Z" fill="#e0e0e0"/><path d="M782.7,878C785.5,874.5 793.8,872.4 799.3,873.8C804.8,875.2 813.8,882.1 815.9,886.3C818,890.4 815.2,895.9 811.8,898.7C808.3,901.5 800,903.6 795.2,902.9C790.3,902.2 784.8,898.7 782.7,894.6C780.6,890.4 779.9,881.4 782.7,878Z" fill="#e0e0e0"/><path d="M815.9,977.6C816.6,975.2 826.3,971.4 832.5,969.3C838.7,967.2 847.4,965.1 853.3,965.1C859.2,965.1 866.1,967.2 867.8,969.3C869.5,971.4 867.5,975.5 863.7,977.6C859.9,979.7 850.9,980.7 845,981.8C839.1,982.8 833.2,984.5 828.4,983.8C823.5,983.1 815.2,980 815.9,977.6Z" fill="#d9d9d9"/><path d="M773.4,924.5C774.8,922.4 779.9,919 783.2,918.4C786.5,917.7 791.8,919.2 793,920.8C794.2,922.4 792.6,926.3 790.5,928.1C788.5,930 783.4,931.4 780.8,931.8C778.1,932.2 775.9,931.8 774.6,930.6C773.4,929.4 772,926.5 773.4,924.5Z" fill="#ececec"/><path d="M840.7,798.6 L851.1,793.9 L859.1,790" fill="none" stroke="#d9d9d9" stroke-width="3" stroke-linecap="round"/><path d="M851.1,794.3 L854.8,801" fill="none" stroke="#d9d9d9" stroke-width="3" stroke-linecap="round"/><path d="M785.6,878.1 L793,874.4 L800.3,883 L812.6,887.9" fill="none" stroke="#d9d9d9" stroke-width="3" stroke-linecap="round"/><circle cx="925.1" cy="862.2" r="2.4" fill="#cfcfcf"/><circle cx="925.1" cy="868.3" r="2.4" fill="#cfcfcf"/><circle cx="910.4" cy="870.8" r="2.4" fill="#cfcfcf"/><circle cx="801.6" cy="835.3" r="3" fill="#cfcfcf"/><circle cx="817.5" cy="836.5" r="3" fill="#cfcfcf"/><circle cx="838.3" cy="829.2" r="2.4" fill="#cfcfcf"/><circle cx="851.7" cy="975.9" r="2.6" fill="#cfcfcf"/><circle cx="862.7" cy="974.6" r="2.6" fill="#cfcfcf"/><circle cx="854.2" cy="983.2" r="2.4" fill="#cfcfcf"/><circle cx="801.6" cy="995.4" r="3" fill="#cfcfcf"/><circle cx="786.9" cy="935.5" r="2.4" fill="#cfcfcf"/><circle cx="797.9" cy="935.5" r="2.4" fill="#cfcfcf"/></g><path d="M728.1,912.9h0M816.1,976.9h0M782.4,826.7h0M787.1,974.5h0M855.4,935.6h0M880.1,889.1h0M856.4,894.7h0M748,902.6h0M828.5,941.1h0M915.5,857.6h0M825.4,832h0M742.3,849.5h0M779.6,886.4h0M768,846.3h0M857.3,852.8h0M808.1,882.8h0M796.8,875.1h0M826.5,901.4h0M735.5,870.4h0M917.2,830.5h0M843.1,966.4h0M801.2,843.5h0M897.5,900.2h0M891.2,832.4h0M841.6,1000.4h0M762.8,850.4h0M774.8,887.2h0M909.8,832.9h0M891.3,917.4h0M823.1,912.3h0M820.5,811h0M794.8,838.1h0M848.5,891.9h0M904.7,854.5h0M914.7,851.9h0M760.4,863.6h0M847.8,836.7h0M914.7,890.1h0M869,884h0M773.9,830.9h0M770.6,859.5h0M749.4,893.1h0M880.2,902.6h0M776.4,955.5h0M864.2,936.4h0M839.1,897.2h0M822.4,854.1h0M822.7,861.4h0M817,855.5h0M847.3,953.3h0M871.1,858h0M828,870.6h0M808.6,831.8h0M732.7,870.2h0M804.2,869.4h0M867.4,984.8h0M777.8,849.7h0M828.3,924.2h0M824.3,916.3h0M871.4,861.8h0M884.6,819.7h0M841.1,923.2h0M878.6,887.4h0M894.8,906.1h0M915,845.8h0M833.9,836.2h0M803.5,868h0M818.1,805.8h0M789.1,855.6h0M806.6,850.2h0M833.4,999.2h0M759.3,960.6h0M834.6,951.1h0M759.8,849.4h0M803.1,985.5h0M859,931.4h0M802.2,826.1h0M847.5,935.6h0M812.4,857.3h0M759.3,955.2h0M815.9,975.5h0M930.7,896.4h0M755.7,843h0M850.6,961.6h0M816.4,939.9h0M864.7,902.7h0M824.6,834.5h0M817.6,815.2h0M842.7,935h0M855,989.2h0M808.6,970.5h0M875.9,863.8h0M798.7,818.4h0M770.9,827.8h0M810.5,853.1h0M871.2,918.7h0M811.5,847.3h0M913.3,833.4h0M826.3,958.2h0M796.2,826.2h0M761.2,865.2h0M780.6,952.5h0M819.1,965.1h0M886.2,913.3h0M915,832.5h0M756.1,903.8h0M798.9,883.3h0M898.2,937.2h0M875.5,958.2h0M769.5,837.1h0M893.3,890.7h0M835.1,934.1h0M879.9,936.1h0M867.4,850h0M823.8,931.7h0M798.9,807.5h0M798,853.3h0M827.3,918.7h0M914,898h0M798.7,982.1h0M804,850.8h0M890.4,856.9h0M874,850h0M904.1,871.2h0M768.5,825.7h0M724.6,897.8h0M762.7,890.7h0M848.5,976.9h0M792.7,864.8h0M722.4,861.1h0M859.1,944.8h0M785.5,887.8h0M763.1,828.4h0M819.7,943.9h0M871.2,933.5h0M860.3,862.9h0M911.9,857.3h0M861.7,944.1h0M757.3,837.3h0M831.6,919.8h0M760.2,834.8h0M859.5,882.4h0M736.4,866.3h0M741,900.9h0M829.4,933.2h0M888.4,916.7h0M812.9,829.3h0M751.9,903h0M762.8,900h0M774.4,839.4h0M795.2,825.8h0M902.6,951.6h0M862.1,904h0M801.8,831h0M790.2,951.5h0M779.9,821.8h0M853.2,959.2h0M742.8,859.6h0M782.1,848.5h0M852.5,938.1h0M863.2,898.2h0M849.2,903.1h0M903,829.9h0M927.8,891.8h0M804.9,894.5h0M821,835.5h0M842.5,974.5h0M815.2,829.4h0M837.9,906.1h0M834.5,916.7h0M853.6,885.4h0M790.7,952.4h0M819.9,931.4h0M807.4,953.1h0M787.3,987.6h0M908.2,848.5h0M806.4,883.7h0M797.8,848.9h0M780.9,847.2h0M876.1,870.1h0M777.4,978.7h0M766.8,894.6h0M874.4,919.9h0M807.5,813.9h0M835.1,860.3h0M787.8,844.8h0M879.9,941h0M772.1,981.3h0M867.2,835h0M759.5,861.7h0M852.5,952.7h0M818.7,945.6h0M904.1,858h0M867,894.6h0M885.7,972.3h0M869.4,914.7h0M724.8,873.7h0M760.4,863.3h0M886.7,942.5h0M822,819.9h0M827.2,874.9h0M737.2,902.6h0M873.2,850.3h0M917.8,847.7h0M834.9,829.6h0M838.7,887.7h0M797,838h0M865,973.5h0M879.1,929h0M830.2,937.4h0M879.7,893.4h0M851.2,882.2h0M832.3,916.9h0M838.3,924.5h0M812,811.2h0M888.7,961.5h0M858.6,841.9h0M847.2,971.7h0M773.7,837.5h0M782.5,946.2h0M807,872.8h0M847.7,884.3h0M830.4,875.8h0M927.7,894.7h0M779,851.7h0M795.3,825.1h0M859.5,851.5h0M873.8,965.3h0M899.1,814.8h0M835.5,917.2h0M944.9,875.4h0M834.7,934.9h0M910.1,896.2h0M766,850.4h0M818.4,845.9h0M899.8,936.4h0M780.6,867.9h0M880.7,926.5h0M854.8,989.2h0M894,816.5h0M817.6,818.1h0M831.8,824.9h0M835.2,819.7h0M834.1,997.1h0M778.2,834h0M809.8,865h0M806.4,885.2h0M804.2,848h0M829.2,843.7h0M840.3,894.6h0M883.8,893.8h0M795,878.8h0M889.5,855.4h0M770.5,978.5h0M869,984h0M802.9,804.7h0M801.8,951.8h0M858.2,896.8h0M919.9,886.3h0M932.6,891.8h0M898.3,919.2h0M880.2,951.4h0M775.6,863.9h0M837.7,887.4h0M812.2,919.3h0M850.3,971.2h0M878.5,943.5h0M791.1,980.1h0M807.9,802.2h0M817.5,944.4h0M834.1,999.6h0M859.4,914h0M722.5,868.3h0M771.8,958.3h0M906.9,860.6h0M830.1,827.8h0M834,912.9h0M836.7,875.7h0M810.9,839.8h0M897.5,828.8h0M795.5,973.3h0M945.1,885.6h0M893.4,944.3h0M796.1,825.9h0M878.2,959h0M768,838.6h0M814.7,928h0M793.9,842h0M777.8,949.3h0M862.6,991.7h0M912.3,850.2h0M880.9,917.6h0M892.2,960h0M856.9,921.9h0M894.6,832.5h0M723.4,860.5h0M790.2,891.4h0M904.7,864.2h0M877.7,960.6h0M813.2,972.7h0M883,965.4h0M794.7,809.5h0M860.8,976.3h0M763.3,844.3h0M744.7,855.5h0M891.1,923.7h0M838,924.5h0M727.8,900.1h0M823.7,870.2h0M810.7,857.2h0M894,908.6h0M759.4,949.8h0M867.5,853h0M911.1,895.1h0M837,841h0M869.9,840.3h0M936.4,879.2h0M869.1,950.5h0M723.4,898.5h0M878.2,952h0M872.4,947.2h0M868.5,958.2h0M775.7,828.8h0M761.8,889.4h0M859.7,909.4h0M820.4,950.4h0M778.5,849.9h0M772.1,851.6h0M859.5,947.9h0M902.4,834.1h0M821.2,955.2h0M856.7,940.5h0M873.1,920.3h0M840.8,819.5h0M909,857.8h0M901.2,844.3h0M919.1,846.7h0M819.6,820.5h0M887.9,815.6h0M829.9,833.2h0M820.1,821h0M825.2,955.9h0M823.3,864.9h0M830.4,834.6h0M873.2,908.2h0M861.2,938.2h0M819.8,825.9h0M810.5,944.4h0M790.4,884.5h0M887.9,825.3h0M873.4,907.8h0M773.9,847h0M841,944h0M895.3,932.3h0M906.4,846.2h0M875.8,963.7h0M765.6,842.3h0M811.5,887.6h0M886.1,891.2h0M901.5,861.2h0M857.2,838.6h0M843.7,954.6h0M840.6,865.4h0M829.7,851.9h0M806.3,952.7h0M907.8,845.9h0M875.9,919.3h0M770.2,851.9h0M843.3,954.4h0M891.1,843.6h0M775.2,829.6h0M908.6,863.1h0M929.3,896.6h0M765.5,865h0M888.1,964.5h0M843,978.3h0M816.4,869.4h0M893.5,823.5h0M772,851.1h0M753.2,958.8h0M803.7,872.6h0M805.2,979.7h0M879.2,938.5h0M909.1,845h0M759.6,896.7h0M760.4,861.4h0M835.1,942.1h0M850.3,969.9h0M860.5,852h0M815.1,907.9h0M888,951.3h0M820.7,814h0M901.6,848.9h0M785.8,830.6h0M755.9,900.5h0M798.5,888.5h0M940.1,883.4h0M857.5,944h0M810.6,835.1h0M829.9,904.1h0M829.2,868.2h0M862.3,967.9h0M802.6,880.3h0M887.1,933.6h0M842.6,944.8h0M850.2,826.3h0M805.8,946.9h0M863.8,864.6h0M735.7,855.9h0M845.2,957.9h0M835,869h0M923.7,892.6h0M880.5,958.8h0M881,916.9h0M827.6,903.5h0M900.5,924.7h0M857.4,976.4h0M811.3,948.4h0M777.6,827.5h0M865.8,938.8h0M891.5,916.3h0M853.6,918.3h0M770.5,976.3h0M733.1,900h0M730.5,868h0M872.2,888.2h0M838,1001.1h0M886.6,889.3h0M818.3,940.5h0M882.1,889.8h0M835.6,902.5h0M913.6,899.2h0M830.7,869.2h0M837.6,924.4h0M830.6,955.8h0M823,873.7h0M893.3,840.6h0M868.8,947.6h0M911.1,845.4h0M894.3,902.3h0M858.8,851.2h0M866.1,836.5h0M878.6,929.4h0M856.5,921.4h0M860.5,907.2h0M763.2,863.5h0M770.1,983.4h0M856.8,878h0M732.7,896.6h0M818.1,906.7h0M792.1,980.9h0M800.2,883.4h0M875.6,941.3h0M824.3,978h0M880.6,943.7h0M828.1,838.5h0M871.3,947.6h0M852.9,843.9h0M776.9,981.1h0M794.1,809.5h0M863.1,984.6h0M809,844.3h0M837.5,905.3h0M799.2,841.1h0M893,939.8h0M836.7,968.1h0M854.7,842.9h0M860.4,932.7h0M807,827.8h0M854.4,836.8h0M852.5,913.3h0M870.8,947.1h0M847.7,956.3h0M731,850.6h0M785,896.5h0M942.8,881.3h0M838,892h0M829,834.2h0M827.5,823.8h0M888.2,955.2h0M835.3,886.3h0M898.8,856.3h0M820.1,962.8h0M850.2,886.6h0M785.4,952.5h0M803.9,822.9h0M814.2,850.4h0M756.7,891.2h0M856.4,860.8h0M807.8,888.5h0M828.8,863.7h0M852,841.6h0M792.3,981.7h0M767.1,850.7h0M855.5,905.9h0M847.4,973.8h0M825.4,962.1h0M743.9,903.5h0M856.6,847.3h0M871.4,906.2h0M856.5,922.7h0M726.4,914.3h0M833.3,1001h0M847,999.2h0M792.4,829.3h0M912.6,845.4h0M884.3,943.1h0M826.7,974.4h0M812.3,893.9h0M763.5,866.6h0M774.1,851.9h0M835.5,964.1h0M781.9,893.1h0M801.4,818.6h0M839.7,923.3h0M797.8,887h0M845.7,888.7h0M850.8,840.5h0M876.9,946.6h0M873.6,844.4h0M894.2,932.6h0M821.4,846.2h0M823.3,952.4h0M735,868.6h0M784.7,954.1h0M902.5,864.3h0M902.8,843h0M859.5,955.3h0M787.7,870.5h0M792.5,865.6h0M801.8,821.3h0M828.9,867.5h0M843.9,978.5h0M834.6,941.4h0M756.9,951.4h0M778.5,820.9h0M865.7,984.4h0M827.6,1000.1h0M789.3,945.6h0M827.9,973.7h0M891.9,928.3h0M858.8,974.2h0M894.9,841.2h0M855.8,823.9h0M833.2,903.1h0M838.1,971.4h0M929,887.4h0M792.1,863.9h0M785.4,955.4h0M874,924.5h0M899.2,921h0M818.1,918.4h0M807.8,888.9h0M826.3,866.2h0M888.8,896h0M892.6,821.8h0M755.4,953.4h0M865.8,935.4h0M850.1,832.6h0M841.3,945h0M799.9,948.7h0M880.4,914.5h0M887.7,890.3h0M772.1,859.1h0M774,981.5h0M870.7,945h0M874.3,907.3h0M789.8,824.4h0M810.6,822.9h0M847.9,916.5h0M825.2,973.7h0M798.3,947.6h0M910.2,862.1h0M812.6,917.6h0M905.7,944.7h0M832.3,982h0M775.3,893.5h0M849.7,892.8h0M796.4,822.8h0M882.3,952.1h0M826,857.9h0M826.5,930.6h0M832.1,833.7h0M857.4,976.6h0M774.2,975.6h0M819.8,835.7h0M857.8,889.4h0M898.6,926.8h0M791.1,864.5h0M909.1,835.6h0M899.6,899h0M881.4,929.1h0M873,985.6h0M726.3,862.4h0M841.5,934.2h0M841,887.7h0M885,826.1h0M867.7,863.8h0M897.7,844.8h0M901.8,869h0M892.8,930.5h0M808.7,854.2h0M805.5,840.1h0M775,848.6h0M813.6,874.2h0M894.6,903.4h0M835.3,918.5h0M804.5,810.1h0M902.3,832.8h0M752.3,848.2h0M946.6,882h0M765.3,951.1h0M833.9,1001.9h0M827.5,912.1h0M736.3,901.5h0M752.9,892.7h0M835,911.6h0M833.3,970.1h0M802.2,882.9h0M765.7,854.6h0M829.5,851.7h0M747.7,900.7h0M855.6,896.2h0M932.2,894.2h0M798.7,952.7h0M839,913.7h0M855,893.1h0M866,983.7h0M839.3,820.1h0M901.3,904.9h0M820.4,945.2h0M880.2,923.8h0M764.3,851.4h0M848.6,997h0M826.1,1001.1h0M854,835h0M747.3,897h0M844.8,993.5h0M887.5,896.2h0M815.1,952.2h0M786.4,813.9h0M837.8,951.2h0M871.9,939.1h0M843.2,933.7h0M825,1005.6h0M841.4,900.3h0M746.5,852.3h0M797.8,953.7h0M780.2,942.3h0M873.1,889.4h0M768.5,849.1h0M874.2,892h0M773.1,841.2h0M863.9,931.3h0M779.2,977.8h0M871.9,917.1h0M914.5,839.7h0M887.1,904.3h0M828.2,1001.9h0M860.8,916.5h0M875,909.9h0M918.8,899.7h0M764.8,949.4h0M900.9,927h0M836.9,913.7h0M813,946.8h0M900.3,914.5h0M838.5,954.9h0M785.5,985.7h0M814.9,844.2h0M875.5,903.5h0M936.2,892.8h0M840,937.5h0M861.8,835.3h0M885.9,973.3h0M814.2,857.2h0M896.1,963.3h0M799.4,813.6h0M853.3,977h0M846.4,952.2h0M774.9,840.4h0M893.7,942.5h0M834.7,906.7h0M853.3,941.6h0M761.4,897.8h0M773.7,976.3h0M942.9,876.8h0M855.2,946.9h0M850.8,824.6h0M787.5,887.7h0M836.6,981.9h0M857.1,990.9h0M778.7,835.6h0M785.9,809.6h0M792.6,815h0M876.5,942.9h0M855.8,922.5h0M739.9,852h0M813.9,872.1h0M795.1,834h0M776,948.2h0M897.3,834.5h0M805.3,972.2h0M909.6,869h0M836.8,963h0M889.7,945.4h0M846.8,886.1h0M808.5,843.7h0M824.1,981h0M862.3,938.7h0M855.2,926.4h0M891.6,941.7h0M866.3,912.5h0M795.6,840.9h0M811.2,815.3h0M861,851.4h0M878.2,891.9h0M826.9,822.4h0M887.8,893.7h0M841.5,919h0M742.8,896h0M805.1,824.7h0M888.8,923h0M834.9,980.6h0M942.7,884.3h0M787.5,981.6h0M764.6,821.8h0M893.8,921.5h0M910.8,869.3h0M895.8,894.3h0M887.8,842.4h0M881.3,965.8h0M938,890.6h0M889.4,948h0M848.6,910.1h0M831,979.5h0M753.5,901.7h0M897.5,932h0M916.2,893.1h0M766.2,832.6h0M738,863.2h0M815.1,936.5h0M894.2,969.8h0M827.3,983.1h0M878.3,943h0M889.7,960.7h0M838.6,875.1h0M785.2,944.1h0M800.7,887.4h0M834.8,843.2h0M821.8,935.9h0M847.2,994.6h0M787.6,850.3h0M890.9,824.5h0M750.1,885.1h0M874,904.3h0M796.1,890.3h0M907.4,836.3h0M903.3,820.4h0M767.6,861.7h0M824.3,839.3h0M896,852.8h0M833.4,874.5h0M848.6,965.1h0M827.5,969.2h0M845.9,923.4h0M913.1,893.6h0M845.1,895.2h0M810.2,831.7h0M818.5,818.2h0M907,926h0M892,939.1h0M882,962.6h0M893.5,889.2h0M835.9,1001.8h0M898.4,946h0M803.1,949.9h0M751.6,895.4h0M847.3,930.5h0M823.8,859.2h0M759.3,864.9h0M739.6,868.8h0M888.6,886.5h0M840.2,826.9h0M852.4,931.4h0M900.7,856.2h0M840.9,981h0M858.3,884.5h0M811.5,952.4h0M817.1,927h0M814.1,950.9h0M826.7,968.3h0M784.3,836.1h0M774.1,952.9h0M766.7,959.6h0M855.1,854.6h0M826.4,858.7h0M876.8,932.8h0M765.8,856.9h0M866.1,851.7h0M872,945.8h0M814.3,983.3h0M848.2,881h0M801.8,944.6h0M934.4,885.3h0M827.1,892.1h0M733.4,860.1h0M782.4,841.9h0M834,898.7h0M811.3,963.6h0M841.1,954h0M885,948.6h0M826.7,952.3h0M770.2,891.8h0M748.9,903.4h0M768.5,954.5h0M897.8,864.6h0M737.5,890h0M807.5,827.5h0M902.3,910.4h0M924.8,884.8h0M818.5,964.3h0M833.5,922.8h0M852,917.9h0M851.4,999.4h0M895.3,834.2h0M757.8,848.7h0M774.7,900.3h0M872.6,915h0M823.4,840.1h0M917.8,887.8h0M787.8,848.8h0M843.4,916h0M928.1,887.4h0M818.6,830.3h0M839.5,1002.9h0M845.2,965h0M797.9,882.2h0M883,919.8h0M853.4,996.9h0M822,831.8h0M755.7,852.9h0M864.7,913.8h0M752,844.8h0M806.2,952.5h0M848.3,832.4h0M841.6,915.8h0M838.1,872.2h0M813.9,921.1h0M802.6,844.3h0M865.1,991.7h0M856.8,882.9h0M835.7,974.9h0M754.6,886.5h0M818.1,851.3h0M874.7,951.2h0M827.9,943.5h0M857.2,928.1h0M821.4,852.1h0M871.5,963.2h0M931.8,880.7h0M814,842.8h0M909.3,857.5h0M774,837.6h0M896.5,946.1h0M840.1,823.1h0M904.7,837.9h0M895.4,941.7h0M852.8,911.1h0M794.7,877.8h0M881.6,906.1h0M808.6,806.6h0M763.7,898.6h0M890.3,895.9h0M766.3,828.6h0M865.4,972.5h0M878.1,867.4h0M890.4,901.6h0M827.6,859.8h0M834.7,942.4h0M809.8,870.4h0M806.4,897.1h0M766.8,861.6h0M834.9,892h0M779,858.6h0M806.3,941.5h0M757.1,892.8h0M776.4,953.1h0M787.5,893.6h0M856.5,927.8h0M893.6,944.7h0M890.2,889.4h0M889.4,848.6h0M761.7,824.8h0M838.8,835.2h0M843.6,993.9h0M817.6,833.1h0M835.2,818.7h0M754.4,856.3h0M822.3,923.2h0M745.2,900.8h0M791.3,807h0M894.6,972.6h0M737.7,903.9h0M896.5,934.6h0M898.9,823.7h0M761.9,959h0M932.2,885.6h0M804.7,803.5h0M769.9,980.3h0M901.4,838.2h0M792.2,942.2h0M904.9,862.7h0M859.3,935h0M774,954.1h0M810.1,805.7h0M858.8,911.9h0M765.1,839.9h0M792.3,828h0M832.3,905.4h0M798.3,823.9h0M932.7,887.5h0M816,976.7h0M760.6,900.1h0M886.2,929.2h0M857.7,933.8h0M777.9,849.8h0M902.4,840h0M888.8,844.7h0M821.7,876h0M843.2,895.8h0M811.6,971.9h0M859.8,854.8h0M811.9,984.5h0M785.7,886.9h0M844.8,898h0M820.3,810.7h0M769.5,826.5h0M766.4,886.8h0M776.6,887.1h0M786.6,883.5h0M790.2,806.8h0M778.5,834.4h0M863.6,889.7h0M888.4,915.8h0M857.7,827h0M835.4,832.9h0M906.2,835.7h0M872.9,943.5h0M772.6,943.1h0M798.1,976.1h0M832,876.9h0M908.4,834.3h0M819,828h0M728,916.6h0M922.7,831.7h0M816.9,839.5h0M861.3,989.2h0M854.6,885.4h0M881.5,892h0M833.1,859.7h0M744,900.9h0M825.2,896.2h0M828.5,861.7h0M831.7,998.6h0M845.6,970.3h0M764.9,888.9h0M789,945.4h0M896.7,937.7h0M853.5,931h0M900.1,826.2h0M840.8,946.2h0M789,857.3h0M895.3,859.5h0M854.3,853.5h0M752.9,897.5h0M804.2,836h0M839.5,870.7h0M828.5,930.5h0M893.8,934h0M861.3,917.5h0M796.1,952.9h0M867.2,900.5h0M885.6,897.7h0M885.9,887.1h0M887.6,964.2h0M833.4,911.1h0M834.4,856.8h0M780.6,944.9h0M791.5,973.1h0M870,931.6h0M849.7,935.4h0M764.7,836h0M805.2,983h0M857,902h0M816.3,920.3h0M863.3,929.5h0M840.2,959.9h0M860.7,879.5h0M873.8,893.1h0M874.4,938.7h0M801.2,844.6h0M775.7,846.7h0M761.8,958.5h0M761,824.1h0M808.4,960.7h0M791.8,833.4h0M809.7,951.6h0M761,864.3h0M914.3,839h0M886.1,822.2h0M786.3,811.4h0M902.3,916h0M831.3,868.8h0M834.6,904.8h0M761.4,896.6h0M888.9,889.6h0M825.5,1001.3h0M852.4,973h0M888.7,816.5h0M766.9,892h0M816.6,844.9h0M810.2,882.4h0M835.7,830.6h0M901.7,923.3h0M857.5,849h0M831,915.8h0M734.6,905.6h0M897.3,826.4h0M880.9,923.5h0M904.8,847.7h0M859,878.6h0M911.7,840.5h0M759.6,836.5h0M785.1,862h0M822.4,825.7h0M815,924.7h0M806.7,862.3h0M872.1,986.8h0M816.8,936.8h0M914.2,839.5h0M863.8,861.1h0M759.5,831.5h0M788.7,832.2h0M750.5,889.8h0M768.1,843.6h0M768.6,830.1h0M869.5,853.5h0M768.7,825.9h0M743.7,865.2h0M783.8,983.2h0M837.2,982.2h0M891.8,914.5h0M854.3,934.7h0M888.3,834.9h0M828.9,938h0M785.3,861h0M880.9,942.5h0M873.3,956.7h0M884.3,937.6h0M782.9,840.6h0M770.7,847.9h0M828.6,921.8h0M884.3,827.1h0M764.8,894h0M867.4,963.7h0M828.8,814.6h0M817.3,951.4h0M774.2,840h0M884.2,890.8h0M909,844h0M839.8,965.3h0M819.2,914h0M853.3,885.5h0M828.1,863.9h0M813.7,804.7h0M923.2,890.2h0M772.4,844.9h0M824.5,813.7h0M876.9,888.8h0M844.9,902.9h0M722.7,897.2h0M765.6,898.5h0M805.6,941.3h0M865,925.6h0M848.3,941.9h0M769.1,867.2h0M845.7,932.4h0M813.5,884.9h0M811.5,922.9h0M792.8,981.3h0M885.3,948.2h0M846.7,949.3h0M793.9,863.9h0M766.4,959.2h0M741.5,895.1h0M853.6,842h0M840.4,893h0M813.1,952.1h0M836.3,815.3h0M826.2,932.5h0M887,886.3h0M897.7,858.4h0M730.1,856.7h0M732,872h0M755.2,848.8h0M863.3,861.7h0M868.2,884.3h0M844.8,990.6h0M819.6,957.5h0M835.2,836.3h0M814.6,814.4h0M783.9,824.6h0M810.3,832.7h0M809.9,964h0M819.4,812.9h0M790.1,846.1h0M831.4,814.1h0M897.3,846.6h0M780.6,829h0M830.4,914h0M883.1,892.5h0M825.3,828.3h0M860.6,857.7h0M831.2,969.5h0M805.1,951.4h0M880.8,962.8h0M825.2,912.2h0M747,858.4h0M786.1,864.9h0M860.7,897.6h0M925.6,902h0M858.3,905.4h0M738.6,893.3h0M765.8,853.3h0M769.4,843.1h0M745.4,855.5h0M792.8,856.4h0M791.6,895h0M779.7,850.3h0M859.7,952.3h0M892.2,963.3h0M816.6,904.2h0M831.9,975.6h0M859.6,851.7h0M889.4,921.3h0M905.4,943.5h0M734,889.3h0M793.8,870.8h0M898.5,906.6h0M889.8,829.5h0M782.6,855.1h0M904.7,935.4h0M730.9,896.7h0M824.7,832.1h0M814.9,912.1h0M855.7,957.6h0M821.3,962.5h0M843.5,825.6h0M857.8,834.8h0M790.4,849.3h0M859.8,952.8h0M739.5,888.4h0M766.8,985h0M827.8,977.7h0M860.4,959.1h0M867.1,885.2h0M790.1,865.2h0M858.3,829h0M823.9,818h0M728.5,860.4h0M853.8,976.5h0M821.3,836.2h0M777.4,836.2h0M818.1,833.4h0M832.7,932.8h0M802.6,891.8h0M860.7,853.5h0M852.7,829h0M819.6,921h0M810.5,820.9h0M846.5,971.4h0M897.3,960.3h0M724.8,863.3h0M807.6,807.5h0M904.9,930.9h0M828.6,856.3h0M817,824.6h0M829.9,872.2h0M835,920.2h0M904.4,904.6h0M846,946.8h0M931.6,885.1h0M839.8,962.1h0M755.9,902.4h0M818.7,823.2h0M821.3,975.3h0M855.9,911h0M790.9,950h0M830.3,964.5h0M864.1,846h0M792.8,809.6h0M817.1,938.8h0M759.8,902h0M831.9,953.1h0M908.9,866.6h0M892.1,969.6h0M940.6,885.9h0M772.4,840.7h0M863.9,911.4h0M795.2,863.2h0M855.5,894.2h0M829.8,871.2h0M849.4,912h0M791.2,805.7h0M869.1,963.1h0M797.2,842.2h0M842.9,913.2h0M896.6,862.5h0M904.8,942.9h0M851.3,931.8h0M813.9,984.2h0M803.4,841.6h0M839.2,901.1h0M809.8,982.7h0M887.1,821.6h0M901.3,866.5h0M866.1,893.5h0M878.7,886.7h0M843.7,818.8h0M778,870.9h0M868.4,861.8h0M873.1,855.5h0M873.4,938.3h0M794.9,951.2h0M845.8,933.1h0M867.5,969.3h0M830.5,869.9h0M774.4,978.2h0M934.9,891.8h0M865.6,862.2h0M894.9,856.9h0M812.5,807.2h0M793.2,866.7h0M823.7,915.2h0M895.2,842h0M906.4,922.6h0M872.9,922.3h0M837.9,919.9h0M851.6,918.2h0M807.5,834.9h0M865.9,920.7h0M786.9,889.4h0M807.9,853.5h0M794.6,855.5h0M881.5,896.8h0M848.5,903.6h0M871,988.1h0M818,819h0M824.9,864.3h0M817.5,858.4h0M785.5,830.8h0M844.3,935.3h0M812,973.2h0M835.6,980.9h0M755.2,849h0M901.8,917.3h0M823.9,845.9h0M794.8,985.3h0M851.1,903.8h0M823.9,980.4h0M821.7,928.3h0M838.4,898.6h0M803,974.2h0M863.8,897.1h0M896.3,890.5h0M809.2,945h0M848,951.3h0M888.5,818.2h0M793.4,887.3h0M875.9,937.7h0M846.4,887.9h0M898.2,950.3h0M827.5,914h0M828.4,997.7h0M786.1,982.8h0M877.1,927h0M786.8,857.7h0M781.3,837.3h0M802.3,816.3h0M814.2,825.6h0M820.8,911.4h0M812.4,921.1h0M748.7,899h0M893.8,905.4h0M872.2,842.8h0M817.7,932.2h0M759,829.7h0M797.9,868.4h0M832.9,929.6h0M845.8,884.2h0M766.4,885.1h0M801,890.5h0M846.6,963.6h0M881.1,965h0M834.6,871.2h0M904.8,838.2h0M832.1,873.5h0M885.2,931.4h0M906.6,861.1h0M825,968.3h0M845.5,962.9h0M850.4,924.3h0M843.1,959.8h0M900.6,921.6h0M785.4,887.9h0M828,898.4h0M785.9,846.2h0M897.6,944.4h0M825.5,900.8h0M742.6,863.5h0M826.8,828h0M900.3,924.4h0M754.1,855.8h0M916.4,890.5h0M869,898.5h0M833.1,946.1h0M855.7,857.6h0M790.3,859.9h0M822.7,872.1h0M946.3,878.7h0M843.3,937.2h0M794.7,984.5h0M857.8,971.5h0M826.7,927.4h0M840.2,817.5h0M812.4,853h0M787.7,807.6h0M871.3,904.2h0M865,956.4h0M916.3,830.5h0M741.7,863h0M824.9,862.7h0M739.6,864h0M838.5,816h0M834.1,952.7h0M939.8,884.8h0M840.4,981.3h0M864.1,917.4h0M767.2,859h0M920.8,846.9h0M774.6,844.9h0M849.3,921.3h0M869.8,918h0M839.4,974.2h0M736.5,860.2h0M824,835.2h0M818.4,903.3h0M765.9,832.5h0M809.1,814.7h0M904.5,905.9h0M884.5,895.9h0M755.6,841.2h0M798.1,811.5h0M740.3,900.8h0M762.6,842.7h0M723,868.1h0M810.1,864.1h0M927.8,896.1h0M914.2,841.5h0M898.9,819.4h0M815.1,824.1h0M753.1,886.1h0M842.9,955.2h0M867.6,937h0M880.2,894.4h0M788.4,889.4h0M781.7,954.3h0M848.1,893.3h0M807.4,861.3h0M894.6,942.5h0M823,865.1h0" stroke="#c9c9c9" stroke-width="2.4" stroke-linecap="round" fill="none" filter="url(#bl2)"/><path d="M791,828.2h0M892.4,858.3h0M739.5,887h0M877.1,963.2h0M883.8,925.8h0M824.1,979.8h0M885.4,937.4h0M822.3,915.9h0M882.6,908.4h0M801.7,831.7h0M895,844.9h0M774.8,947.4h0M759.2,840h0M829.9,938.7h0M907.3,868.2h0M911.6,827.2h0M824.5,923.3h0M835.4,912h0M839.6,917.2h0M772.1,855.9h0M836.9,918.6h0M938.1,892.5h0M836.4,907.7h0M750.4,889.9h0M816.3,810.9h0M823.4,869.6h0M899.9,858.8h0M836.7,946.3h0M795.7,978.1h0M805.4,899.4h0M786.1,846.2h0M842.3,960.1h0M807.4,866.7h0M866.8,956.4h0M836.1,978.7h0M800.2,818.1h0M849.6,933.1h0M835.7,912.7h0M829.8,945.4h0M895.8,862h0M777.2,942.8h0M824.7,975.4h0M855.4,826.2h0M796,864.5h0M803.1,881.4h0M772.3,853.5h0M893.1,894.2h0M834.3,843.4h0M769.8,851.8h0M813.2,886.1h0M840.6,945.1h0M890.4,937.4h0M905.6,846.2h0M825.2,1006h0M768.7,849.4h0M794.5,887.5h0M900.1,859.9h0M814.3,941.4h0M812.7,973.6h0M864.2,852.7h0M828.8,1005.5h0M768.5,886.7h0M878.5,959.6h0M851.7,877.1h0M828.7,975.2h0M788,839.7h0M746.5,857.3h0M832.6,972.1h0M941.5,880.3h0M740.8,849.4h0M859.9,916h0M786.6,887.4h0M893.4,966.1h0M913.7,837.6h0M726.4,872.2h0M820.6,833.9h0M864,890.1h0M857.3,839.9h0M828.7,824.6h0M869.6,986.7h0M871.4,892.6h0M893.4,849.7h0M862,906.5h0M848.4,890.9h0M769,958.7h0M896.5,866.9h0M883.2,941.4h0M827.4,979.7h0M924.4,891.2h0M868.5,948.3h0M800.9,974.9h0M835.9,982.3h0M832.7,903.1h0M918,852.3h0M780.9,842.2h0M834.6,819.2h0M884.3,968.1h0M761.5,852.9h0M825.2,911.9h0M791.7,829.2h0M819.7,965.2h0M741.5,896.6h0M771.9,866.8h0M892.2,817.4h0M811.2,958h0M817.5,921.3h0M815.3,845.3h0M845.3,952.8h0M840.4,885.3h0M814.6,887.5h0M763,823.4h0M847.1,822.5h0M817.1,935.2h0M906,825.9h0M759.3,947.4h0M895.5,891.5h0M832.8,904.6h0M920.2,898h0M803.7,887.1h0M862.4,945.2h0M837.7,901.6h0M828.6,910.6h0M856.6,934.7h0M862.2,939.8h0M864.2,932.9h0M876.8,895.7h0M802.2,976h0M817.7,936.2h0M813.1,817.4h0M889.8,848.3h0M903.5,952h0M892.4,813.5h0M887.3,896.3h0M881.2,927.4h0M775.8,888h0M853,855.2h0M909.3,839.1h0M761.6,851h0M903,846.2h0M840.5,899.8h0M851.1,883.5h0M906.8,829.4h0M927.7,895.8h0M851.1,935.9h0M822.1,830.1h0M887.4,937.3h0M769.6,826.5h0M821.8,816.3h0M823.1,869.8h0M756.5,890.8h0M886.9,973.5h0M840,893.1h0M833.7,907.9h0M854.1,910h0M740.8,903.6h0M807.2,887.5h0M793.8,890.8h0M772.3,887.9h0M727.3,890.3h0M870.4,853.5h0M781.9,862.2h0M777.1,897.6h0M846.6,979.7h0M887.6,896.4h0M770.6,843.7h0M807,891.8h0M798.1,943.6h0M839.4,957.5h0M899.9,899.6h0M856.5,904.5h0M853,886.9h0M806.1,865.8h0M851.2,904.4h0M903.4,913.5h0M839.4,908.8h0M803.6,883.2h0M853.5,988.6h0M831.7,891.8h0M906.9,862.5h0M871.7,911.9h0M799.6,836h0M820.8,979h0M802,849.2h0M813.1,940h0M869.6,834.5h0M897.4,814h0M808.4,959.5h0M884.6,889.2h0M797.9,860.9h0M793.4,974.4h0M900.1,832.2h0M859.7,896.5h0M780.2,838.4h0M871.1,933.1h0M784.1,835.9h0M791.7,835.6h0M851.7,933.2h0M819.9,837h0M816.4,857.3h0M819.7,941.5h0M783.9,892.5h0M790.9,896.3h0M855.2,886.6h0M847,819.7h0M808,832.7h0M886.9,888.7h0M865.3,986.9h0M844.6,946.7h0M795.6,828.2h0M800.2,897.9h0M778.2,855.1h0M850.2,964.6h0M903.6,934.3h0M800.7,856.9h0M900.8,957.7h0M794.3,866.1h0M785.4,862.9h0M809.9,839.1h0M759.2,956.5h0M763.1,866.9h0M815.8,913.5h0M848.7,939.6h0M774.5,951.5h0M904,863h0M754.4,957.3h0M904.5,848.4h0M851.1,885.2h0M852.4,829.5h0M873.3,914.7h0M837.5,925.3h0M841.6,929.8h0M863.1,853.3h0M828.3,953.7h0M841,911h0M769.7,832.9h0M825.1,935.9h0M815.8,969.3h0M812,937.6h0M798.1,879.8h0M792.4,810.6h0M837.9,976.4h0M848.5,964.2h0M814.5,923.5h0M786.1,985.7h0M826.1,902.6h0M782.9,951.3h0M858,895h0M859.1,834.6h0M874.7,851.7h0M783.4,846.2h0M870.2,844.1h0M733.4,897.2h0M782.7,871.5h0M744.9,854.7h0M921.4,845h0M847.9,968.4h0M838.3,816.4h0M798.2,877.4h0M827,831.1h0M770,986.7h0M854.6,846.5h0M764.9,867.8h0M829.9,904.4h0M869.1,838.8h0M797.3,830.7h0M857.6,890.8h0M906.9,850.4h0M756,854.7h0M800.6,844.3h0M840.5,943.8h0M834.5,875h0M791.3,825.1h0M808.1,959.4h0M796.8,825.8h0M776.7,839.9h0M822.6,979.2h0M899.3,898.4h0M867.5,852.1h0M847.1,960.8h0M795.4,881.4h0M797.4,835.9h0M842.9,909.7h0M835.5,982.4h0M854.5,883.8h0M778.5,980.9h0M919.6,828.3h0M898.5,905.1h0M886,949.8h0M821.4,917.1h0M816,808.9h0M823.5,945.2h0M727.7,866.1h0M760,895.4h0M899.3,817.8h0M887.5,836.1h0M849,975.7h0M865,925.8h0M824.5,821.9h0M798.1,815.7h0M811.8,929.4h0M922.5,889.8h0M842.7,938h0M944.5,884.7h0M754.1,891.4h0M882.7,959.1h0M870.8,925h0M785.8,885h0M917.2,844.8h0M890.7,825.4h0M800.3,898.2h0M765.6,958.7h0M769.9,832.5h0M827.6,957.9h0M755.4,844.9h0M897.2,923.3h0M829.3,907.6h0M865.3,842.6h0M824.1,844.8h0M803.5,830.7h0M774.5,894.9h0M840.6,922.9h0M811.9,806.3h0M782.4,858.6h0M927.6,887.4h0M856.6,971.2h0M852.6,834.9h0M879.5,951h0M870.5,934.6h0M776.3,951.4h0M757.8,950.7h0M869.9,947.1h0M889.1,911.4h0M736.2,895.3h0M742.2,897.5h0M785,810.1h0M722.8,858.4h0M739.2,852.1h0M828.2,1005.4h0M782.2,897.4h0M756.9,887.1h0M861.6,992.9h0M791.8,981.7h0M937.4,885.3h0M892,961.1h0M823.9,869.6h0M787.9,987.3h0M857.7,890.1h0M817.3,815.3h0M799.2,843.9h0M910.4,843.2h0M805.1,951.2h0M893.1,836.1h0M837.7,1000.2h0M795.1,952.7h0M769.3,851.2h0M856.4,953.6h0M745.5,896.2h0M750.3,885.2h0M875.7,956.7h0M843,999.5h0M779,868.1h0M893.4,953.4h0M758.2,959.6h0M806.4,815.5h0M898.4,926.3h0M862.3,942.9h0M773.3,846.2h0M853.9,894.3h0M877.3,920.4h0M899.4,852.7h0M832.2,855.5h0M899.2,827.8h0M853.3,994.6h0M927.8,892.2h0M774.2,955.7h0M734.4,903.6h0M852.9,972.9h0M828.2,821.1h0M826.1,898.2h0M906.5,850h0M902.8,933.8h0M825.8,976h0M741,857.5h0M861.2,861.1h0M848.3,840.3h0M877.3,945.5h0M760.7,834.4h0M838.9,866.2h0M910.2,830.2h0M918.7,894.6h0M895.6,952.7h0M793.7,853.6h0M727.6,914.5h0M877.5,904h0M830.9,823h0M884.4,922.2h0M790.5,806.8h0M720.6,872.8h0M836,887.1h0M885.9,966.8h0M906.1,939h0M841.2,942.4h0M816.8,837.3h0M803.7,821.3h0M900.3,868.2h0M719.1,866.6h0M885.5,908.5h0M833.4,876.8h0M799.4,868.8h0M802.3,820.2h0M811.5,846.2h0M863.3,832.8h0M743.5,901.3h0M743.7,862.9h0M846.5,930.7h0M820,977.6h0M909,856.8h0M884.8,897.1h0M824,838.3h0M917.8,849.5h0M898.4,958.9h0M773.5,977.8h0M904.3,859.3h0M913.8,891.1h0M844.4,891.7h0M905.3,862.4h0M932.8,884.7h0M849.9,896.5h0M866.8,934h0M870.7,939.5h0M794.2,823.2h0M818.8,845.2h0M839.4,825.1h0M895.5,816.5h0M812.1,926.5h0M883.4,924.3h0M837.2,905.9h0M803.5,885.7h0M758.5,896.8h0M736.1,899.6h0M884,957.9h0M810.6,920.3h0M919.8,847.9h0M889.3,844.2h0M887.8,973.1h0M809.8,837.1h0M853.3,966.4h0M793.3,950.4h0M871.4,940.8h0M912.2,849.6h0M867.9,833.2h0M805.9,852.6h0M804.7,860.1h0M845.8,999.2h0M825,916.5h0M829.5,934.5h0M766.6,950h0M806.4,871.1h0M785.9,949.2h0M903.3,934.4h0M788.4,945.4h0M778.9,850.4h0M906.1,912h0M783.2,857.1h0M822.4,919.7h0M804,822.2h0M875,862.7h0M928.1,885.9h0M917.2,842h0M892.7,814.6h0M813.7,921.8h0M820.4,913.3h0M785.5,809.7h0M850.4,836.9h0M878,912.1h0M785.4,846.1h0M900.2,921.1h0M906,916.1h0M876.4,963.1h0M820.8,956.2h0M854.4,833.1h0M897.5,948h0M821.5,862.1h0M866.6,888.5h0M943.4,879.6h0M832.3,812.4h0M879.3,888.5h0M814.8,807.5h0M769.8,896.2h0M852.5,990.8h0M814.5,802.6h0M884.4,955.6h0M848.7,926h0M890.9,959h0M904.9,908.5h0M808.8,893.8h0M770.3,851.1h0M876.4,899.2h0M815.2,849.9h0M791.2,891.7h0M864.6,993.2h0M793.1,881.9h0M935.8,888.6h0M777.9,824.7h0M775,841.6h0M842.1,975.9h0M817.4,848.3h0M756.7,890.9h0M771.9,831.2h0M753.5,848.2h0M829.1,916.8h0M783.6,982.2h0M901.3,912.9h0M795.8,828.8h0M842.2,916.9h0M902.6,829.4h0M893,902.1h0M881.2,894.1h0M794.4,952.1h0M878.4,918.4h0M786.3,833.7h0M845.7,956.3h0M855.4,847.1h0M892.6,942.3h0M812.2,918h0M853.7,827.2h0M743,851.2h0M866.8,894.6h0M756.5,897h0M894.6,849.5h0M896.2,933.7h0M924,886h0M772.4,865.6h0M797.2,809.9h0M834,949.4h0M896.1,949.6h0M787.3,981.6h0M853.3,884.8h0M864.8,845h0M724.8,861.5h0M854.3,935.3h0M824.3,840.2h0M878.4,933.3h0M805.4,817h0M869.3,910.4h0M898.1,841.1h0M729.2,872.1h0M903.2,847.9h0M845.1,979.7h0M902.4,913.5h0M819.9,845.9h0M816.7,950.5h0M910,853.1h0M870.5,925.8h0M870.7,857.4h0M802.2,855.6h0M913.5,898.8h0M737,853h0M890.9,907h0M770,825.1h0M822.5,851.5h0M824.1,908.9h0M756.5,856.5h0M900.5,899h0M764,823.5h0M775.5,853.1h0M861.7,930h0M736.7,850.2h0M818.6,922h0M869.6,834.9h0M790.3,899.1h0M915.2,897.8h0M782.2,851.3h0M773.4,979.1h0M870,921h0M837.3,899.7h0M859.2,938.5h0M731.9,897h0M795.4,826.7h0M874.1,937.2h0M749.5,901.5h0M726.7,854.7h0M865.2,901.1h0M787.5,982.3h0M872.8,928.1h0M776.8,978.5h0M800.4,811.9h0M881.4,902.8h0M799.5,946h0M801,855.8h0M807.2,888.6h0M801,899h0M894.7,829.6h0M889.2,915.5h0M794.6,866.6h0M905.4,858.9h0M791.9,812h0M799.7,880.4h0M818.2,864.8h0M824.1,917.6h0M756,835.3h0M854.6,850.3h0M878.9,889.3h0M881.8,907.1h0M816.2,827.1h0M778.7,821.8h0M730,902.1h0M849.3,887.5h0M781.1,836.1h0M811.5,811.5h0M882.5,930.9h0M826.2,816.4h0M766.3,824.5h0M879.4,885.3h0M761.4,828.7h0M896.2,930.5h0M828.6,911.7h0M900.5,830.5h0M920.9,832.7h0M868,847.5h0M811.5,953.7h0M745,861.2h0M829.2,899.9h0M839.7,903.9h0M786.1,951.5h0M919.2,849.6h0M881.7,897.4h0M775.3,980.8h0M884.3,946.5h0M741.9,866.5h0M908.7,864.4h0M859.5,967.9h0M829.6,854.1h0M809.2,895.3h0M773.4,899h0M872.7,861h0M829.1,841.6h0M867.7,947h0M904.8,908.3h0M833.1,961.2h0M889.9,841h0M837.4,946.4h0M838.9,967.5h0M790,826.8h0M812.8,849.3h0M780.8,888.1h0M907.4,857.9h0M779.8,841.5h0M885.8,829.1h0M872.4,908.4h0M838.9,958.8h0M806.8,831.9h0M875.8,961.2h0M898.2,824.5h0M831.7,964h0M814.7,942h0M764.9,887.1h0M738.6,860.9h0M728.7,916.3h0M887.9,838.9h0M905.2,937.6h0M840.8,928.4h0M779.9,833.2h0M800.5,987.6h0M815,914.3h0M865.9,947.9h0M767.1,842.8h0M795,981h0M832.8,894.7h0M758.1,900h0M744.7,853.6h0M781.4,809.5h0M898.5,898.9h0M773.6,837.1h0M858.7,909h0M817.9,979.5h0M861.8,959.1h0M775.6,987.8h0M818,873.6h0M873.9,906.8h0M844.8,920h0M771.6,869.2h0M851.2,946.4h0M874.2,901.4h0M767.5,947.3h0M781,943.4h0M818,875h0M862.6,989.4h0M801.5,867.4h0M787.7,954.5h0M815.5,971.5h0M898.8,950h0M900.3,900.1h0M828.9,901.6h0M797.8,890.3h0M859.3,918.9h0M932.6,879.9h0M807.6,954.9h0M795.5,885.6h0M870.6,860.9h0M853.8,835.6h0M791.3,852.8h0M847.9,922.6h0M813,921.2h0M736.7,853.9h0M731.9,872.4h0M869.4,923.5h0M811.4,944.4h0M808.6,838h0M838.5,971.2h0M856.7,894.1h0M895.1,957.8h0M793.3,831h0M899.1,901.3h0M922.3,891h0M761,825.9h0M918.5,889.4h0M942.6,877.8h0M922,886.4h0M816.6,928.6h0M881.9,937.4h0M870.3,862.3h0M796.7,880.2h0M821.7,912.9h0M828.6,816.8h0M870.9,838.8h0M829.2,978.9h0M770.9,868.5h0M723.3,900.2h0M898.2,906.3h0M811.7,917.1h0M894.5,967.1h0M755.2,896.5h0M825.3,911.4h0M901.2,949.2h0M771.1,946.7h0M802.6,895.8h0M769.3,889.4h0M846.3,885.1h0M791,946.8h0M795.8,947.1h0M869.9,867.4h0M890.9,951.7h0M813.5,809.4h0M727.2,873.7h0M826.6,875.4h0M938.4,875.6h0M847.8,999.8h0M872.1,861.9h0M877.8,890.7h0M790.4,899.1h0M911.8,855.6h0M861,888.6h0M836.4,945.3h0M886,831.6h0M891.1,957.2h0M889,915.4h0M885.9,941.5h0M838,895.1h0M804.1,825.8h0M763,857.5h0M771.6,976.1h0M895.1,915.4h0M844.7,992.1h0M784.2,893.7h0M872.1,868.7h0M815.4,977.8h0M891.7,921.1h0M897.2,908h0M903.7,851h0M771,862.6h0M810.8,962.8h0M871.8,847h0M847,997.9h0M763.6,956.1h0M804.6,947.4h0M863,884.7h0M801.6,859.9h0M745.1,885.6h0M888,843.4h0M814.3,825.7h0M776.6,830.9h0M818.2,828.6h0M733.5,852.7h0M745.1,888h0M771.8,954.2h0M765.2,897.3h0M858.3,932.5h0M888.3,969.8h0M851.5,824.9h0M903.1,844.2h0M858.6,943.8h0M785.1,837.4h0M765.8,888.8h0M845.9,886h0M734,909.1h0M892.6,944.7h0M846.9,974.1h0M899,894.4h0M817.6,969.8h0M818.2,944.7h0M862.5,956.9h0M818.5,869.4h0M842.3,923.8h0M830.6,903.3h0M731.3,856h0M724.3,863.4h0M784.7,898.4h0M832.4,940.3h0M767,901.1h0M883.8,897.1h0M886.3,937.8h0M895.8,962h0M859,849.9h0M838.8,873h0M762.8,841.3h0M806.5,894.6h0M806.3,883.7h0M829.1,833.1h0M796.1,941.5h0M841.1,949.5h0M824.9,823.9h0M838.9,894.1h0M906.1,844.7h0M792.4,977.7h0M884.5,914.7h0M765.9,848.9h0M874.1,857.9h0M870.2,966.4h0M896.8,866h0M836.5,959.9h0M776.8,830.9h0M865.1,956.2h0M768.3,854.2h0M893.5,827.7h0M914.8,859.2h0M855,849.3h0M813.7,826.2h0M773,901.3h0M899.9,917.4h0M894.2,927h0M794,896.9h0M835.4,979.9h0M831.1,939.1h0M864.9,963.4h0M776.2,951.4h0M792.9,832.7h0M810.3,938.9h0M762.7,892.1h0M813.8,825.8h0M891.5,919.8h0M889.1,927.3h0M848.1,837.3h0M855.4,855.5h0M805.2,839.2h0M896.9,853.8h0M894,936.6h0M789.3,856.7h0M901,841.3h0M822.9,967.1h0M815.5,954.1h0M878.5,952.8h0M860.2,852.3h0M763.1,892.2h0M876.4,966.3h0M917.1,854.2h0M918.5,837.3h0M796.3,949.2h0M739.3,887.2h0M822.6,979.9h0M847.6,908.2h0M835.4,978.3h0M809.9,949h0M868.6,946.3h0M838.3,838.2h0M785.9,882.2h0M923.8,891.1h0M808.7,851.6h0M869.2,953.9h0M797.4,860.5h0M723.5,900.9h0M792.9,824h0M848.5,921.2h0M813.9,870.7h0M784.3,830.9h0M762,835.1h0M863.9,838.9h0M883.3,904.4h0M828,981.4h0M772,844.7h0M798.1,901h0M838.2,1000.5h0M836.8,996.8h0M820.7,946.7h0M819.9,909.4h0M801.9,943.8h0M826.7,851.4h0M796,812.5h0M779.9,942.5h0M745.9,856.5h0M924.8,893.3h0M721.9,895h0M734.5,892.3h0M895,951.8h0M831.1,914.4h0M872.4,942.1h0M835.2,840h0M827.4,917.9h0M793.3,834h0M800.5,886.4h0M773.9,954h0M757.3,848.4h0M856.9,883.9h0M823.9,843.9h0M834.4,935.2h0M825.8,849.3h0M886.8,921.1h0M852.8,937.4h0M869.4,861.1h0M825,820.6h0M845.8,822.5h0M800.9,878.4h0M770,869.9h0M809.9,979.8h0M849.5,907h0M872.4,927.3h0M904,942.2h0M793.4,837.2h0M878.2,892.9h0M729,914.1h0M729.8,861.4h0M917.7,841.1h0M765.9,851.9h0M827.3,923.9h0M739,853.8h0M848.8,956.4h0M804.7,858.9h0M872.4,911.9h0M840.3,933.5h0M823.4,947.3h0M766.5,845h0M854,847.5h0M784.8,864.8h0M836.9,829.8h0M781.5,826.9h0M891.6,907.6h0M793.1,898.2h0M835,963.2h0M830.6,867.6h0M839.9,892.2h0M816.7,922.9h0M760.5,947.7h0M804.5,822h0M884.7,914.3h0M922.5,829.6h0M843.5,926.3h0M827.8,842.8h0M890.5,831.9h0M895.9,866.2h0M768.5,959.9h0M785.4,878.8h0M790.9,951.8h0M816.3,838.5h0M868,842h0M895.2,920.1h0M815.8,973h0M843.6,823.3h0M826.9,829.8h0M778.7,825.9h0M839.6,889.8h0M849.7,941.6h0M826.1,910.4h0M817.9,953.2h0M776.6,894.2h0M846.6,914.6h0M857.8,857.6h0M812.8,926.6h0M857.8,853.7h0M854.6,897.2h0M757,841.3h0M846.6,991.6h0M871,888.9h0M880.6,897.5h0M811.1,802.4h0M841.8,955.5h0M766.3,944.6h0M919.5,837.1h0M861.5,916.5h0M805.7,847.4h0M845.8,926.4h0M784.8,980.5h0M822.6,826.2h0M739.1,903.7h0M832.1,955.6h0M883.6,892.9h0M886.7,923.8h0M774.4,949.7h0M867.1,961.8h0M746.5,851.2h0M804.6,975h0M820.3,940.4h0M792.2,837.9h0M835.3,973.5h0M773.5,861.9h0M796.2,986h0M890.1,919.9h0M837.8,820.2h0M792.2,973.1h0M803.9,831.7h0M814.6,915.5h0M862.3,970.7h0M802.1,885.9h0M870.9,899.2h0M783.9,892h0M821.4,841.7h0M838.8,924.9h0M840.9,902.8h0M855.8,907.5h0M881.2,970.3h0M864.9,984.4h0M908.9,862.9h0M889.4,965.8h0M781.4,871.5h0M789.6,942.6h0M907.1,834h0M765.3,979.8h0M826.8,954.6h0M784.2,883.8h0M786.3,981.2h0M849.4,881.6h0M930,894h0M838.8,924.6h0M768.2,950.3h0M811.3,852.7h0M828.8,842.9h0M780.1,839.3h0M855.3,837h0M858.7,843.4h0M765.5,890.6h0M870.4,893.3h0M809.9,827h0M827.9,934.6h0M761.4,836.9h0M838.6,921.5h0M864.5,973.8h0M807.3,804.2h0M772.7,863.2h0M940.3,880h0M822.8,838.6h0M873.6,965.7h0M824.3,953.2h0M904,935.8h0M870.3,919h0M914.9,835.9h0M888.8,910h0M771.3,887.4h0M775,975.5h0M797.9,866.9h0M848.4,938h0M844.2,895.5h0M890.8,823.3h0M838.2,931h0M830,928.9h0M900.2,907.2h0M790.1,808.1h0M834.4,981.6h0M834.3,834.1h0M911.7,860.8h0M792.2,826.8h0M829.4,853.8h0M858.6,916.3h0M863.4,898.6h0M811.9,980.4h0M814.8,969.9h0M834.2,861h0M888.7,921h0M797.8,820.4h0M795.7,828.5h0M819.7,934.4h0M823.5,948.3h0M881,949.4h0M841.8,884.1h0M810.5,970.3h0M797.3,981.1h0M906.5,914.3h0M904.8,851.9h0M922.4,831.5h0M840.2,934.9h0M763.4,897.9h0M845.4,893.8h0M762.3,892.6h0M730.7,889.6h0M787.8,974.5h0M878.3,937.2h0M818.2,825h0M775.3,856.2h0M899.8,929.1h0M732.6,897h0M857.7,918.8h0M762.5,885h0M845.9,949h0M896.8,813.3h0M771.3,836h0M902.5,823h0M853.6,917.9h0M817.5,852.5h0M828.6,908.7h0M813,838.9h0M887.3,841.7h0M848.5,994h0M890.8,898.4h0M846.6,960.9h0M856.9,901.5h0M912.7,836.8h0M867.7,954.4h0M876.9,891.2h0M767.3,836.2h0M771,824.2h0M872.3,947.6h0M856.6,886.6h0M863,856.6h0M819.9,949.5h0M845.8,962h0M804.1,836.9h0M809.7,841h0M808.2,976.5h0M899.4,842.9h0M767.8,958.8h0M881.3,928.8h0M802.1,976.3h0M922,833.3h0M828.7,1002.7h0M852.2,957.2h0M837.2,892.8h0M854.6,886.5h0M771,944.2h0M867.3,917.3h0M914.8,852.3h0M786.1,975.6h0M824.2,897h0M763.5,902.3h0M909.5,840.7h0M898.1,953.4h0M816,905.6h0M834.7,819.5h0M778.5,845.2h0M806.8,856.8h0M818.2,981.2h0M856.6,987.2h0M836.1,933h0M818.4,932.3h0M766,949.9h0M847.5,820.9h0M794.7,853.6h0M834.6,896.1h0M772.6,845.5h0M785.2,953.1h0M894.6,845.4h0M801.7,830.9h0M915.1,845.3h0M743.5,857h0M828.5,844.1h0M825,822.9h0M839.6,959.4h0M757.7,832.6h0M851.2,968h0M852.8,884.2h0M831.5,980.4h0M764.7,823.8h0M853.5,827h0M806.1,941h0M787.7,806.5h0M777.2,823.9h0M918.1,844.4h0M899.7,818h0M773.8,945.7h0M767.4,901.6h0M809.1,840.7h0M788.9,812.3h0M794.4,820.8h0M780.6,866.8h0M786.7,810.4h0M890.4,947.4h0M828.8,928.7h0M807.4,832.7h0M832.1,999.9h0M893.5,971.6h0M747.8,885.9h0M758.6,885.1h0M837.5,822.5h0M878.7,955.5h0M759.3,841.6h0M762,886.8h0M762.4,901.2h0M767.3,861.7h0M896.4,829.2h0M817,845.9h0M825.6,859h0M820.1,955.2h0M893.1,818.4h0M819.1,870.9h0M797.6,987.7h0M872.3,981.4h0M753.4,896.1h0M784,886.5h0M847.6,941.8h0M720,864.5h0M813.5,860.7h0M900.1,829.8h0M761.4,824.4h0M730.7,871.7h0M871.3,934h0M723.5,893.2h0M848.8,879.3h0M834,813.3h0M849.8,962.5h0M789.4,836.6h0M751.1,890.9h0M904.7,906.7h0M865.2,948.1h0M753.1,893.6h0M764.5,899h0M782.6,947.9h0M781.9,955.1h0M731.4,895.7h0M863.6,909.8h0M856.1,852.6h0M767.6,949.6h0M806,820h0M827.4,940.6h0M776.9,984.9h0M743.8,852h0M744,862.9h0M812.4,832.2h0M801.5,804.9h0M788.1,894.9h0M919.5,849.6h0M735.2,865.5h0M917.1,837.4h0M807.6,842.6h0M832.5,969.2h0M810,964.2h0M836.6,995h0M880.1,910.4h0M793.9,893.8h0M725.7,868.8h0M886.2,889.4h0M811.3,972.2h0M807.1,821.6h0M786,879.2h0M907,831.6h0M836.3,956.5h0M830.9,831h0M870.9,852h0M821,848.3h0M772.6,852.8h0M829.4,943.4h0M770.4,983h0M881.9,946.1h0M916.3,850.9h0M823.8,921.2h0M901.4,924.5h0M850.3,886.7h0M808.3,977.7h0M890.3,904.7h0M759.6,843.5h0M858.9,844.3h0M872.6,847.7h0M901.6,859.1h0M873.3,986.2h0M848.9,911.2h0M846,889.7h0M806.4,944.7h0M902.4,831.2h0M833.2,937.4h0M891.4,830.7h0M888.5,832.1h0M914.4,835.8h0M778.8,944.2h0M892.2,968.4h0M819.5,962.7h0M777.2,946h0M789,946.8h0M925,896.6h0M845.7,919.2h0M835.9,968.1h0M915.8,845.9h0M770.9,841.9h0M817.4,817h0M817.8,872.2h0" stroke="#f2f2f2" stroke-width="2.2" stroke-linecap="round" fill="none" filter="url(#bl2)"/><g filter="url(#bl)"><path d="M856.6,957.5 L868.8,946.5 L881.1,934.3 L895.8,919.6 L901.9,913.5" fill="none" stroke="#f4f4f4" stroke-width="3.2" stroke-linecap="round"/><path d="M810.7,915.3 L828.4,903.9 L849.1,894.6 L865.7,886.3 L875.1,876.9" fill="none" stroke="#f4f4f4" stroke-width="3.2" stroke-linecap="round"/><path d="M865.7,886.3 L870.9,904.9 L872.4,927.8 L868.4,950.6 L862,967.2" fill="none" stroke="#f4f4f4" stroke-width="3.2" stroke-linecap="round"/></g></g>
<rect x="682" y="762" width="293.9" height="263" fill="none" stroke="#30318f" stroke-width="2.8"/>
<text x="680.11" y="755.9" font-size="29.9" fill="#161616" stroke="#161616" stroke-width="0.4">Extra-embryonic origin</text>
<text x="692.06" y="791.2" font-size="29.3" fill="#161616" stroke="#161616" stroke-width="0.4"><tspan font-style="italic">n</tspan> = 50</text>
<circle cx="281.4" cy="897.3" r="6" fill="#c2def0"/><circle cx="127" cy="926" r="6" fill="#55b5e5"/><circle cx="145" cy="922" r="6" fill="#55b5e5"/><circle cx="147" cy="932" r="6" fill="#4fb2e0"/><circle cx="137" cy="934" r="6" fill="#4a9ad6"/><circle cx="152.9" cy="918.5" r="6" fill="#b4d4ea"/><circle cx="162.7" cy="920.9" r="6" fill="#b8d6ea"/><circle cx="152.9" cy="909.5" r="6" fill="#8ec8ea"/><circle cx="141.1" cy="912.8" r="6" fill="#b4b4e0"/><circle cx="167.2" cy="910.8" r="6" fill="#3d8fd0"/><circle cx="144.8" cy="929" r="6" fill="#4fb2e0"/><circle cx="122.8" cy="924.2" r="6" fill="#5ab8e6"/><circle cx="135.8" cy="912.8" r="6" fill="#3f92d0"/><circle cx="117.1" cy="930.7" r="6" fill="#3878c4"/><circle cx="127.7" cy="916.9" r="6" fill="#3a3fa2"/><circle cx="115.5" cy="920.9" r="6" fill="#3a3da0"/><circle cx="139.1" cy="923.4" r="6" fill="#3b42a4"/><circle cx="125.2" cy="931.9" r="6" fill="#3a44a6"/><circle cx="133.4" cy="931.9" r="6" fill="#3a40a2"/><circle cx="120.5" cy="925.5" r="6" fill="#3a3fa2"/><circle cx="594.7" cy="897" r="6" fill="#b6daf0"/><circle cx="466" cy="920.5" r="6" fill="#b0d4ea"/><circle cx="475.9" cy="920.5" r="6" fill="#b8d6ea"/><circle cx="466.5" cy="910.2" r="6" fill="#98ccec"/><circle cx="481.2" cy="910.2" r="6" fill="#4aaee0"/><path d="M426.1,920.5 L428.8,917.3 L435.1,915.1 L442.3,911.5 L448.1,909.9 L453,912 L457.5,915.1 L462.4,918.7 L463.8,924.9 L461.5,931.2 L457.5,934.8 L450.3,935.7 L441.4,935.3 L433.3,934.8 L427.9,933.9 L426.1,928.1Z" fill="#55b1e0"/><circle cx="449.7" cy="929" r="5.2" fill="#5ab6e4"/><circle cx="427.1" cy="921.6" r="5.2" fill="#52aede"/><circle cx="450.7" cy="933.3" r="5.2" fill="#55b1e0"/><circle cx="440.1" cy="932.4" r="5.2" fill="#4eabdc"/><circle cx="446.7" cy="924.5" r="5.2" fill="#55b1e0"/><circle cx="453.8" cy="920" r="5.2" fill="#52aede"/><circle cx="460.8" cy="929.7" r="5.2" fill="#52aede"/><circle cx="449.5" cy="921" r="5.2" fill="#52aede"/><circle cx="437" cy="935" r="5.2" fill="#5ab6e4"/><circle cx="459.3" cy="925.9" r="5.2" fill="#52aede"/><circle cx="461.8" cy="927.6" r="5.2" fill="#4eabdc"/><circle cx="437.4" cy="918.8" r="5.2" fill="#52aede"/><circle cx="438.6" cy="931.1" r="5.2" fill="#5ab6e4"/><circle cx="438.8" cy="917.4" r="5.2" fill="#58b4e2"/><circle cx="444.3" cy="917.5" r="5.2" fill="#4eabdc"/><circle cx="444" cy="913.8" r="5.2" fill="#58b4e2"/><circle cx="454.5" cy="931.8" r="5.2" fill="#55b1e0"/><circle cx="446.9" cy="920.3" r="5.2" fill="#4eabdc"/><circle cx="454.7" cy="934.1" r="5.2" fill="#4eabdc"/><circle cx="439.1" cy="918.6" r="5.2" fill="#5ab6e4"/><circle cx="435.5" cy="921.5" r="5.2" fill="#5ab6e4"/><circle cx="454.4" cy="930.5" r="5.2" fill="#58b4e2"/><circle cx="429.5" cy="918.2" r="5.2" fill="#5ab6e4"/><circle cx="439.8" cy="913" r="5.2" fill="#58b4e2"/><circle cx="461.1" cy="923.7" r="5.2" fill="#58b4e2"/><circle cx="452.1" cy="917.3" r="5.2" fill="#55b1e0"/><circle cx="449.8" cy="928.5" r="5.2" fill="#58b4e2"/><circle cx="446.3" cy="920" r="5.2" fill="#52aede"/><circle cx="454.1" cy="918.3" r="5.2" fill="#58b4e2"/><circle cx="443.3" cy="920.4" r="5.2" fill="#55b1e0"/><circle cx="463.2" cy="926.2" r="5.2" fill="#4eabdc"/><circle cx="438.7" cy="914.6" r="5.2" fill="#5ab6e4"/><circle cx="462.1" cy="926" r="5.2" fill="#4eabdc"/><circle cx="430.1" cy="920.7" r="5.2" fill="#52aede"/><circle cx="428.2" cy="920.4" r="5.2" fill="#52aede"/><circle cx="443.2" cy="922.2" r="5.2" fill="#58b4e2"/><circle cx="444.2" cy="916.9" r="5.2" fill="#4eabdc"/><circle cx="457.2" cy="923.4" r="5.2" fill="#52aede"/><circle cx="449.8" cy="922.5" r="5.2" fill="#58b4e2"/><circle cx="432.8" cy="922.3" r="5.2" fill="#5ab6e4"/><circle cx="455.7" cy="932.4" r="5.2" fill="#58b4e2"/><circle cx="428.4" cy="930.5" r="5.2" fill="#58b4e2"/><circle cx="452.4" cy="926.9" r="5.2" fill="#58b4e2"/><circle cx="439.8" cy="928" r="5.2" fill="#58b4e2"/><circle cx="430.5" cy="933.5" r="4.8" fill="#8ccbeb"/><circle cx="793.8" cy="911.4" r="6" fill="#9c9cd2"/><circle cx="767.4" cy="913.9" r="6" fill="#aeaedc"/><circle cx="745" cy="929.6" r="6" fill="#6e70bc"/><circle cx="743.5" cy="920.2" r="6" fill="#3a40a2"/><circle cx="754.7" cy="916.9" r="6" fill="#3b42a4"/><circle cx="766.5" cy="923.7" r="6" fill="#3a40a2"/><circle cx="752.8" cy="930.5" r="6" fill="#3b44a6"/><circle cx="761.6" cy="931.5" r="6" fill="#3a42a4"/>
<text x="1115.23" y="25.6" font-size="46" fill="#161616" stroke="#161616" stroke-width="0.4">c</text>
<text x="1279.12" y="80.6" font-size="44.73" fill="#161616" stroke="#161616" stroke-width="0.4">Data from Ibarra-Soria <tspan font-style="italic">et al.</tspan>, 2018</text>
<text transform="translate(1190,779.37) rotate(-90)" font-size="44.6" fill="#161616" stroke="#161616" stroke-width="0.4">Log<tspan font-size="22">10</tspan> (norm counts + 1)</text>
<g stroke="#161616" stroke-width="1.7" fill="none">
<path d="M1279.7,104.5 V525.8 H2125"/>
<path d="M1269,510.3 H1279.7"/>
<path d="M1269,390.75 H1279.7"/>
<path d="M1269,271.2 H1279.7"/>
<path d="M1269,151.65 H1279.7"/>
</g>
<text x="1210.12" y="515.4" font-size="36.5" fill="#161616" stroke="#161616" stroke-width="0.4">0.0</text>
<text x="1210.12" y="395.85" font-size="36.5" fill="#161616" stroke="#161616" stroke-width="0.4">0.5</text>
<text x="1210.12" y="276.3" font-size="36.5" fill="#161616" stroke="#161616" stroke-width="0.4">1.0</text>
<text x="1210.12" y="156.75" font-size="36.5" fill="#161616" stroke="#161616" stroke-width="0.4">1.5</text>
<text x="1634.54" y="142.4" font-size="45.1" font-style="italic" fill="#161616" stroke="#161616" stroke-width="0.4">Trap1a</text>
<g stroke="#161616" stroke-width="2" fill="#fff"><path d="M1330.7,164.1 V280.8 M1321.7,164.1 H1339.7" /><path d="M1330.7,364.2 V461.6 M1321.7,461.6 H1339.7" /><rect x="1314.7" y="280.8" width="32" height="83.4"/></g>
<path d="M1315.7,318.4 H1345.7" stroke="#d9261c" stroke-width="3"/>
<g stroke="#161616" stroke-width="2" fill="#fff"><path d="M1369.76,121.8 V329.4 M1360.76,121.8 H1378.76" /><rect x="1353.76" y="329.4" width="32" height="180.9"/></g>
<path d="M1354.76,510.3 H1384.76" stroke="#d9261c" stroke-width="3"/>
<g stroke="#161616" stroke-width="2" fill="#fff"><path d="M2072.84,174.6 V279.8 M2063.84,174.6 H2081.84" /><path d="M2072.84,365.1 V469.3 M2063.84,469.3 H2081.84" /><rect x="2056.84" y="279.8" width="32" height="85.3"/></g>
<path d="M2057.84,319.8 H2087.84" stroke="#d9261c" stroke-width="3"/>
<path d="M1353.76,510.3 H1385.76" stroke="#d9261c" stroke-width="3"/>
<path d="M1392.82,510.3 H1424.82" stroke="#d9261c" stroke-width="3"/>
<path d="M1431.88,510.3 H1463.88" stroke="#d9261c" stroke-width="3"/>
<path d="M1470.94,510.3 H1502.94" stroke="#d9261c" stroke-width="3"/>
<path d="M1510,510.3 H1542" stroke="#d9261c" stroke-width="3"/>
<path d="M1549.06,510.3 H1581.06" stroke="#d9261c" stroke-width="3"/>
<path d="M1588.12,510.3 H1620.12" stroke="#d9261c" stroke-width="3"/>
<path d="M1627.18,510.3 H1659.18" stroke="#d9261c" stroke-width="3"/>
<path d="M1666.24,510.3 H1698.24" stroke="#d9261c" stroke-width="3"/>
<path d="M1705.3,510.3 H1737.3" stroke="#d9261c" stroke-width="3"/>
<path d="M1744.36,510.3 H1776.36" stroke="#d9261c" stroke-width="3"/>
<path d="M1783.42,510.3 H1815.42" stroke="#d9261c" stroke-width="3"/>
<path d="M1822.48,510.3 H1854.48" stroke="#d9261c" stroke-width="3"/>
<path d="M1861.54,510.3 H1893.54" stroke="#d9261c" stroke-width="3"/>
<path d="M1900.6,510.3 H1932.6" stroke="#d9261c" stroke-width="3"/>
<path d="M1939.66,510.3 H1971.66" stroke="#d9261c" stroke-width="3"/>
<path d="M1978.72,510.3 H2010.72" stroke="#d9261c" stroke-width="3"/>
<path d="M2017.78,510.3 H2049.78" stroke="#d9261c" stroke-width="3"/>
<g stroke="#161616" stroke-width="1.7" fill="none">
<path d="M1279.7,569.9 V991.2 H2125"/>
<path d="M1269,975.6 H1279.7"/>
<path d="M1269,870.6 H1279.7"/>
<path d="M1269,765.6 H1279.7"/>
<path d="M1269,660.6 H1279.7"/>
</g>
<text x="1210.12" y="980.7" font-size="36.5" fill="#161616" stroke="#161616" stroke-width="0.4">0.0</text>
<text x="1210.12" y="875.7" font-size="36.5" fill="#161616" stroke="#161616" stroke-width="0.4">0.5</text>
<text x="1210.12" y="770.7" font-size="36.5" fill="#161616" stroke="#161616" stroke-width="0.4">1.0</text>
<text x="1210.12" y="665.7" font-size="36.5" fill="#161616" stroke="#161616" stroke-width="0.4">1.5</text>
<text x="1638.46" y="607.8" font-size="44.6" font-style="italic" fill="#161616" stroke="#161616" stroke-width="0.4">Rhox5</text>
<g stroke="#161616" stroke-width="2" fill="#fff"><path d="M1330.7,635 V702.5 M1321.7,635 H1339.7" /><path d="M1330.7,765.3 V857.4 M1321.7,857.4 H1339.7" /><rect x="1314.7" y="702.5" width="32" height="62.8"/></g>
<path d="M1315.7,731 H1345.7" stroke="#d9261c" stroke-width="3"/>
<g stroke="#161616" stroke-width="2" fill="#fff"><path d="M1369.76,657.2 V829.9 M1360.76,657.2 H1378.76" /><rect x="1353.76" y="829.9" width="32" height="145.7"/></g>
<path d="M1354.76,975.6 H1384.76" stroke="#d9261c" stroke-width="3"/>
<g stroke="#161616" stroke-width="2" fill="#fff"><path d="M2072.84,584.9 V682.8 M2063.84,584.9 H2081.84" /><path d="M2072.84,751.3 V846.8 M2063.84,846.8 H2081.84" /><rect x="2056.84" y="682.8" width="32" height="68.5"/></g>
<path d="M2057.84,714.6 H2087.84" stroke="#d9261c" stroke-width="3"/>
<path d="M1353.76,975.6 H1385.76" stroke="#d9261c" stroke-width="3"/>
<path d="M1392.82,975.6 H1424.82" stroke="#d9261c" stroke-width="3"/>
<path d="M1431.88,975.6 H1463.88" stroke="#d9261c" stroke-width="3"/>
<path d="M1470.94,975.6 H1502.94" stroke="#d9261c" stroke-width="3"/>
<path d="M1510,975.6 H1542" stroke="#d9261c" stroke-width="3"/>
<path d="M1549.06,975.6 H1581.06" stroke="#d9261c" stroke-width="3"/>
<path d="M1588.12,975.6 H1620.12" stroke="#d9261c" stroke-width="3"/>
<path d="M1627.18,975.6 H1659.18" stroke="#d9261c" stroke-width="3"/>
<path d="M1666.24,975.6 H1698.24" stroke="#d9261c" stroke-width="3"/>
<path d="M1705.3,975.6 H1737.3" stroke="#d9261c" stroke-width="3"/>
<path d="M1744.36,975.6 H1776.36" stroke="#d9261c" stroke-width="3"/>
<path d="M1783.42,975.6 H1815.42" stroke="#d9261c" stroke-width="3"/>
<path d="M1822.48,975.6 H1854.48" stroke="#d9261c" stroke-width="3"/>
<path d="M1861.54,975.6 H1893.54" stroke="#d9261c" stroke-width="3"/>
<path d="M1900.6,975.6 H1932.6" stroke="#d9261c" stroke-width="3"/>
<path d="M1939.66,975.6 H1971.66" stroke="#d9261c" stroke-width="3"/>
<path d="M1978.72,975.6 H2010.72" stroke="#d9261c" stroke-width="3"/>
<path d="M2017.78,975.6 H2049.78" stroke="#d9261c" stroke-width="3"/>
<text transform="translate(1339.2,1015.2) rotate(-45)" font-size="29.7" text-anchor="end" textLength="217.98" lengthAdjust="spacing" fill="#161616" stroke="#161616" stroke-width="0.4">Extra. Endoderm</text>
<text transform="translate(1378.26,1015.2) rotate(-45)" font-size="29.7" text-anchor="end" textLength="154.58" lengthAdjust="spacing" fill="#161616" stroke="#161616" stroke-width="0.4">Mid/hindgut</text>
<text transform="translate(1417.32,1015.2) rotate(-45)" font-size="29.7" text-anchor="end" textLength="101.77" lengthAdjust="spacing" fill="#161616" stroke="#161616" stroke-width="0.4">Foregut</text>
<text transform="translate(1456.38,1015.2) rotate(-45)" font-size="29.7" text-anchor="end" textLength="107.76" lengthAdjust="spacing" fill="#161616" stroke="#161616" stroke-width="0.4">Placode</text>
<text transform="translate(1495.44,1015.2) rotate(-45)" font-size="29.7" text-anchor="end" textLength="125.83" lengthAdjust="spacing" fill="#161616" stroke="#161616" stroke-width="0.4">Forebrain</text>
<text transform="translate(1534.5,1015.2) rotate(-45)" font-size="29.7" text-anchor="end" textLength="178.42" lengthAdjust="spacing" fill="#161616" stroke="#161616" stroke-width="0.4">Mid/hindbrain</text>
<text transform="translate(1573.56,1015.2) rotate(-45)" font-size="29.7" text-anchor="end" textLength="146.1" lengthAdjust="spacing" fill="#161616" stroke="#161616" stroke-width="0.4">Neural tube</text>
<text transform="translate(1612.62,1015.2) rotate(-45)" font-size="29.7" text-anchor="end" textLength="160.48" lengthAdjust="spacing" fill="#161616" stroke="#161616" stroke-width="0.4">Neural crest</text>
<text transform="translate(1651.68,1015.2) rotate(-45)" font-size="29.7" text-anchor="end" textLength="75.91" lengthAdjust="spacing" fill="#161616" stroke="#161616" stroke-width="0.4">Blood</text>
<text transform="translate(1690.74,1015.2) rotate(-45)" font-size="29.7" text-anchor="end" textLength="137.72" lengthAdjust="spacing" fill="#161616" stroke="#161616" stroke-width="0.4">Notochord</text>
<text transform="translate(1729.8,1015.2) rotate(-45)" font-size="29.7" text-anchor="end" textLength="285.13" lengthAdjust="spacing" fill="#161616" stroke="#161616" stroke-width="0.4">Mesoderm progenitor</text>
<text transform="translate(1768.86,1015.2) rotate(-45)" font-size="29.7" text-anchor="end" textLength="288.62" lengthAdjust="spacing" fill="#161616" stroke="#161616" stroke-width="0.4">Presomitic mesoderm</text>
<text transform="translate(1807.92,1015.2) rotate(-45)" font-size="29.7" text-anchor="end" textLength="249.22" lengthAdjust="spacing" fill="#161616" stroke="#161616" stroke-width="0.4">Somitic mesoderm</text>
<text transform="translate(1846.98,1015.2) rotate(-45)" font-size="29.7" text-anchor="end" textLength="300.61" lengthAdjust="spacing" fill="#161616" stroke="#161616" stroke-width="0.4">Pharyngeal mesoderm</text>
<text transform="translate(1886.04,1015.2) rotate(-45)" font-size="29.7" text-anchor="end" textLength="228.84" lengthAdjust="spacing" fill="#161616" stroke="#161616" stroke-width="0.4">Mixed mesoderm</text>
<text transform="translate(1925.1,1015.2) rotate(-45)" font-size="29.7" text-anchor="end" textLength="104.41" lengthAdjust="spacing" fill="#161616" stroke="#161616" stroke-width="0.4">Cardiac</text>
<text transform="translate(1964.16,1015.2) rotate(-45)" font-size="29.7" text-anchor="end" textLength="99.55" lengthAdjust="spacing" fill="#161616" stroke="#161616" stroke-width="0.4">Amnion</text>
<text transform="translate(2003.22,1015.2) rotate(-45)" font-size="29.7" text-anchor="end" textLength="220.56" lengthAdjust="spacing" fill="#161616" stroke="#161616" stroke-width="0.4">Extra. Mesoderm</text>
<text transform="translate(2042.28,1015.2) rotate(-45)" font-size="29.7" text-anchor="end" textLength="146.32" lengthAdjust="spacing" fill="#161616" stroke="#161616" stroke-width="0.4">Endothelial</text>
<text transform="translate(2081.34,1015.2) rotate(-45)" font-size="29.7" text-anchor="end" textLength="207.4" lengthAdjust="spacing" fill="#161616" stroke="#161616" stroke-width="0.4">Extra. Ectoderm</text>
</svg></body></html>
